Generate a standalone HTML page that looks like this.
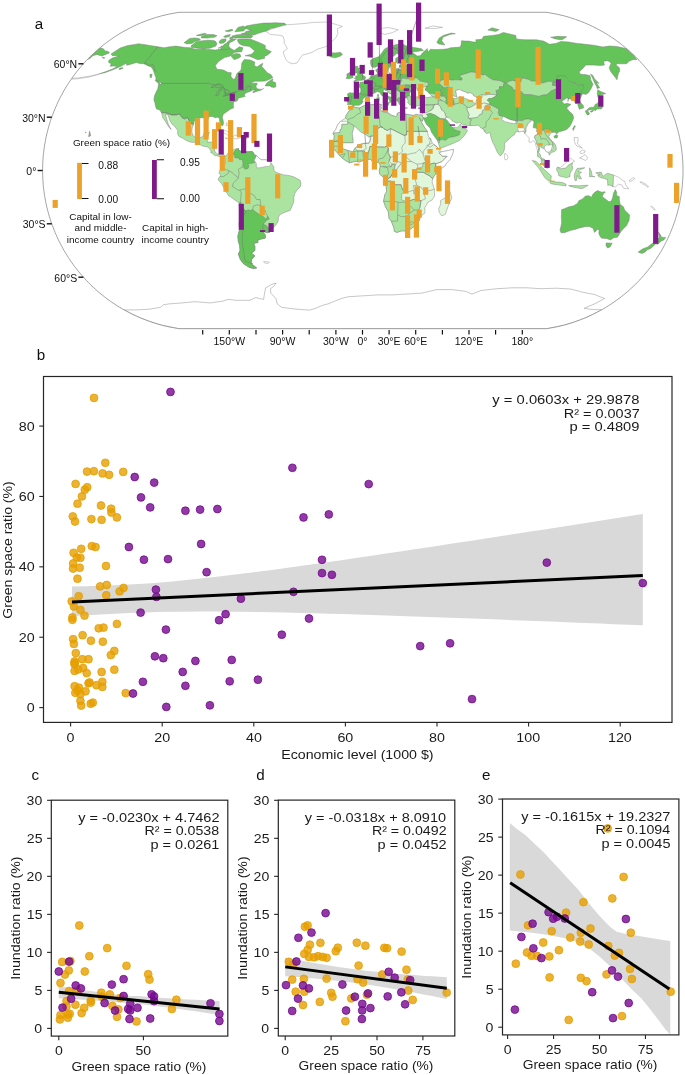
<!DOCTYPE html>
<html><head><meta charset="utf-8"><title>Figure</title>
<style>html,body{margin:0;padding:0;background:#fff;}svg{display:block;will-change:transform;}text{font-family:"Liberation Sans",sans-serif;}</style>
</head><body>
<svg width="685" height="1075" viewBox="0 0 685 1075" font-family='"Liberation Sans", sans-serif'>
<rect width="685" height="1075" fill="#ffffff"/>
<defs><clipPath id="mapclip"><path d="M546.7 12.3 L556.5 14.1 L563.9 15.8 L570.1 17.6 L575.5 19.4 L580.4 21.2 L584.8 22.9 L588.9 24.7 L592.7 26.5 L596.2 28.3 L599.6 30.1 L602.8 31.8 L605.8 33.6 L608.7 35.4 L611.4 37.2 L614 38.9 L616.5 40.7 L619 42.5 L621.3 44.3 L623.5 46.1 L625.7 47.8 L627.8 49.6 L629.8 51.4 L631.7 53.2 L633.6 54.9 L635.5 56.7 L637.2 58.5 L639 60.3 L640.6 62.1 L642.2 63.8 L643.8 65.6 L645.3 67.4 L646.8 69.2 L648.2 70.9 L649.6 72.7 L651 74.5 L652.3 76.3 L653.6 78.1 L654.8 79.8 L656 81.6 L657.2 83.4 L658.3 85.2 L659.4 86.9 L660.5 88.7 L661.6 90.5 L662.6 92.3 L663.5 94.1 L664.5 95.8 L665.4 97.6 L666.3 99.4 L667.2 101.2 L668 102.9 L668.8 104.7 L669.6 106.5 L670.4 108.3 L671.1 110.1 L671.8 111.8 L672.5 113.6 L673.2 115.4 L673.8 117.2 L674.5 118.9 L675.1 120.7 L675.6 122.5 L676.2 124.3 L676.7 126.1 L677.2 127.8 L677.7 129.6 L678.1 131.4 L678.6 133.2 L679 134.9 L679.4 136.7 L679.8 138.5 L680.1 140.3 L680.4 142.1 L680.8 143.8 L681.1 145.6 L681.3 147.4 L681.6 149.2 L681.8 150.9 L682 152.7 L682.2 154.5 L682.4 156.3 L682.5 158.1 L682.6 159.8 L682.8 161.6 L682.8 163.4 L682.9 165.2 L683 166.9 L683 168.7 L683 170.5 L683 172.3 L683 174.1 L682.9 175.8 L682.8 177.6 L682.8 179.4 L682.6 181.2 L682.5 182.9 L682.4 184.7 L682.2 186.5 L682 188.3 L681.8 190.1 L681.6 191.8 L681.3 193.6 L681.1 195.4 L680.8 197.2 L680.4 198.9 L680.1 200.7 L679.8 202.5 L679.4 204.3 L679 206.1 L678.6 207.8 L678.1 209.6 L677.7 211.4 L677.2 213.2 L676.7 214.9 L676.2 216.7 L675.6 218.5 L675.1 220.3 L674.5 222.1 L673.8 223.8 L673.2 225.6 L672.5 227.4 L671.8 229.2 L671.1 230.9 L670.4 232.7 L669.6 234.5 L668.8 236.3 L668 238.1 L667.2 239.8 L666.3 241.6 L665.4 243.4 L664.5 245.2 L663.5 246.9 L662.6 248.7 L661.6 250.5 L660.5 252.3 L659.4 254.1 L658.3 255.8 L657.2 257.6 L656 259.4 L654.8 261.2 L653.6 262.9 L652.3 264.7 L651 266.5 L649.6 268.3 L648.2 270.1 L646.8 271.8 L645.3 273.6 L643.8 275.4 L642.2 277.2 L640.6 278.9 L639 280.7 L637.2 282.5 L635.5 284.3 L633.6 286.1 L631.7 287.8 L629.8 289.6 L627.8 291.4 L625.7 293.2 L623.5 294.9 L621.3 296.7 L619 298.5 L616.5 300.3 L614 302.1 L611.4 303.8 L608.7 305.6 L605.8 307.4 L602.8 309.2 L599.6 310.9 L596.2 312.7 L592.7 314.5 L588.9 316.3 L584.8 318.1 L580.4 319.8 L575.5 321.6 L570.1 323.4 L563.9 325.2 L556.5 326.9 L546.7 328.7 L178.9 328.7 L169.1 326.9 L161.7 325.2 L155.5 323.4 L150.1 321.6 L145.2 319.8 L140.8 318.1 L136.7 316.3 L132.9 314.5 L129.4 312.7 L126 310.9 L122.8 309.2 L119.8 307.4 L116.9 305.6 L114.2 303.8 L111.6 302.1 L109.1 300.3 L106.6 298.5 L104.3 296.7 L102.1 294.9 L99.9 293.2 L97.8 291.4 L95.8 289.6 L93.9 287.8 L92 286.1 L90.1 284.3 L88.4 282.5 L86.6 280.7 L85 278.9 L83.4 277.2 L81.8 275.4 L80.3 273.6 L78.8 271.8 L77.4 270.1 L76 268.3 L74.6 266.5 L73.3 264.7 L72 262.9 L70.8 261.2 L69.6 259.4 L68.4 257.6 L67.3 255.8 L66.2 254.1 L65.1 252.3 L64 250.5 L63 248.7 L62.1 246.9 L61.1 245.2 L60.2 243.4 L59.3 241.6 L58.4 239.8 L57.6 238.1 L56.8 236.3 L56 234.5 L55.2 232.7 L54.5 230.9 L53.8 229.2 L53.1 227.4 L52.4 225.6 L51.8 223.8 L51.1 222.1 L50.5 220.3 L50 218.5 L49.4 216.7 L48.9 214.9 L48.4 213.2 L47.9 211.4 L47.5 209.6 L47 207.8 L46.6 206.1 L46.2 204.3 L45.8 202.5 L45.5 200.7 L45.2 198.9 L44.8 197.2 L44.5 195.4 L44.3 193.6 L44 191.8 L43.8 190.1 L43.6 188.3 L43.4 186.5 L43.2 184.7 L43.1 182.9 L43 181.2 L42.8 179.4 L42.8 177.6 L42.7 175.8 L42.6 174.1 L42.6 172.3 L42.6 170.5 L42.6 168.7 L42.6 166.9 L42.7 165.2 L42.8 163.4 L42.8 161.6 L43 159.8 L43.1 158.1 L43.2 156.3 L43.4 154.5 L43.6 152.7 L43.8 150.9 L44 149.2 L44.3 147.4 L44.5 145.6 L44.8 143.8 L45.2 142.1 L45.5 140.3 L45.8 138.5 L46.2 136.7 L46.6 134.9 L47 133.2 L47.5 131.4 L47.9 129.6 L48.4 127.8 L48.9 126.1 L49.4 124.3 L50 122.5 L50.5 120.7 L51.1 118.9 L51.8 117.2 L52.4 115.4 L53.1 113.6 L53.8 111.8 L54.5 110.1 L55.2 108.3 L56 106.5 L56.8 104.7 L57.6 102.9 L58.4 101.2 L59.3 99.4 L60.2 97.6 L61.1 95.8 L62.1 94.1 L63 92.3 L64 90.5 L65.1 88.7 L66.2 86.9 L67.3 85.2 L68.4 83.4 L69.6 81.6 L70.8 79.8 L72 78.1 L73.3 76.3 L74.6 74.5 L76 72.7 L77.4 70.9 L78.8 69.2 L80.3 67.4 L81.8 65.6 L83.4 63.8 L85 62.1 L86.6 60.3 L88.4 58.5 L90.1 56.7 L92 54.9 L93.9 53.2 L95.8 51.4 L97.8 49.6 L99.9 47.8 L102.1 46.1 L104.3 44.3 L106.6 42.5 L109.1 40.7 L111.6 38.9 L114.2 37.2 L116.9 35.4 L119.8 33.6 L122.8 31.8 L126 30.1 L129.4 28.3 L132.9 26.5 L136.7 24.7 L140.8 22.9 L145.2 21.2 L150.1 19.4 L155.5 17.6 L161.7 15.8 L169.1 14.1 L178.9 12.3Z"/></clipPath></defs>
<g clip-path="url(#mapclip)">
<path d="M111.1 53.9 L120.2 48 L127.1 45.7 L131 45 L134.8 44.4 L138.7 43.7 L141.4 44.2 L144.1 44.6 L147.1 45 L150 45.5 L152.9 45.9 L155.4 46.3 L157.9 46.8 L161 47.3 L164.2 47.8 L169.5 46.8 L172.7 46.4 L175.9 46.1 L179.1 46.6 L182.3 47.1 L185 47.4 L187.7 47.6 L190.5 47.8 L192.8 48.5 L195.2 49.3 L198.2 49.3 L201.1 49.3 L204.1 49.3 L206.9 49.4 L209.7 49.6 L212.5 49.8 L215.4 50 L220.2 49.3 L226.1 46.9 L228.5 47.7 L230.9 48.5 L234.2 50.5 L239.3 46.8 L243 47.8 L241.7 51.7 L238.3 52 L234.8 52.3 L229.8 56.2 L224.5 57.6 L218.9 61.2 L215.3 65.6 L216.9 69.2 L220.2 69.6 L223.6 70.1 L227.5 72.2 L231.3 72.7 L230.9 76.3 L233.2 79.3 L235 78.8 L236.9 73.6 L241 70.1 L241.5 66.5 L241.8 62.9 L244.3 59.4 L247.2 59.7 L250.2 59.9 L254.8 62.1 L254.3 65.6 L257 66.9 L261 64.2 L262.8 63.3 L261.8 66.5 L265.4 70.6 L267.2 72.7 L270.7 74.5 L272.8 77.5 L270.2 79.1 L265.2 81.1 L261.5 81.2 L257.8 81.3 L254.6 81.3 L248.8 84.6 L245.4 87.1 L250.7 83.7 L256.6 83 L257.4 84.3 L256 85.3 L256.2 87.5 L257.7 88.9 L261.8 89.4 L263.6 88.5 L260.8 90.3 L257.3 91.2 L252.8 92.8 L253.4 91.2 L255.9 90 L252.5 90.1 L250.1 91.4 L245.7 93 L244.2 95.3 L245.4 96.2 L242.7 97.1 L238.2 98.3 L237.7 100.3 L235.9 101.5 L233.7 101.7 L233.3 104.2 L233.5 107.9 L230.2 109.3 L227.2 111.5 L223.4 114 L222.3 117.2 L223.1 120.2 L223.6 123.4 L222.6 125.7 L221.3 125.2 L219.6 121.6 L219.5 118.6 L217.6 117.2 L215 117.7 L212.6 116.5 L208.6 116.8 L208.4 118.8 L206.2 118.4 L202 117.7 L199.3 118.1 L194.1 121.3 L193.6 124.3 L190.3 123.2 L188.9 120.2 L187.5 117.5 L184.5 118.9 L182.1 117.7 L179.5 114 L176.3 114.9 L171.5 114.9 L165.5 112.7 L161.5 112.7 L159.8 110.1 L156.5 109 L155.3 105.4 L155 103.3 L153.9 99.7 L154.5 95.8 L156.1 92.1 L157.9 88.4 L158.4 84.5 L161.1 84.6 L161.4 83.2 L159.2 81.6 L155.8 80.2 L156 78.1 L154.4 73.6 L153.2 70.1 L151.2 66.9 L147.4 65.6 L143.9 63.8 L139.5 63.5 L136.4 62.4 L133.3 63.5 L129.3 64.7 L126.6 65.3 L126.7 62.9 L122.4 65.6 L116.5 68.3 L112.1 70.1 L104.7 72.7 L99.4 73.8 L107.4 71.1 L114.2 68.3 L116.7 66 L113.4 66.1 L110.1 66.3 L111.3 63.8 L108.6 62.4 L108.9 60.3 L112.3 58.1 L119.7 55.8 L116.9 55.7 L112.3 55.7 L111.1 53.9Z" fill="#64C45A" stroke="#7a7a7a" stroke-width="0.45" stroke-linejoin="round"/>
<path d="M250.9 39.3 L253.2 40.2 L255.5 41.1 L258.3 42.2 L261.3 43.4 L265.3 45.5 L265.3 48.7 L268.3 50.2 L271.4 51.7 L267.7 54.9 L264.5 56.4 L264.5 58.5 L261.2 59.1 L257.9 59.7 L253.9 58.1 L249.4 56.2 L245 55.8 L248.4 54.9 L251.8 54.1 L254.8 50.9 L252.1 48.7 L249.6 46.4 L246.6 46.1 L243.5 45.7 L239.5 43.9 L237.7 41.3 L237.6 39.3 L240.9 39.1 L244.2 38.9 L247.5 39.1 L250.9 39.3Z" fill="#64C45A" stroke="#7a7a7a" stroke-width="0.45" stroke-linejoin="round"/>
<path d="M192.8 44.6 L196.2 41.8 L199.5 41.3 L202.8 40.7 L207.5 40.2 L210.2 40.3 L213 40.4 L215.2 41.1 L217 43.4 L215.8 46.1 L209.9 48.2 L206.8 48.5 L203.6 48.9 L200.2 48.5 L196.8 48.2 L194.1 47.8 L191.5 47.5 L190.9 46.1Z" fill="#64C45A" stroke="#7a7a7a" stroke-width="0.45" stroke-linejoin="round"/>
<path d="M184 42.7 L189.6 38.4 L195 37.9 L199.1 38.6 L200.6 40 L194.9 41.6 L192 43.4 L187.2 43.9Z" fill="#64C45A" stroke="#7a7a7a" stroke-width="0.45" stroke-linejoin="round"/>
<path d="M201.2 37.9 L201.8 35.9 L207.3 34.5 L210.4 34.5 L213.4 34.5 L217 35.7 L214.3 37.2 L210.8 37.6 L207.3 38.1 L204.3 38Z" fill="#64C45A" stroke="#7a7a7a" stroke-width="0.45" stroke-linejoin="round"/>
<path d="M196.2 35.4 L200.4 34.3 L204.6 33.3 L206.5 34 L199.9 35.7Z" fill="#64C45A" stroke="#7a7a7a" stroke-width="0.45" stroke-linejoin="round"/>
<path d="M225.5 35.4 L230.4 34.5 L229.3 36.6 L225.1 37.5 L223.6 36.8Z" fill="#64C45A" stroke="#7a7a7a" stroke-width="0.45" stroke-linejoin="round"/>
<path d="M230.2 37.2 L234.6 36.8 L232.6 38.6 L229.6 38.8Z" fill="#64C45A" stroke="#7a7a7a" stroke-width="0.45" stroke-linejoin="round"/>
<path d="M235.2 37.9 L238.4 37.9 L241.5 37.9 L244.7 38 L247.9 38 L251 38.1 L253 36.1 L250 34.7 L246.7 34.5 L243.4 34.3 L239.8 34.6 L236.2 34.9 L231.8 36.1Z" fill="#64C45A" stroke="#7a7a7a" stroke-width="0.45" stroke-linejoin="round"/>
<path d="M241.3 33.6 L243.8 33.9 L246.3 34.2 L248.8 34.5 L251.3 34.7 L253.8 35 L257.8 33.6 L261.9 32.2 L267.6 30.8 L270.4 28.6 L273.5 28 L276.5 27.4 L279.5 26.9 L282.9 25.8 L286.2 24.7 L284.8 23.3 L282.1 23.1 L279.3 22.9 L276.6 22.8 L274.1 22.8 L271.6 22.9 L269 23 L266.5 23.1 L263.9 23.1 L260.6 23.5 L257.3 24 L253.9 24.4 L249.9 25.2 L245.9 26 L245.1 27.9 L246.9 28.8 L248.7 29.7 L251.3 30.4 L245.8 31.5 L244.3 33.3Z" fill="#64C45A" stroke="#7a7a7a" stroke-width="0.45" stroke-linejoin="round"/>
<path d="M234.8 31.8 L237.8 31.5 L240.7 31.2 L243.6 30.9 L246.6 27.7 L244.9 26.9 L243.3 26 L237.9 27.4Z" fill="#64C45A" stroke="#7a7a7a" stroke-width="0.45" stroke-linejoin="round"/>
<path d="M225.1 30.9 L228.6 30.1 L232.2 29.2 L232.9 30.4 L228.1 31.8Z" fill="#64C45A" stroke="#7a7a7a" stroke-width="0.45" stroke-linejoin="round"/>
<path d="M219 41.6 L221.5 39.3 L226 38.9 L226.1 40.7 L223.7 43 L219.8 43.4Z" fill="#64C45A" stroke="#7a7a7a" stroke-width="0.45" stroke-linejoin="round"/>
<path d="M226.9 42.5 L230.9 38.9 L233.7 38.9 L236.5 38.9 L232.5 41.6 L228.8 42.9Z" fill="#64C45A" stroke="#7a7a7a" stroke-width="0.45" stroke-linejoin="round"/>
<path d="M218 48.2 L223.5 46.4 L221.6 46.1 L219.9 47.5Z" fill="#64C45A" stroke="#7a7a7a" stroke-width="0.45" stroke-linejoin="round"/>
<path d="M220 49.6 L224.2 44.3 L227.5 42.7 L229.3 43.2 L228.8 46.1 L229.9 47.8 L227.4 49.6 L223.7 49.6Z" fill="#64C45A" stroke="#7a7a7a" stroke-width="0.45" stroke-linejoin="round"/>
<path d="M230.8 55.7 L232.2 57.4 L234.2 59.7 L238.7 58.1 L241 56.4 L239.8 54.1 L235.6 53.5Z" fill="#64C45A" stroke="#7a7a7a" stroke-width="0.45" stroke-linejoin="round"/>
<path d="M265.1 85.9 L266.7 83 L270.2 80.5 L273 78.8 L272.4 81.6 L275.5 82.5 L275.8 85.2 L276 86.6 L274.2 87.5 L270.8 86.9 L270.7 85.9Z" fill="#64C45A" stroke="#7a7a7a" stroke-width="0.45" stroke-linejoin="round"/>
<path d="M149.9 74.5 L152.1 74.1 L151.4 77.7 L150 77.2Z" fill="#64C45A" stroke="#7a7a7a" stroke-width="0.45" stroke-linejoin="round"/>
<path d="M155 80.2 L158.7 80.9 L160.3 84.5 L158.3 83.6Z" fill="#64C45A" stroke="#7a7a7a" stroke-width="0.45" stroke-linejoin="round"/>
<path d="M121.7 67.6 L123.4 68.1 L119.5 69.7 L119.1 68.6Z" fill="#64C45A" stroke="#7a7a7a" stroke-width="0.45" stroke-linejoin="round"/>
<path d="M265.9 31.3 L268.1 32.9 L270.5 34.5 L273 34.7 L275.6 34.9 L278.2 35.2 L280.8 35.4 L283.1 36.3 L284.2 39.8 L284.2 43.4 L286 46.1 L287.3 48.7 L283.3 51.7 L284.3 55.8 L286.2 59.9 L288.6 62.4 L292.9 63.8 L297 62.9 L299.3 59.4 L302.6 54.9 L307.4 53.9 L312.2 52.3 L317.2 49.3 L321.1 48.1 L325 46.9 L330.3 45.2 L331.6 41.6 L335.7 38.1 L337.8 33.6 L337.4 28.6 L342.4 26.5 L340 25.7 L337.6 25 L335.3 24.2 L333 23.7 L330.7 23.1 L328.4 22.6 L326.2 22.1 L323.7 22.1 L321.2 22.2 L318.7 22.3 L316.2 22.3 L313.8 22.4 L311.1 22.7 L308.5 23 L305.9 23.3 L303.2 23.5 L300.6 23.8 L297.9 24 L295.3 24.2 L292.7 24.4 L290.1 24.5 L287.4 24.7 L283.6 25.6 L279.8 26.5 L275.6 27.8 L271.4 29.2Z" fill="#ffffff" stroke="#8c8c8c" stroke-width="0.45" stroke-linejoin="round"/>
<path d="M326.8 54.1 L330 52.5 L335.2 53 L340.5 52.3 L342.5 54.6 L340.1 56.2 L335.4 57.8 L330.9 57.1 L328.8 55.8 L329.8 54.4Z" fill="#64C45A" stroke="#7a7a7a" stroke-width="0.45" stroke-linejoin="round"/>
<path d="M161.5 112.7 L165.5 112.7 L171.5 114.9 L176.3 114.9 L179.5 114 L182.1 117.7 L184.5 118.9 L187.5 117.5 L188.9 120.2 L190.3 123.2 L193.6 124.3 L192.1 127.8 L191.9 132.3 L193.2 135.8 L196.4 138.1 L199.5 137.6 L202.7 136.7 L204 133.2 L209.4 132.3 L207.4 137.6 L207.2 142.1 L211 142.1 L213.7 142.2 L215.7 143.8 L214.6 148.3 L214.6 151.1 L216.5 153.4 L218.2 154.5 L221.8 153.4 L224.7 155.2 L225.6 156.5 L223.9 157.2 L222.6 154.7 L220.7 157.3 L217.2 155.7 L214.6 155.6 L212.6 153.4 L210.8 152.7 L210.9 150.8 L209.6 148.8 L208 147 L204.5 146.5 L201.9 145.8 L199.9 144.5 L196.1 141.7 L193.3 142.6 L189.9 141.9 L186.5 140.6 L183.2 138.5 L179 136.4 L177.6 134.1 L177.8 130.5 L174.5 126.1 L172.2 124.3 L169.6 119.8 L168.1 114.9 L165.3 114.1 L166.5 118.1 L168 123.4 L169.9 127.3 L171.3 129.3 L170 128.5 L167.6 125.2 L165 120.7 L162.6 117.5 L162.1 114.5Z" fill="#ABE4A0" stroke="#7a7a7a" stroke-width="0.45" stroke-linejoin="round"/>
<path d="M214 131.6 L218.4 130.1 L222 129.4 L227 131.4 L230.3 133.5 L232.5 134.6 L227.5 135.1 L225.9 133.7 L221.7 131.7 L219.2 130.9 L216.5 131.4Z" fill="#ffffff" stroke="#8c8c8c" stroke-width="0.45" stroke-linejoin="round"/>
<path d="M231.7 137.8 L235.1 135.1 L239.8 135.5 L242.4 137.4 L239.6 138.1 L236.7 138.9 L232.5 138.1Z" fill="#ffffff" stroke="#8c8c8c" stroke-width="0.45" stroke-linejoin="round"/>
<path d="M225 137.8 L228.6 138.5 L227.2 139Z" fill="#ffffff" stroke="#8c8c8c" stroke-width="0.45" stroke-linejoin="round"/>
<path d="M244.5 137.6 L247.3 138 L245.7 138.7Z" fill="#ffffff" stroke="#8c8c8c" stroke-width="0.45" stroke-linejoin="round"/>
<path d="M226.3 122.9 L228.9 123.4 L227.7 125.5 L226.3 125.7Z" fill="#ffffff" stroke="#8c8c8c" stroke-width="0.45" stroke-linejoin="round"/>
<path d="M225.6 156.5 L226.5 155.2 L229 151.8 L231.3 150.6 L234.4 149.5 L236.6 148.5 L238.9 148.8 L238.4 150.1 L241.7 151.7 L245.8 151.7 L249 151.7 L252 151.5 L253.2 152.4 L254.5 155.2 L256.3 155.4 L258.9 158.1 L261.2 159.8 L265.1 159.8 L268.6 160.4 L271.1 163 L273.9 166.9 L273.9 170.5 L276.5 172.6 L280.1 173.8 L283.7 174.9 L289.9 175.7 L294.3 177.1 L300.2 180.3 L301 183.8 L300.2 187 L296.9 190.2 L294.7 193.6 L293.9 197.2 L293.7 202 L291.7 206.9 L290.1 210.5 L287.2 211.4 L284.2 212.6 L279.9 214.6 L278.3 217.6 L278.2 221.2 L276.1 224.7 L273.4 227.7 L271.3 230.4 L269.6 232.4 L266.7 232.5 L263.9 231.7 L262.9 231.8 L265.3 234.9 L265.3 238.1 L261.6 238.9 L258 239.8 L257.9 242.5 L253.5 243.4 L254.9 246.1 L254.9 250.5 L251.4 253.2 L254.8 255.8 L251.6 259.7 L251.2 262.4 L252.3 263.7 L252.5 264.7 L256.7 267.9 L253.8 268.6 L249.4 267.4 L243.5 263.8 L240.3 259.4 L238.4 254.1 L240 250.5 L239.6 245.2 L238.4 241.6 L237.8 236.3 L238.7 232.7 L239.7 229.2 L239.2 223.8 L239.9 219.4 L239.8 215.8 L239.7 212.3 L239.5 207.7 L239.2 203 L235.9 200.7 L232.1 198.1 L228.4 195.4 L225.1 190.1 L221.6 183.8 L218.5 180.3 L218.3 178.1 L220 176.5 L220.5 174.9 L218.9 173.2 L220.5 169.1 L222.3 168.4 L223.2 166.1 L225.2 163.4 L225.5 158.9 L224.5 157.5Z" fill="#ABE4A0" stroke="#7a7a7a" stroke-width="0.45" stroke-linejoin="round"/>
<path d="M235.4 150.1 L236.5 149.2 L238.9 148.8 L238.4 150.1 L241.7 151.7 L245.8 151.7 L249 151.7 L252 151.5 L253.2 152.4 L254.5 155.2 L256.3 155.4 L255 158.9 L253.9 160 L254.9 161.3 L254.7 162.5 L252.6 163 L250.8 163.6 L247.9 163.4 L249 166.1 L248.1 168.4 L244.9 169.3 L243.6 167.3 L242.2 165.5 L243.1 164.3 L242.3 159.5 L239.7 159.7 L238.3 158.1 L234.9 157.7 L234.3 155.6 L233.5 154.1 L232.7 154.1 L234.3 151.8 L235.2 150.6Z" fill="#64C45A" stroke="#7a7a7a" stroke-width="0.45" stroke-linejoin="round"/>
<path d="M256.3 155.4 L258.9 158.1 L261.2 159.8 L265.1 159.8 L268.6 160.4 L271.1 163 L269.4 166.4 L265.9 166.4 L263.2 167.1 L259.6 167.8 L256.6 167.8 L256.4 166.1 L256.3 163.4 L254.9 161.3 L253.9 160 L255 158.9Z" fill="#ffffff" stroke="#8c8c8c" stroke-width="0.45" stroke-linejoin="round"/>
<path d="M239.2 203 L240.4 201.8 L241.8 204.3 L242.6 207.8 L245.6 211 L248.1 209.8 L250.2 210.5 L252.8 209.6 L256.2 212.3 L260.8 215.5 L262.4 215.8 L266.1 219.2 L267.7 216 L269.3 218.9 L266.2 220.6 L263.3 224.2 L266.2 225.6 L271.3 230.4 L269.6 232.4 L266.7 232.5 L263.9 231.7 L262.9 231.8 L265.3 234.9 L265.3 238.1 L261.6 238.9 L258 239.8 L257.9 242.5 L253.5 243.4 L254.9 246.1 L254.9 250.5 L251.4 253.2 L254.8 255.8 L251.6 259.7 L251.2 262.4 L252.3 263.7 L252.5 264.7 L256.7 267.9 L253.8 268.6 L249.4 267.4 L243.5 263.8 L240.3 259.4 L238.4 254.1 L240 250.5 L239.6 245.2 L238.4 241.6 L237.8 236.3 L238.7 232.7 L239.7 229.2 L239.2 223.8 L239.9 219.4 L239.8 215.8 L239.7 212.3 L239.5 207.7Z" fill="#64C45A" stroke="#7a7a7a" stroke-width="0.45" stroke-linejoin="round"/>
<path d="M263.5 261.7 L267.2 261.7 L269.3 262.4 L267.6 263.5 L264.6 262.9Z" fill="#ffffff" stroke="#8c8c8c" stroke-width="0.45" stroke-linejoin="round"/>
<path d="M407.5 46.4 L403 44.3 L400.1 44.3 L397.3 44.3 L393.8 45.2 L390.3 46.1 L387.6 47.4 L384.8 48.7 L381.5 53.2 L378.7 56.7 L373.5 58.5 L370.5 60.3 L370.6 63.8 L371.4 66.5 L373.8 67.4 L376.1 66.9 L379.2 65.3 L381.3 66.9 L382.6 70.1 L383.3 72 L385.5 71.7 L388.1 70.6 L388.8 68.3 L391.2 65.1 L389.9 62.6 L389.3 59.4 L391.7 57.6 L395.1 54.9 L396.5 53.5 L400.9 54.9 L399.8 55.8 L395.6 58.5 L395.7 62.1 L397.7 63.5 L401.6 63.5 L406.1 62.9 L408.2 61.5 L410.9 58.7 L409 56.7 L408 55.3 L406.2 53 L407.1 50.1 L404.7 49.3 L405.8 47.5Z" fill="#64C45A" stroke="#7a7a7a" stroke-width="0.45" stroke-linejoin="round"/>
<path d="M406.4 64.9 L401.7 64.7 L399.4 65.3 L399.6 67 L401 67.7 L401.1 69 L399.9 69.2 L396.8 68.3 L396 70.1 L396.3 71.5 L394.7 72.9 L392.3 73.1 L388.4 74 L385.5 74.7 L380.4 74.5 L380.1 73.6 L378.7 72.9 L378.5 71.8 L379.8 70.8 L378.9 70.1 L379.3 68.8 L378.5 68.1 L375.6 69.9 L376.5 71.8 L378 73.1 L376.7 74.5 L374 75.4 L370.8 75.6 L370.1 77.5 L368.5 78.9 L366.9 79.7 L365.4 80 L365.2 81.3 L363.1 82.1 L360.7 82.3 L359.7 82.1 L360.3 84.1 L357.9 83.7 L355.1 84.5 L355.7 85.5 L358.7 86.4 L360.8 88.7 L360.8 91.4 L359.8 93.3 L356.5 93.2 L353.1 93 L349.5 92.8 L347.3 94.1 L347.9 96 L348 98.5 L346.7 101.5 L347.9 102.9 L347.5 104.7 L350.2 104.4 L352.1 105.1 L353.3 106.5 L355.1 105.3 L359.2 105.3 L361.6 103.7 L363.1 101.5 L362.3 100.3 L364.1 97.6 L368.2 96 L368 93.9 L369.5 93.2 L372.8 93.9 L375.3 92.6 L377.4 91.6 L379.8 92.5 L381.2 94.9 L383.4 96.4 L386 97.3 L389.3 99.4 L389.9 102.1 L389.4 102.9 L390.9 102.1 L391.7 101.2 L390.6 99.7 L391.4 98.5 L394 99.2 L393.1 98.1 L389.7 96.7 L387.1 95.5 L385.5 93.2 L383.2 91.4 L383.4 89.8 L385.5 89.3 L385.4 90.3 L386.8 90 L387.7 91.4 L389.5 93.2 L392 94.1 L393.8 95.1 L395.2 96 L395.4 97.6 L395.7 99.4 L396.6 100.3 L398.4 102.4 L399.7 105.1 L401.1 105.8 L401.9 103.8 L403.5 102.9 L401.4 101.2 L402.4 99 L403.2 98.1 L406.5 98 L406.8 96.4 L409.7 95.8 L409.5 93.2 L410.4 91.7 L412.1 90.1 L409.5 89.6 L409.9 87.8 L411.3 86.1 L409.6 84.8 L406.4 84.6 L402.2 85.3 L400.4 85.2 L399 84.5 L399.7 83.2 L401.8 80.7 L401 78.8 L403.2 78.2 L406.5 78.8 L412.2 78.9 L414.1 77.9 L415.3 75.9 L412.4 74.5 L411.8 71.8 L407.5 70.8 L407.4 70.1 L406.3 68.5 L406 67.4Z" fill="#64C45A" stroke="#7a7a7a" stroke-width="0.45" stroke-linejoin="round"/>
<path d="M385.4 90.3 L386.8 90 L387.7 91.4 L389.5 93.2 L392 94.1 L393.8 95.1 L395.2 96 L395.4 97.6 L395.7 99.4 L396.6 100.3 L398.1 98 L400.6 97.3 L401.3 95.5 L400.2 91.9 L398.5 90.9 L395.1 90.1 L392.7 90.3 L389.3 90.1 L388 89.4Z" fill="#ABE4A0" stroke="#7a7a7a" stroke-width="0.45" stroke-linejoin="round"/>
<path d="M412.1 90.1 L409.5 89.6 L409.9 87.8 L411.3 86.1 L409.6 84.8 L406.4 84.6 L402.2 85.3 L400.4 85.2 L399 84.5 L399.7 83.2 L401.8 80.7 L401 78.8 L403.2 78.2 L406.5 78.8 L412.2 78.9 L414.1 77.9 L417.3 77.5 L418.6 79.5 L420.5 80.9 L424.7 81.8 L428.2 82.3 L428.5 85.2 L425.9 86.8 L424.6 86.9 L422.2 87.5 L420.6 88.4 L421.7 90 L423.3 89.8 L421.1 90.9 L418.5 91.6 L416.7 89.8 L418.4 88.9 L415.6 87.8 L414 87.7 L413.5 88Z" fill="#ABE4A0" stroke="#7a7a7a" stroke-width="0.45" stroke-linejoin="round"/>
<path d="M353.5 81.6 L357.9 80.5 L362.8 80.2 L365.1 79.5 L365.5 76.8 L363.3 75.6 L362.5 74.1 L360.4 72.2 L359.6 71.1 L358.8 70.1 L360 68.1 L357.3 67.9 L358.1 66.3 L355 66.3 L354.1 68.3 L353.3 70.1 L354.1 72 L355.1 73.1 L357.7 72.9 L357.2 74.1 L358 75.7 L355.4 75.9 L356 77.5 L354.2 78.4 L357.5 79.1 L355.5 79.7Z" fill="#64C45A" stroke="#7a7a7a" stroke-width="0.45" stroke-linejoin="round"/>
<path d="M353.1 77.7 L352.9 75.4 L354 73.6 L352.5 72.4 L349.7 72.4 L346.8 74.1 L347 76.3 L346.1 78.4 L349 78.8Z" fill="#64C45A" stroke="#7a7a7a" stroke-width="0.45" stroke-linejoin="round"/>
<path d="M376.6 97.8 L379.3 97.6 L379 101 L377.2 101.2 L377 98.9Z" fill="#64C45A" stroke="#7a7a7a" stroke-width="0.45" stroke-linejoin="round"/>
<path d="M377.2 94.8 L378.7 94.4 L378.4 96.9 L377.6 96.5Z" fill="#64C45A" stroke="#7a7a7a" stroke-width="0.45" stroke-linejoin="round"/>
<path d="M383.8 102.8 L389.2 102.4 L388.5 105.3 L384 103.7Z" fill="#64C45A" stroke="#7a7a7a" stroke-width="0.45" stroke-linejoin="round"/>
<path d="M402.9 107.7 L407.7 107.9 L404.7 108.5Z" fill="#64C45A" stroke="#7a7a7a" stroke-width="0.45" stroke-linejoin="round"/>
<path d="M418 108.1 L421.8 107 L421 109 L418.4 108.8Z" fill="#64C45A" stroke="#7a7a7a" stroke-width="0.45" stroke-linejoin="round"/>
<path d="M377.4 30.9 L380.9 32.7 L384.5 34.5 L387.1 33.9 L389.7 33.3 L392.3 32.7 L395.3 31.2 L398.2 29.7 L395 29 L391.8 28.3 L388.6 27.6 L386.1 27.8 L383.5 28.1 L381 28.4 L378.4 28.6Z" fill="#ffffff" stroke="#8c8c8c" stroke-width="0.45" stroke-linejoin="round"/>
<path d="M425.1 28.3 L427.7 27.5 L430.2 26.7 L432.7 26 L436 26.4 L439.3 26.9 L442.6 27.4 L440.3 27.7 L437.9 28.1 L435.5 28.5 L432.9 28.4 L430.3 28.4 L427.7 28.3Z" fill="#ffffff" stroke="#8c8c8c" stroke-width="0.45" stroke-linejoin="round"/>
<path d="M407.5 46.4 L405.8 47.5 L404.7 49.3 L407.1 50.1 L406.2 53 L408 55.3 L409 56.7 L410.9 58.7 L408.2 61.5 L406.1 62.9 L409.9 64 L406.4 64.9 L406 67.4 L406.3 68.5 L407.4 70.1 L407.5 70.8 L411.8 71.8 L412.4 74.5 L415.3 75.9 L414.1 77.9 L417.3 77.5 L418.6 79.5 L420.5 80.9 L424.7 81.8 L428.2 82.3 L428.5 85.2 L425.9 86.8 L427.4 86.6 L425.8 87.7 L425.2 88.7 L425 90 L427 91.2 L429 93.2 L429.7 93.3 L432.9 93.5 L436.4 94.6 L439.9 95.8 L441.6 96.4 L444.1 96.2 L442.2 94.1 L441.3 91.4 L440.4 90.9 L441.4 89.1 L442.9 87.8 L444.2 87.8 L444.2 87.8 L441.6 85.2 L438.9 83.4 L440.8 80.7 L444.6 78.9 L448.7 79.3 L452.1 80.2 L454.5 79.8 L457.7 79.8 L461.8 80.2 L462.1 78.1 L459.3 76.3 L461.4 74.9 L466.6 73.4 L470.9 72 L475 72.4 L480.5 74.5 L483 74.9 L485.3 74.5 L488.5 77.2 L492.6 79.8 L495.9 80.2 L500.2 80.7 L503.2 82.5 L505.5 83.2 L506.3 83 L509.3 81.3 L512.2 80.4 L515.8 81.3 L520.9 82 L521.9 78.1 L524.5 78.4 L528.1 79.3 L532.1 81.3 L536.1 81.1 L539.1 82.5 L542.6 83 L545.5 82.3 L548.8 81.3 L553 81.8 L555.2 82.5 L557.3 81.3 L556.9 78.6 L557.4 76.3 L561 75.4 L565.4 76.3 L570.7 82 L575.4 83.4 L578.1 85.7 L583.4 84.6 L583.6 88.7 L580.8 90.7 L581.7 94.1 L581.5 94.9 L583 93.7 L586 94.4 L588.6 92.6 L591 88.7 L593 84.3 L590.7 79.8 L590.1 75.7 L585.3 74.5 L582.1 74.5 L579 73.3 L580 70.9 L583.6 67.7 L585.7 65.1 L589.6 65.1 L593.5 65.1 L596.8 65.3 L600.1 65.6 L604.4 65.1 L603.6 61.2 L607.9 60.8 L611.2 62.9 L609.2 67.7 L610.8 71.8 L614 75.8 L617 79.8 L617.7 76.3 L618.4 73.6 L619.7 70.9 L619.4 67.7 L615.8 64.7 L617.4 63.8 L620.5 63.8 L623.6 63.8 L626.7 63.8 L629 61.2 L631.3 60.3 L633.5 59.4 L636.9 59.7 L633.6 54.9 L626.7 48.7 L621.7 47.6 L616.7 46.4 L612.9 46.2 L609 46.1 L605.9 46.5 L602.8 46.9 L598.2 46.1 L593.6 45.2 L589.5 44.7 L585.4 44.3 L581.3 43.8 L577.2 43.4 L572.9 42.7 L568.6 42 L564.7 41.7 L560.9 41.4 L558.4 42.4 L555.8 43.4 L552.7 43.8 L549.5 44.3 L543.6 41.1 L540.2 40.5 L536.7 39.8 L533.9 39.8 L531.1 39.8 L528.3 39.8 L524.7 39.7 L521 39.5 L516.3 38.9 L515.8 35.4 L511.6 34.4 L507.5 33.4 L503.3 32.4 L501 33.4 L498.6 34.5 L495.6 34.9 L492.6 35.4 L489.6 35.7 L486.6 36 L483.7 36.3 L481.7 39.3 L478.7 39.6 L475.7 39.8 L476.4 42.1 L473.5 42 L468.7 41.1 L465.2 41.1 L461.5 40.7 L461.2 44.3 L460.3 46.9 L457.5 47.3 L454 47.6 L450.4 47.8 L447.8 48.7 L443.6 49.3 L440 49.4 L436.4 49.6 L433.4 49.4 L430.4 49.3 L428.3 52.3 L427.3 48.7 L423.1 52.3 L420.2 55.8 L417.2 56 L414.5 54.1 L411.9 51.9 L416.2 51.6 L419.8 51 L423.4 50.5 L421.5 48.7 L417.6 48.1 L413.8 47.5 L410.8 47.1Z" fill="#64C45A" stroke="#7a7a7a" stroke-width="0.45" stroke-linejoin="round"/>
<path d="M99.9 47.8 L103.3 48.7 L105.3 50.9 L108.4 51.4 L109.4 53 L106.2 54.2 L101.9 56 L99.1 55.3 L97 54.4 L92.9 55.8 L89.9 58.5 L87.5 59.4 L91.3 55.5 L95.5 51.7Z" fill="#64C45A" stroke="#7a7a7a" stroke-width="0.45" stroke-linejoin="round"/>
<path d="M99.4 73.8 L94.4 75 L89.4 76.3 L85.8 76.8 L82.2 77.3 L78.6 77.9 L75.2 78.1 L71.8 78.4 L71.3 79.1 L74.6 78.9 L78 78.8 L81.6 78.2 L85.3 77.6 L88.9 77 L94 75.7 L99.1 74.3Z" fill="#ffffff" stroke="#8c8c8c" stroke-width="0.45" stroke-linejoin="round"/>
<path d="M102.2 57.1 L104.9 58 L103 58.3Z" fill="#64C45A" stroke="#7a7a7a" stroke-width="0.45" stroke-linejoin="round"/>
<path d="M89.6 131 L90.7 135.8 L88.6 136.7Z" fill="#64C45A" stroke="#7a7a7a" stroke-width="0.45" stroke-linejoin="round"/>
<path d="M85.3 132.1 L86.3 132.6 L85.5 132.8Z" fill="#64C45A" stroke="#7a7a7a" stroke-width="0.45" stroke-linejoin="round"/>
<path d="M440.4 90.9 L441.4 89.1 L442.9 87.8 L444.2 87.8 L446.8 86.9 L450.2 87.1 L447.9 90 L447.6 91.4 L451 94.9 L451.6 95.8 L453.4 98.5 L453.9 101.2 L454.4 104.7 L449.6 105.3 L446 103.7 L445.6 102.2 L446.2 98.9 L444.1 96.2 L442.2 94.1 L441.3 91.4Z" fill="#64C45A" stroke="#7a7a7a" stroke-width="0.45" stroke-linejoin="round"/>
<path d="M438.8 43.9 L441.9 44.5 L444.9 45 L441.7 40.7 L442.9 37.2 L445.2 36.3 L447.5 35.4 L449.7 34.5 L452.6 34.1 L455.4 33.8 L451.6 33.1 L448.9 33.8 L446.2 34.6 L443.4 35.4 L441.3 36.7 L439.2 38.1 L436.8 42.5Z" fill="#64C45A" stroke="#7a7a7a" stroke-width="0.45" stroke-linejoin="round"/>
<path d="M487.8 30.1 L489.9 28.9 L491.9 27.7 L495.6 28.7 L499.2 29.7 L497.5 30.6 L495.8 31.5 L491.8 30.8Z" fill="#64C45A" stroke="#7a7a7a" stroke-width="0.45" stroke-linejoin="round"/>
<path d="M550.6 37.2 L553 36.9 L555.5 36.6 L557.8 36.3 L560.8 36.5 L563.8 36.6 L566.8 36.8 L565.2 37.8 L563.6 38.8 L562 39.8 L558.7 39.4 L555.4 38.9Z" fill="#64C45A" stroke="#7a7a7a" stroke-width="0.45" stroke-linejoin="round"/>
<path d="M597.1 88.5 L599.7 87.8 L596.2 82.5 L599.1 83.4 L594.6 78.9 L592.8 75.4 L590.6 74 L592.5 78.1 L594.9 83.4 L596.4 86.1Z" fill="#64C45A" stroke="#7a7a7a" stroke-width="0.45" stroke-linejoin="round"/>
<path d="M394 73.8 L399.1 72.9 L398.6 72.5 L395.9 72.4Z" fill="#64C45A" stroke="#7a7a7a" stroke-width="0.45" stroke-linejoin="round"/>
<path d="M505.5 83.2 L503.2 82.5 L500.2 80.7 L495.9 80.2 L492.6 79.8 L488.5 77.2 L485.3 74.5 L483 74.9 L480.5 74.5 L475 72.4 L470.9 72 L466.6 73.4 L461.4 74.9 L459.3 76.3 L462.1 78.1 L461.8 80.2 L457.7 79.8 L454.5 79.8 L452.1 80.2 L448.7 79.3 L444.6 78.9 L440.8 80.7 L438.9 83.4 L441.6 85.2 L444.2 87.8 L444.2 87.8 L446.8 86.9 L450.2 87.1 L447.9 90 L447.6 91.4 L451 94.9 L451.6 95.8 L454.2 96.2 L456.9 97.1 L455.7 90.5 L459.7 89.6 L463.4 91.4 L465.1 91.7 L467.1 93.2 L470.3 92.8 L473.1 94.2 L473.4 95.8 L477.1 97.6 L478.5 96.2 L481.6 94.8 L485.8 95.1 L488.2 94.4 L493.2 94.4 L497.1 95.5 L496.1 90.7 L499.5 89.6 L499.5 86.6 L503.7 86.9 L503.4 84.3Z" fill="#ABE4A0" stroke="#7a7a7a" stroke-width="0.45" stroke-linejoin="round"/>
<path d="M451.6 95.8 L454.2 96.2 L456.9 97.1 L455.7 90.5 L459.7 89.6 L463.4 91.4 L465.1 91.7 L467.1 93.2 L470.3 92.8 L473.1 94.2 L473.4 95.8 L477.1 97.6 L478.5 96.2 L481.6 94.8 L482.2 97.6 L477.4 99 L476.1 101.2 L475.7 104 L472.7 106.1 L469.5 107.7 L467.2 107.2 L463 103.8 L459.5 102.9 L455.4 104 L453.9 101.2 L453.4 98.5Z" fill="#ffffff" stroke="#8c8c8c" stroke-width="0.45" stroke-linejoin="round"/>
<path d="M454.4 104.7 L455.4 104 L459.5 102.9 L463 103.8 L467.2 107.2 L469.5 107.7 L472.7 106.1 L475.7 104 L471.9 101.2 L465.5 98.5 L460.2 96.7 L455.4 98.5 L453.4 98.5 L453.9 101.2Z" fill="#ABE4A0" stroke="#7a7a7a" stroke-width="0.45" stroke-linejoin="round"/>
<path d="M481.6 94.8 L485.8 95.1 L488.2 94.4 L493.2 94.4 L497.1 95.5 L493.9 97.3 L491.6 98.5 L488.7 98.5 L487.3 100.3 L489.5 102.1 L490.1 104.4 L484.1 103.1 L480.8 103.8 L477.8 104.4 L476.1 101.2 L477.4 99 L482.2 97.6Z" fill="#E1F7DC" stroke="#7a7a7a" stroke-width="0.45" stroke-linejoin="round"/>
<path d="M506.3 83 L506.3 83 L509.3 81.3 L512.2 80.4 L515.8 81.3 L520.9 82 L521.9 78.1 L524.5 78.4 L528.1 79.3 L532.1 81.3 L536.1 81.1 L539.1 82.5 L542.6 83 L545.5 82.3 L548.8 81.3 L553 81.8 L552.4 85.2 L555.9 85.7 L560.1 86.9 L557.6 87.8 L555 89.6 L551.3 90.9 L548.8 93.2 L546.8 94.8 L542 95.3 L539 96.5 L535 95.7 L530.9 94.8 L527.6 94.7 L524.2 94.6 L521.4 91.9 L517.2 90.5 L513.3 90 L512.1 87.3 L508.6 85.2Z" fill="#ABE4A0" stroke="#7a7a7a" stroke-width="0.45" stroke-linejoin="round"/>
<path d="M506.3 83 L508.6 85.2 L512.1 87.3 L513.3 90 L517.2 90.5 L521.4 91.9 L524.2 94.6 L527.6 94.7 L530.9 94.8 L535 95.7 L539 96.5 L542 95.3 L546.8 94.8 L548.8 93.2 L551.3 90.9 L555 89.6 L557.6 87.8 L560.1 86.9 L555.9 85.7 L552.4 85.2 L553 81.8 L555.2 82.5 L557.3 81.3 L556.9 78.6 L557.4 76.3 L561 75.4 L565.4 76.3 L570.7 82 L575.4 83.4 L578.1 85.7 L583.4 84.6 L583.6 88.7 L580.8 90.7 L581.7 94.1 L581.5 94.9 L579.9 95.1 L577.3 95.8 L575.5 96.2 L572.4 99.4 L568.2 98.5 L567.9 101.5 L568.6 98.5 L566.4 98 L564.4 99.7 L562.2 100.8 L562.1 102.1 L564.6 104 L567.2 103.3 L571 104.4 L568.2 106.5 L566.7 108.3 L569.7 111.8 L572.5 114.1 L573.1 115.7 L573.7 117.7 L572.7 120.7 L571 124.3 L569.6 126.8 L566.6 129.6 L562.4 130.9 L559.1 131.7 L556.4 134.1 L555.3 132.3 L552.5 132.3 L549.5 130 L546.9 129.1 L543.9 130.1 L541.4 130.7 L541.2 132.8 L538.5 132.3 L536.2 131.2 L536.9 129.6 L535.2 127.8 L533.3 128 L533.2 126.1 L534 121.6 L531.8 120.2 L529 118.9 L525.6 119.1 L522.4 120.7 L518 120.5 L515.5 120.9 L510.1 119.7 L503.5 116.6 L499 115.4 L498.1 112.7 L498.8 109.2 L495.6 107.4 L490.3 104.7 L490.1 104.4 L489.5 102.1 L487.3 100.3 L488.7 98.5 L491.6 98.5 L493.9 97.3 L497.1 95.5 L496.1 90.7 L499.5 89.6 L499.5 86.6 L503.7 86.9 L503.4 84.3 L505.5 83.2Z" fill="#64C45A" stroke="#7a7a7a" stroke-width="0.45" stroke-linejoin="round"/>
<path d="M553.8 136.4 L556 134.8 L557.9 135.7 L557 138 L554.7 138Z" fill="#64C45A" stroke="#7a7a7a" stroke-width="0.45" stroke-linejoin="round"/>
<path d="M573.2 130.5 L575.4 126.1 L574.6 125.5 L572.7 128.7Z" fill="#64C45A" stroke="#7a7a7a" stroke-width="0.45" stroke-linejoin="round"/>
<path d="M572.4 99.4 L575.5 96.2 L577.3 95.8 L579.9 95.1 L581.5 94.9 L580.9 97.6 L578.7 99.6 L578.2 100.6 L580.5 102.4 L583.3 105.6 L583.6 107.9 L581.6 108.6 L579.3 109.3 L578 105.6 L578.1 103.8 L575.4 103.5 L574.6 101.5 L573.3 100.1Z" fill="#64C45A" stroke="#7a7a7a" stroke-width="0.45" stroke-linejoin="round"/>
<path d="M587 110.1 L587.7 109 L589.8 107.4 L594 107.2 L595.1 104.4 L597.8 103.3 L599 99.7 L598 97.1 L600.5 97.1 L602.6 100.3 L601.9 102.9 L602.8 106.5 L602 108.3 L600.2 109 L597.1 109 L595.2 110.9 L593.8 109.2 L590.5 109.7 L588.1 110.2Z" fill="#64C45A" stroke="#7a7a7a" stroke-width="0.45" stroke-linejoin="round"/>
<path d="M585.2 110.9 L587.3 110.2 L589.6 113.6 L588.6 114.9 L587.2 114.9 L585.8 112.4Z" fill="#64C45A" stroke="#7a7a7a" stroke-width="0.45" stroke-linejoin="round"/>
<path d="M590.2 111.5 L593.4 109.7 L593.2 111.3 L591.3 112.2Z" fill="#64C45A" stroke="#7a7a7a" stroke-width="0.45" stroke-linejoin="round"/>
<path d="M597.8 96.7 L597.2 93.5 L597.7 89.8 L601.2 91.7 L605.7 93.5 L603.5 94.2 L599.2 95.3Z" fill="#64C45A" stroke="#7a7a7a" stroke-width="0.45" stroke-linejoin="round"/>
<path d="M470.2 125.7 L474.4 125.5 L478.7 125.3 L480.7 127.8 L482.2 128.5 L483.1 129.3 L485.3 130.5 L483.6 130.9 L486.5 133.5 L490.1 132.6 L490.8 136.7 L492.5 142.1 L494.5 145.6 L495.6 148.3 L497.6 152.7 L500.4 156.1 L501.6 154.7 L503.4 152.2 L504.2 150.1 L504.8 146.5 L504.4 142.9 L507.9 140.3 L511.9 136.2 L514.7 134.6 L515.3 132.3 L517.8 131.4 L518.8 131.9 L521.3 131.4 L523.6 130.9 L524.8 133.7 L526.1 131.4 L526.1 127.8 L527.5 125.2 L528.5 123 L531.2 121.3 L529 118.9 L525.6 119.1 L522.4 120.7 L518 120.5 L515.5 120.9 L510.1 119.7 L503.5 116.6 L499 115.4 L498.1 112.7 L498.8 109.2 L495.6 107.4 L490.3 104.7 L490.1 104.4 L489.5 104.7 L486.1 105.1 L484.7 106.5 L484.6 109.2 L482.7 110.1 L482.1 111.8 L482.1 113.8 L479.6 114.5 L477.7 117.2 L471.8 118.1 L468.3 118.1 L471.5 120.2 L469.9 121.6Z" fill="#ABE4A0" stroke="#7a7a7a" stroke-width="0.45" stroke-linejoin="round"/>
<path d="M501.5 119.3 L503.5 116.6 L510.1 119.7 L515.5 120.9 L516.2 123.6 L510.6 123 L505.2 121.8Z" fill="#ffffff" stroke="#8c8c8c" stroke-width="0.45" stroke-linejoin="round"/>
<path d="M516.2 123.6 L517.9 125.5 L517.4 127.8 L518.8 131.9 L521.3 131.4 L523.6 130.9 L525.1 132.3 L524.1 128.7 L522.5 126.9 L523.6 125.9 L519.7 125.5 L519.1 124.3Z" fill="#ffffff" stroke="#8c8c8c" stroke-width="0.45" stroke-linejoin="round"/>
<path d="M504.5 156.3 L504.9 153.1 L507.3 155.4 L508.1 157.5 L506.7 159.8 L504.9 159.5Z" fill="#ffffff" stroke="#8c8c8c" stroke-width="0.45" stroke-linejoin="round"/>
<path d="M468.1 117.3 L469.1 114.7 L466.8 109.2 L467.2 107.2 L469.5 107.7 L472.7 106.1 L475.7 104 L477.8 104.4 L480.8 103.8 L484.1 103.1 L490.1 104.4 L489.5 104.7 L486.1 105.1 L484.7 106.5 L484.6 109.2 L482.7 110.1 L482.1 111.8 L482.1 113.8 L479.6 114.5 L477.7 117.2 L471.8 118.1 L468.3 118.1Z" fill="#E1F7DC" stroke="#7a7a7a" stroke-width="0.45" stroke-linejoin="round"/>
<path d="M454.4 104.7 L449.6 105.3 L446 103.7 L445.6 102.2 L442.2 100.6 L438.4 99.9 L437.9 104.4 L437.5 103.8 L440.4 106.9 L441.6 110.1 L444.4 111.8 L445.7 116.3 L447.1 117.2 L449.8 118.1 L452.2 120.9 L456.7 123.2 L460.1 122.3 L463 124.8 L466.6 125.3 L470.2 125.7 L469.9 121.6 L471.5 120.2 L468.3 118.1 L468.1 117.3 L469.1 114.7 L466.8 109.2 L467.2 107.2 L463 103.8 L459.5 102.9 L455.4 104Z" fill="#ABE4A0" stroke="#7a7a7a" stroke-width="0.45" stroke-linejoin="round"/>
<path d="M429 93.2 L429.7 93.3 L432.9 93.5 L436.4 94.6 L439.9 95.8 L441.6 96.4 L444.1 96.2 L446.2 98.9 L445.6 102.2 L442.2 100.6 L438.4 99.9 L435.9 97.6 L432.5 96.7Z" fill="#ABE4A0" stroke="#7a7a7a" stroke-width="0.45" stroke-linejoin="round"/>
<path d="M406.9 98.9 L407.5 96.9 L406.8 96.4 L409.7 95.8 L411.5 97.3 L415.7 97.3 L419.8 95.8 L423.2 96.4 L426.7 97.6 L432.5 96.7 L435.9 97.6 L438.4 99.9 L437.9 104.4 L435 104.5 L430.8 105.1 L425.1 105.1 L424.2 106.7 L423.7 105.4 L421.5 105.1 L417.3 106.1 L414.8 106 L412.2 105.4 L409.6 104.7 L407.7 102.4 L408.1 100.3Z" fill="#ABE4A0" stroke="#7a7a7a" stroke-width="0.45" stroke-linejoin="round"/>
<path d="M423.2 118.1 L425.9 118.1 L428.4 116.3 L426.5 114.5 L430.2 113.3 L435.2 115.2 L440.2 118.6 L444.2 118.9 L445.4 118.9 L445.7 117.2 L447.1 117.2 L445.7 116.3 L444.4 111.8 L441.6 110.1 L440.4 106.9 L437.5 103.8 L437.9 104.4 L435 104.5 L430.8 105.1 L425.1 105.1 L424.2 106.7 L424.1 107.9 L423.6 110.1 L422.9 111.8 L422.2 114.5 L421.7 114.9Z" fill="#E1F7DC" stroke="#7a7a7a" stroke-width="0.45" stroke-linejoin="round"/>
<path d="M425.1 105.1 L430.8 105.1 L435 104.5 L433.3 107.4 L432.1 109.3 L429.4 111.1 L426.1 113.1 L424.3 112.4 L424.4 109.2 L424.1 107.9 L424.2 106.7Z" fill="#ABE4A0" stroke="#7a7a7a" stroke-width="0.45" stroke-linejoin="round"/>
<path d="M423.2 118.1 L426.3 124.3 L430.1 128.2 L431.5 132.3 L434 135.8 L437.8 141.2 L438.6 140.6 L442.1 139.6 L445.7 140.3 L449 137.6 L454.3 136.7 L459.4 134.9 L460.2 131.4 L454.7 129.8 L452.9 127.5 L451.4 126.4 L450.2 124.3 L448.8 122.5 L446.9 120 L445.4 118.9 L444.2 118.9 L440.2 118.6 L435.2 115.2 L430.2 113.3 L426.5 114.5 L428.4 116.3 L425.9 118.1Z" fill="#64C45A" stroke="#7a7a7a" stroke-width="0.45" stroke-linejoin="round"/>
<path d="M437.8 141.2 L438.8 144.7 L439.8 147.9 L442.4 147.7 L447.7 145.6 L451.1 144.2 L454.6 142.8 L459.8 140.3 L463.1 137.1 L465.5 134.1 L467.5 130.5 L465 128.4 L461.2 126.2 L460.8 123.7 L459.5 125.2 L457.1 127.7 L452.9 127.5 L454.7 129.8 L460.2 131.4 L459.4 134.9 L454.3 136.7 L449 137.6 L445.7 140.3 L442.1 139.6 L438.6 140.6Z" fill="#ABE4A0" stroke="#7a7a7a" stroke-width="0.45" stroke-linejoin="round"/>
<path d="M352.7 106.9 L359.4 108.1 L364.5 105.6 L367.9 105.1 L373.8 104.5 L379.4 104.2 L381.5 104.7 L380.7 106.5 L381.6 107.9 L379.9 109.7 L382 111.5 L384.3 112.2 L388.9 113.1 L389.9 114.7 L395.6 116.6 L397.3 115.4 L397.2 113.3 L400.6 112 L405.8 114.1 L410.2 115 L413.7 115.4 L416.2 114.3 L418.5 115 L421.7 114.9 L423.2 118.1 L422.3 121.3 L419.1 117.3 L421 121.6 L424.8 128 L427.4 131.4 L428.4 136.7 L430.8 138.7 L432.2 142.9 L435.3 145.3 L437.8 147.6 L439.5 149.5 L440.8 152 L443.5 151.5 L447.9 150.6 L453.5 149.3 L453.2 151.8 L452.4 154.5 L449.9 159.8 L447.2 162.5 L444.6 166.1 L441.1 168.7 L437.5 172.3 L435.7 174.1 L434.3 175.5 L432.7 178.7 L432.1 182.1 L432.9 184.7 L434.4 189.2 L434.5 192.7 L434.6 196.3 L431.6 200.4 L428 202.1 L424.7 207.8 L424.9 210.5 L424.8 213.2 L420.1 216.5 L419.8 218.3 L419 221.2 L416.4 223.7 L414.5 226.1 L410.9 228.8 L406.7 230.9 L401.3 230.9 L397 232.4 L394.3 231.3 L394.1 228.3 L391.4 221.3 L389.2 218.5 L388.7 214.9 L388.2 211.4 L385.6 206.9 L383.6 201.3 L384.9 194.5 L386.7 191.8 L386.2 186.5 L384.7 181.2 L384.5 179.4 L383.8 177.6 L379.7 174.1 L379.3 170.5 L380.2 166.6 L379.9 163.7 L377.9 162.3 L373.5 162.9 L370.8 159.3 L367.6 159.3 L364.6 160 L359.2 162 L355.7 161.3 L349.5 162.7 L345.9 160.7 L342.4 158.2 L339.4 155.4 L336.2 151.3 L333.2 148.8 L331.9 144.4 L333.7 141.7 L334.3 135.8 L333 133.2 L335.7 129.6 L337.5 125.2 L340.2 121.6 L345.5 118.1 L346.1 115.4 L349.1 110.9 L351.7 109.5Z" fill="#E1F7DC" stroke="#7a7a7a" stroke-width="0.45" stroke-linejoin="round"/>
<path d="M352.7 106.9 L359.4 108.1 L364.5 105.6 L367.9 105.1 L373.8 104.5 L379.4 104.2 L381.5 104.7 L380.7 106.5 L381.6 107.9 L379.9 109.7 L382 111.5 L384.3 112.2 L388.9 113.1 L389.9 114.7 L395.6 116.6 L397.3 115.4 L397.2 113.3 L400.6 112 L405.8 114.1 L410.2 115 L413.7 115.4 L416.2 114.3 L418.5 115 L421.7 114.9 L423.2 118.1 L422.3 121.3 L419.1 117.3 L421 121.6 L424.8 128 L427.4 131.4 L423.3 131.4 L419.1 131.4 L414.9 131.4 L410.8 131.4 L406.6 131.4 L406.7 134.9 L405 134.9 L405 135.8 L401.4 134.1 L397.9 132.3 L394.3 130.5 L390.8 128.7 L387.3 130.5 L383.8 128.7 L382.9 127.5 L380.3 126.9 L377.7 128.7 L375.5 132.3 L373.3 135.8 L370.2 136.4 L368.6 136.9 L364.9 134.1 L361 132.3 L354.4 126.1 L347.7 122 L347.7 119.5 L345.5 118.1 L346.1 115.4 L349.1 110.9 L351.7 109.5Z" fill="#ABE4A0" stroke="#7a7a7a" stroke-width="0.45" stroke-linejoin="round"/>
<path d="M347.7 121.3 L344 121.4 L340.2 121.6 L337.5 125.2 L335.7 129.6 L333 133.2 L336.5 132.9 L340 132.6 L340.1 129.6 L341.8 128.7 L341.9 124.3 L347.7 124.3Z" fill="#ffffff" stroke="#8c8c8c" stroke-width="0.45" stroke-linejoin="round"/>
<path d="M333 133.2 L334.3 135.8 L333.7 141.7 L337.2 141 L341.2 144.4 L342.5 142.9 L346 142.9 L349.6 142.9 L353.1 142.9 L353.3 141.2 L352.8 137.2 L352.3 133.2 L353.4 129.6 L354.4 126.1 L347.7 122 L347.7 124.3 L341.9 124.3 L341.8 128.7 L340.1 129.6 L340 132.6 L336.5 132.9Z" fill="#ABE4A0" stroke="#7a7a7a" stroke-width="0.45" stroke-linejoin="round"/>
<path d="M341.2 144.4 L342.4 148.5 L347.7 150.4 L353 152 L354.8 148.3 L359.3 144.7 L364.9 143.3 L369 143.1 L370.2 140.5 L370.2 136.4 L368.6 136.9 L364.9 134.1 L361 132.3 L354.4 126.1 L353.4 129.6 L352.3 133.2 L352.8 137.2 L353.3 141.2 L353.1 142.9 L349.6 142.9 L346 142.9 L342.5 142.9Z" fill="#ffffff" stroke="#8c8c8c" stroke-width="0.45" stroke-linejoin="round"/>
<path d="M331.9 144.4 L333.2 148.8 L336.2 151.3 L339.4 155.4 L342.4 158.2 L345.9 160.7 L349.5 162.7 L355.7 161.3 L359.2 162 L364.6 160 L365.6 154.5 L364.4 150.9 L361.9 150.8 L357.8 150.9 L354.8 148.3 L353 152 L347.7 150.4 L342.4 148.5 L341.2 144.4 L337.2 141 L333.7 141.7Z" fill="#ABE4A0" stroke="#7a7a7a" stroke-width="0.45" stroke-linejoin="round"/>
<path d="M367.6 159.3 L370.8 159.3 L373.5 162.9 L377.9 162.3 L379.9 163.7 L380.2 166.6 L379.3 170.5 L379.7 174.1 L383.8 177.6 L384.5 179.4 L386.1 179 L388.6 178.5 L391.3 175.8 L393.9 170.5 L394.8 164.3 L392.1 164.1 L390.4 166.6 L388.6 162.5 L390.3 157.2 L387.6 152.7 L388.5 148.3 L386.7 146.1 L384.4 147.2 L380.5 146.9 L376.6 146.9 L369.9 146.5 L369.2 149.7 L367.8 153.6Z" fill="#ABE4A0" stroke="#7a7a7a" stroke-width="0.45" stroke-linejoin="round"/>
<path d="M435.7 174.1 L437.5 172.3 L436.6 167.9 L435.7 163.6 L433.9 163 L430.4 164.1 L426.6 162.3 L423.2 163 L422.4 166.9 L417.1 168.4 L415.6 173 L417.9 172.3 L423.1 172.3 L429.5 175.8 L432.7 178.7 L434.3 175.5Z" fill="#ABE4A0" stroke="#7a7a7a" stroke-width="0.45" stroke-linejoin="round"/>
<path d="M384.5 179.4 L385.4 182.9 L386.2 186.5 L386.7 191.8 L384.9 194.5 L383.6 201.3 L385.6 206.9 L388.2 211.4 L388.7 214.9 L389.2 218.5 L391.4 221.3 L394.1 228.3 L394.3 231.3 L397 232.4 L401.3 230.9 L406.7 230.9 L410.9 228.8 L414.5 226.1 L416.4 223.7 L419 221.2 L419.8 218.3 L418.6 215.8 L417.9 211.4 L419.8 207.8 L420.4 204.3 L421 200.7 L416.6 198.9 L412.2 199.8 L407.2 202.1 L401.6 199.8 L401.7 193.6 L405.3 192.7 L404.4 190.1 L402.7 190.1 L401 184.7 L396.5 184.7 L393.9 184.7 L391.2 181.2 L386.1 180.8Z" fill="#ABE4A0" stroke="#7a7a7a" stroke-width="0.45" stroke-linejoin="round"/>
<path d="M435.7 163.6 L436.6 167.9 L437.5 172.3 L441.1 168.7 L444.6 166.1 L447.2 162.5 L449.9 159.8 L452.4 154.5 L453.2 151.8 L453.5 149.3 L447.9 150.6 L443.5 151.5 L440.8 152 L439.6 153.6 L442.7 156.3 L447.1 156.3 L441.9 161.6 L438.4 163Z" fill="#ffffff" stroke="#8c8c8c" stroke-width="0.45" stroke-linejoin="round"/>
<path d="M450.1 191.8 L452 198.1 L450 201.6 L447.9 206.9 L446.5 210.8 L445.1 214.6 L441.6 215.8 L439.2 212.3 L438.7 208.7 L440.7 204.3 L440.4 200.7 L444.9 198.1 L447.7 194.5Z" fill="#E1F7DC" stroke="#7a7a7a" stroke-width="0.45" stroke-linejoin="round"/>
<path d="M524.8 133.7 L526.1 131.4 L526.1 127.8 L527.5 125.2 L528.5 123 L531.2 121.3 L531.8 120.2 L534 121.6 L533.2 126.1 L533.3 128 L535.2 127.8 L536.9 129.6 L536.2 131.2 L538.5 132.3 L540.3 132.8 L538.4 134.2 L535 135.5 L534.4 137.6 L536.8 141.7 L536.4 143.5 L538 145.8 L538.6 148.8 L537.7 152.7 L537.2 149.2 L535.6 144.7 L534.9 141.2 L533 140.6 L531 142.4 L529 142.1 L529.1 137.6 L527.3 135.8Z" fill="#ffffff" stroke="#8c8c8c" stroke-width="0.45" stroke-linejoin="round"/>
<path d="M552.5 132.3 L550.1 133.7 L548.7 136.7 L550.4 139.2 L552.4 141.5 L555 143.8 L556.2 147.4 L556.3 150.1 L553.9 151.8 L552 152.2 L549.2 155.2 L548.6 152.2 L546.3 151.7 L545.1 149.9 L544.3 148.6 L541.6 147.9 L541.3 146.5 L539.7 146.7 L539.7 149.2 L538.7 152.7 L540 154.1 L541.1 157.5 L542.7 158.4 L544.6 159.5 L546.6 162.5 L546.7 165.5 L548.1 168 L546.9 168.2 L543 165.3 L541.3 162 L541 159.1 L539.9 157.7 L537.3 156.3 L537.7 152.7 L538.6 148.8 L538 145.8 L536.4 143.5 L536.8 141.7 L534.4 137.6 L535 135.5 L538.4 134.2 L540.3 132.8 L541.2 132.8 L540.9 130.7 L541.4 130.7 L543.9 130.1 L546.9 129.1 L549.5 130Z" fill="#ABE4A0" stroke="#7a7a7a" stroke-width="0.45" stroke-linejoin="round"/>
<path d="M544.3 148.6 L545.1 149.9 L546.3 151.7 L548.6 152.2 L551 150.9 L553.1 148.6 L552.8 144.7 L549.3 145.1 L546.6 145.1 L544.4 146Z" fill="#ffffff" stroke="#8c8c8c" stroke-width="0.45" stroke-linejoin="round"/>
<path d="M532.2 160.5 L536.1 161.3 L541.2 166.6 L547.3 172.3 L551.3 175.8 L550.8 180.8 L548.5 181 L544.7 177.6 L541.4 172.3 L538.4 167.5Z" fill="#ABE4A0" stroke="#7a7a7a" stroke-width="0.45" stroke-linejoin="round"/>
<path d="M549.7 182.6 L551.2 181 L555.6 182.1 L559.1 182.1 L562.6 182.6 L566.1 184.2 L566 186 L559.8 185.1 L554.6 184.4 L551 183.7Z" fill="#ABE4A0" stroke="#7a7a7a" stroke-width="0.45" stroke-linejoin="round"/>
<path d="M556.7 167.8 L557.7 167.3 L560.3 168.7 L565.6 168 L568.2 165.2 L571.7 163 L572.6 162.5 L572.1 165.2 L572.7 168.7 L571.8 170.5 L570 173.2 L570 176.7 L566.4 177.6 L561.1 176.5 L558.8 175.7 L558.5 173.2 L556.7 170.5Z" fill="#ABE4A0" stroke="#7a7a7a" stroke-width="0.45" stroke-linejoin="round"/>
<path d="M557.7 167.3 L560.2 167.5 L563.8 164.8 L566.3 162.3 L568.9 159.8 L570.6 158.1 L572.5 159.8 L574.7 161.3 L572.6 162.5 L571.7 163 L568.2 165.2 L565.6 168 L560.3 168.7Z" fill="#ffffff" stroke="#8c8c8c" stroke-width="0.45" stroke-linejoin="round"/>
<path d="M574.1 175.8 L575.4 171.4 L577.1 168.4 L581 168.1 L584.8 167.8 L579.8 169.6 L578 171.4 L581.6 172.3 L578.9 174.1 L581.5 178.5 L579.3 179 L577.1 175.5 L576.8 180.3 L575 180.5Z" fill="#ABE4A0" stroke="#7a7a7a" stroke-width="0.45" stroke-linejoin="round"/>
<path d="M574 137.6 L577.9 137.6 L578 141.2 L577.4 143.8 L579.4 145.6 L582.3 148.3 L580.5 147.4 L576.8 146 L575.8 144.7 L574.6 142.1Z" fill="#ffffff" stroke="#8c8c8c" stroke-width="0.45" stroke-linejoin="round"/>
<path d="M579.5 158.1 L582.4 156.6 L585 154.5 L587.5 157.7 L586.7 159.5 L585.7 160.5 L583.1 159.3 L580.4 158.1Z" fill="#ffffff" stroke="#8c8c8c" stroke-width="0.45" stroke-linejoin="round"/>
<path d="M580 151.8 L582.5 150.1 L585.2 150.9 L584.5 152.7 L581.9 153.6 L580.1 153.1Z" fill="#ffffff" stroke="#8c8c8c" stroke-width="0.45" stroke-linejoin="round"/>
<path d="M568.7 185.4 L574 185.6 L579.3 185.8 L582.9 185.4 L588.2 185.3 L584.5 187.4 L581.8 188.8 L578.3 188.1 L574.8 187.4 L569.5 186.3Z" fill="#ABE4A0" stroke="#7a7a7a" stroke-width="0.45" stroke-linejoin="round"/>
<path d="M595.8 172.8 L601.2 172.1 L602.9 176.4 L607.4 173.2 L613.6 175.1 L613.4 179 L613.3 182.8 L613 186.7 L609.6 184.9 L607.8 185.4 L607.5 179.7 L603.7 178.3 L600.2 177.6 L597.6 175.5 L600.2 174.6 L597.6 174.1Z" fill="#ABE4A0" stroke="#7a7a7a" stroke-width="0.45" stroke-linejoin="round"/>
<path d="M613.6 175.1 L618.8 177.3 L621.9 179.9 L624.9 181.5 L625.6 184.7 L628.8 188.8 L623.5 188.3 L622 185.1 L618.5 184.2 L615.6 186.9 L613 186.7 L613.3 182.8 L613.4 179Z" fill="#ffffff" stroke="#8c8c8c" stroke-width="0.45" stroke-linejoin="round"/>
<path d="M629.4 180.3 L633.1 177.6 L634.8 178.5 L632 180.8 L629.7 181.5Z" fill="#ffffff" stroke="#8c8c8c" stroke-width="0.45" stroke-linejoin="round"/>
<path d="M589.6 167.8 L591.4 171.4 L592.2 176.2 L594.9 176.7 L589.5 176.7 L589.6 172.3Z" fill="#ABE4A0" stroke="#7a7a7a" stroke-width="0.45" stroke-linejoin="round"/>
<path d="M561.6 209.6 L561.5 213.2 L561.3 216.7 L561.7 222.9 L560.9 226.5 L560 230.1 L561 232.7 L564.4 232.7 L570.2 230.6 L575.7 229.2 L579.5 227.9 L585 226.7 L589.3 226.5 L593.1 228.3 L594.5 232.4 L597.7 229.2 L599.2 230.2 L598.8 233.6 L600.3 236.8 L601.8 238.2 L606.8 238.6 L610.3 240 L613.9 237.7 L617.5 237.2 L620.8 231.8 L622.9 229.2 L626.6 225.6 L629.1 220.3 L629.6 214.9 L626.8 212.3 L624.6 210.1 L623.5 206.8 L620.1 204.3 L619.2 198.9 L619.5 196.8 L616.5 195.4 L616.8 192.7 L615.4 189.5 L613.4 193.3 L612.6 198.1 L610.9 201.4 L608.6 201.6 L605.4 198.9 L602.2 196.8 L603.5 193.6 L605.4 192.2 L604.7 191.7 L601.8 192.2 L597.6 190.6 L594.8 192.2 L592.7 194.5 L591.6 197.2 L588.7 195.7 L585.5 195.9 L582.5 198.9 L578.8 200.7 L577.5 203.4 L573.7 205.7 L568.2 207.1 L564.4 208.7Z" fill="#64C45A" stroke="#7a7a7a" stroke-width="0.45" stroke-linejoin="round"/>
<path d="M606.1 242.9 L612.2 243.2 L610.1 246.9 L607.6 248 L606 245.5Z" fill="#64C45A" stroke="#7a7a7a" stroke-width="0.45" stroke-linejoin="round"/>
<path d="M658.3 231.8 L660.3 234.5 L661.5 237.2 L665.7 237.5 L663.5 240.2 L661.4 240.9 L657.9 244.3 L656.2 243.9 L658.1 242 L656.9 240.2 L659.4 237.2 L658.7 233.3Z" fill="#64C45A" stroke="#7a7a7a" stroke-width="0.45" stroke-linejoin="round"/>
<path d="M653.6 242.5 L655.7 243.7 L653.8 245.7 L650.6 248.4 L647.3 249.8 L645.1 252.1 L642.1 253.5 L638.2 252.3 L639.5 250.9 L643.1 248.7 L647.7 246.9 L651.2 244.3Z" fill="#64C45A" stroke="#7a7a7a" stroke-width="0.45" stroke-linejoin="round"/>
<path d="M650.8 206.4 L654.4 210.1 L655.4 209.6 L651.8 206.1Z" fill="#ffffff" stroke="#8c8c8c" stroke-width="0.45" stroke-linejoin="round"/>
<path d="M675.2 201.6 L677.5 201.3 L677.1 202.9 L675 202.7Z" fill="#ffffff" stroke="#8c8c8c" stroke-width="0.45" stroke-linejoin="round"/>
<path d="M639.9 182.1 L642.5 183.8 L645.1 185.1 L648 187.4 L648.5 186.5 L645.2 183.8 L641.7 181.9Z" fill="#ffffff" stroke="#8c8c8c" stroke-width="0.45" stroke-linejoin="round"/>
<path d="M124.1 309.9 L126.7 309.9 L129.4 309.9 L132 309.9 L134.7 309.9 L137.3 309.9 L139.8 309.7 L142.2 309.6 L144.6 309.5 L147 309.3 L149.5 309.2 L152.2 308.7 L154.8 308.3 L157.6 307.8 L160.3 307.4 L161.9 306.1 L163.6 304.7 L166.5 304.3 L169.4 303.8 L172 303.7 L174.6 303.5 L177.1 303.3 L179.7 303.1 L182.3 302.9 L184.8 302.7 L187.3 302.4 L189.9 302.2 L192.4 301.9 L195 301.7 L198 301.9 L201 302.2 L204.1 302.4 L207.1 302.7 L210.1 302.9 L212.5 302.6 L215 302.2 L217.5 301.9 L220 301.5 L222.5 301.2 L225.4 300.3 L228.2 299.4 L232.1 299.8 L235.9 300.3 L238.7 300.3 L241.6 300.3 L244.4 300.3 L247.2 300.3 L250 300.3 L252.8 298.9 L255.6 297.6 L259.6 298.5 L263.6 299.4 L264.3 294.9 L264.9 291.4 L265.7 287.8 L268.8 286.1 L271.9 284.3 L276.1 283 L274 286.1 L270.5 288.7 L270.8 293.2 L276 298.5 L277.2 303.8 L281.8 307.4 L284.7 307.7 L287.6 308.1 L290.4 308.5 L293.3 308.8 L296.1 309.2 L298.9 309.3 L301.6 309.5 L304.4 309.7 L307.1 309.9 L309.8 310.1 L312.8 309.2 L315.8 308.3 L318.8 306.9 L321.8 305.6 L325 304.7 L328.3 303.8 L331.5 302.5 L334.7 301.2 L338.1 299.8 L341.5 298.5 L344.9 297.6 L348.4 296.7 L351.3 296.5 L354.2 296.4 L357 296.2 L359.9 296 L362.8 295.8 L365.7 295.7 L368.6 295.5 L371.5 295.3 L374.4 295.1 L377.3 294.9 L380.2 294.9 L383.1 294.9 L386 294.9 L388.9 294.9 L391.8 294.9 L394.7 294.8 L397.6 294.6 L400.6 294.4 L403.5 294.2 L406.4 294.1 L409.4 293.9 L412.3 293.7 L415.3 293.5 L418.3 293.3 L421.2 293.2 L424.3 292.5 L427.5 291.7 L430.6 291 L433.8 290.3 L437 289.6 L439.9 289.6 L442.9 289.6 L445.9 289.6 L448.8 289.6 L451.8 289.6 L454.6 290 L457.4 290.3 L460.3 290.7 L463.1 291 L465.8 291.4 L468.9 292.7 L471.9 294.1 L476.4 292.3 L481 290.5 L484.2 290.1 L487.3 289.8 L490.5 289.4 L493.6 289.1 L496.8 288.7 L499.9 288.5 L502.9 288.4 L506 288.2 L509.1 288 L512.2 287.8 L515.2 287.8 L518.2 287.8 L521.2 287.8 L524.2 287.8 L527.2 287.8 L530 288 L532.9 288.2 L535.7 288.4 L538.6 288.5 L541.5 288.7 L544.5 288.6 L547.6 288.5 L550.6 288.4 L553.7 288.3 L556.8 288.2 L559.6 288.4 L562.4 288.5 L565.3 288.7 L568.1 288.9 L570.9 289.1 L573.3 289.7 L575.7 290.4 L578.1 291 L580.4 291.6 L582.8 292.3 L585.2 292.7 L587.7 293.2 L590.1 293.7 L592.5 294.1 L594.9 294.6 L597.4 295.7 L599.7 296.7 L602.3 297.6 L604.7 298.5 L594.8 303.8 L584.2 308.3 L586.8 308.7 L589.4 309.2 L591.9 309.3 L594.3 309.5 L596.7 309.6 L599.1 309.7 L601.5 309.9 L594.4 313.6 L586.3 317.4 L576.7 321.2 L564.7 325 L546.7 328.7 L544.7 328.7 L542.6 328.7 L540.6 328.7 L538.5 328.7 L536.5 328.7 L534.4 328.7 L532.4 328.7 L530.4 328.7 L528.3 328.7 L526.3 328.7 L524.2 328.7 L522.2 328.7 L520.1 328.7 L518.1 328.7 L516 328.7 L514 328.7 L512 328.7 L509.9 328.7 L507.9 328.7 L505.8 328.7 L503.8 328.7 L501.7 328.7 L499.7 328.7 L497.7 328.7 L495.6 328.7 L493.6 328.7 L491.5 328.7 L489.5 328.7 L487.4 328.7 L485.4 328.7 L483.4 328.7 L481.3 328.7 L479.3 328.7 L477.2 328.7 L475.2 328.7 L473.1 328.7 L471.1 328.7 L469.1 328.7 L467 328.7 L465 328.7 L462.9 328.7 L460.9 328.7 L458.8 328.7 L456.8 328.7 L454.7 328.7 L452.7 328.7 L450.7 328.7 L448.6 328.7 L446.6 328.7 L444.5 328.7 L442.5 328.7 L440.4 328.7 L438.4 328.7 L436.4 328.7 L434.3 328.7 L432.3 328.7 L430.2 328.7 L428.2 328.7 L426.1 328.7 L424.1 328.7 L422.1 328.7 L420 328.7 L418 328.7 L415.9 328.7 L413.9 328.7 L411.8 328.7 L409.8 328.7 L407.8 328.7 L405.7 328.7 L403.7 328.7 L401.6 328.7 L399.6 328.7 L397.5 328.7 L395.5 328.7 L393.4 328.7 L391.4 328.7 L389.4 328.7 L387.3 328.7 L385.3 328.7 L383.2 328.7 L381.2 328.7 L379.1 328.7 L377.1 328.7 L375.1 328.7 L373 328.7 L371 328.7 L368.9 328.7 L366.9 328.7 L364.8 328.7 L362.8 328.7 L360.8 328.7 L358.7 328.7 L356.7 328.7 L354.6 328.7 L352.6 328.7 L350.5 328.7 L348.5 328.7 L346.5 328.7 L344.4 328.7 L342.4 328.7 L340.3 328.7 L338.3 328.7 L336.2 328.7 L334.2 328.7 L332.2 328.7 L330.1 328.7 L328.1 328.7 L326 328.7 L324 328.7 L321.9 328.7 L319.9 328.7 L317.8 328.7 L315.8 328.7 L313.8 328.7 L311.7 328.7 L309.7 328.7 L307.6 328.7 L305.6 328.7 L303.5 328.7 L301.5 328.7 L299.5 328.7 L297.4 328.7 L295.4 328.7 L293.3 328.7 L291.3 328.7 L289.2 328.7 L287.2 328.7 L285.2 328.7 L283.1 328.7 L281.1 328.7 L279 328.7 L277 328.7 L274.9 328.7 L272.9 328.7 L270.9 328.7 L268.8 328.7 L266.8 328.7 L264.7 328.7 L262.7 328.7 L260.6 328.7 L258.6 328.7 L256.5 328.7 L254.5 328.7 L252.5 328.7 L250.4 328.7 L248.4 328.7 L246.3 328.7 L244.3 328.7 L242.2 328.7 L240.2 328.7 L238.2 328.7 L236.1 328.7 L234.1 328.7 L232 328.7 L230 328.7 L227.9 328.7 L225.9 328.7 L223.9 328.7 L221.8 328.7 L219.8 328.7 L217.7 328.7 L215.7 328.7 L213.6 328.7 L211.6 328.7 L209.6 328.7 L207.5 328.7 L205.5 328.7 L203.4 328.7 L201.4 328.7 L199.3 328.7 L197.3 328.7 L195.2 328.7 L193.2 328.7 L191.2 328.7 L189.1 328.7 L187.1 328.7 L185 328.7 L183 328.7 L180.9 328.7 L178.9 328.7 L160.9 325 L148.9 321.2 L139.3 317.4 L131.2 313.6Z" fill="#ffffff" stroke="#8c8c8c" stroke-width="0.5" stroke-linejoin="round"/>
<path d="M161.1 83.4 L182.9 83.4 L207.1 83.4 L208 82.7 L210.5 84.1 L215.9 85.2 L218.5 84.6 L222.8 87.7 L223.8 88.4 L226.2 90 L225 94.1 L230.9 93.7 L235.5 91.9 L238.8 90.5 L244.1 90.5 L246.5 88.9 L248.9 86.2 L251.1 86.8 L250.5 89.4 L251.5 90.9" fill="none" stroke="#707070" stroke-width="0.45"/>
<path d="M157.9 46.8 L144.3 63.3 L147 63.8 L148.1 65.6 L152.9 64.4 L153.8 66.5 L155.1 70.9 L156.3 71.5" fill="none" stroke="#707070" stroke-width="0.45"/>
<path d="M211 87.5 L214.5 86.9 L219.2 87.8 L223.3 87.8 L223.1 85.5 L218.8 83.7 L215 85.2 L211 87.5" fill="none" stroke="#707070" stroke-width="0.45"/>
<path d="M215.6 95.8 L217.1 92.3 L219.6 89.1 L222.1 89.3 L219.3 91.6 L218.3 95.1 L215.6 95.8" fill="none" stroke="#707070" stroke-width="0.45"/>
<path d="M223.9 88.7 L227.3 90 L229.8 91.4 L226.6 93.7 L225 94.1 L223.9 88.7" fill="none" stroke="#707070" stroke-width="0.45"/>
<path d="M222.9 96.4 L227.2 95.3 L230.9 94.2 L229 94.8 L223.7 95.8 L222.9 96.4" fill="none" stroke="#707070" stroke-width="0.45"/>
<path d="M229.6 93.5 L235.9 92.3 L232.9 92.5 L229.6 93.5" fill="none" stroke="#707070" stroke-width="0.45"/>
<path d="M161.5 112.7 L165.5 112.7 L171.5 114.9 L176.3 114.9 L179.5 114 L182.1 117.7 L184.5 118.9 L187.5 117.5 L188.9 120.2 L190.3 123.2 L193.6 124.3" fill="none" stroke="#707070" stroke-width="0.45"/>
<path d="M222.3 168.4 L224.9 169.1 L228.5 170.5 L229 170.7" fill="none" stroke="#707070" stroke-width="0.45"/>
<path d="M229 170.7 L228.3 173.2 L225.9 174.9 L223.2 176.7 L220 176.5" fill="none" stroke="#707070" stroke-width="0.45"/>
<path d="M229 170.7 L232.1 172.6 L234.7 174.8 L238.3 178" fill="none" stroke="#707070" stroke-width="0.45"/>
<path d="M238.3 178 L239.2 172.3 L238.3 169.4 L239.7 168.4 L243.1 166.9" fill="none" stroke="#707070" stroke-width="0.45"/>
<path d="M238.3 178 L233.2 183.5 L232.4 186.5 L234.2 187.4 L237.9 190.1 L239.6 190.1" fill="none" stroke="#707070" stroke-width="0.45"/>
<path d="M239.6 190.1 L241.2 192.7 L240.9 197.2 L240.4 201.8" fill="none" stroke="#707070" stroke-width="0.45"/>
<path d="M239.6 190.1 L247 188.3 L247.7 191.8 L254.1 195.4 L256.6 199.5 L260.1 199.5 L260.9 205.7" fill="none" stroke="#707070" stroke-width="0.45"/>
<path d="M260.9 205.7 L257.3 204.8 L253.4 206.1 L252.8 209.6" fill="none" stroke="#707070" stroke-width="0.45"/>
<path d="M260.9 205.7 L261.6 209.8 L265.3 210.5 L265.8 213 L267.7 216" fill="none" stroke="#707070" stroke-width="0.45"/>
<path d="M242.6 207.8 L245.6 211.4 L243.5 216.7 L242.2 220.3 L241.8 227.4 L242.9 230.9 L242.1 236.3 L242.2 241.6 L243.2 248.7 L244.1 254.1 L244.5 258.5 L245.2 261.2 L249.7 262.9 L252.3 263.7" fill="none" stroke="#707070" stroke-width="0.45"/>
<path d="M262.8 230.9 L263 229.2 L262.8 225.6 L263.3 224.2" fill="none" stroke="#707070" stroke-width="0.45"/>
<path d="M359.4 108.1 L359.9 110.1 L360.7 112.7 L356.8 114.5 L354.2 117.2 L347.7 119.5" fill="none" stroke="#707070" stroke-width="0.45"/>
<path d="M377.3 104.9 L377 108.3 L375.7 110.9 L379.2 116.8" fill="none" stroke="#707070" stroke-width="0.45"/>
<path d="M379.2 116.8 L380.2 126.1 L382.9 127.5" fill="none" stroke="#707070" stroke-width="0.45"/>
<path d="M405.8 114.1 L406.6 131.4" fill="none" stroke="#707070" stroke-width="0.45"/>
<path d="M406.6 131.4 L427.4 131.4" fill="none" stroke="#707070" stroke-width="0.45"/>
<path d="M406.6 131.4 L406.7 134.9 L405 134.9 L405 135.8 L390.8 128.7" fill="none" stroke="#707070" stroke-width="0.45"/>
<path d="M390.8 128.7 L387.3 130.5 L383.8 128.7 L382.9 127.5 L380.3 126.9 L377.7 128.7 L373.3 135.8 L370.2 136.4" fill="none" stroke="#707070" stroke-width="0.45"/>
<path d="M370.2 136.4 L370.2 140.5 L369 143.1 L364.9 143.3" fill="none" stroke="#707070" stroke-width="0.45"/>
<path d="M369.2 149.7 L369.9 146.5 L376.6 146.9 L380.5 146.9 L384.4 147.2 L386.7 146.1" fill="none" stroke="#707070" stroke-width="0.45"/>
<path d="M386.7 146.1 L390.1 141.2 L390 134.1 L390.8 128.7" fill="none" stroke="#707070" stroke-width="0.45"/>
<path d="M405 135.8 L405.2 142.9 L402.6 145.6 L401.7 148.3 L402.7 150.9" fill="none" stroke="#707070" stroke-width="0.45"/>
<path d="M402.7 150.9 L400.1 153.6 L395.6 155.4 L391.2 157.2 L390.3 157.2" fill="none" stroke="#707070" stroke-width="0.45"/>
<path d="M390.3 157.2 L388.5 152.7 L388.5 148.3 L386.7 146.1" fill="none" stroke="#707070" stroke-width="0.45"/>
<path d="M404.5 154.5 L406.3 155 L410.7 153.6 L416 152.7 L419.5 149.2 L422.2 152.7 L423.1 153.6" fill="none" stroke="#707070" stroke-width="0.45"/>
<path d="M427.3 145.1 L426.9 147.4 L424.8 149.2 L423.1 151.8 L423.1 153.6" fill="none" stroke="#707070" stroke-width="0.45"/>
<path d="M404.5 154.5 L407.2 158.1 L411.7 161.6 L417 164.1 L422.4 163.7 L423.2 163 L426.6 162.3 L425 160.7 L423.1 153.6" fill="none" stroke="#707070" stroke-width="0.45"/>
<path d="M390.3 157.2 L389.5 161.6 L392.1 164.1 L395.7 164.1 L397.5 161.6 L402.8 163 L407.2 161.6 L411.7 161.6" fill="none" stroke="#707070" stroke-width="0.45"/>
<path d="M395.7 164.1 L393.9 170.5 L391.3 175.8 L388.6 178.5 L386.1 179 L384.5 179.4" fill="none" stroke="#707070" stroke-width="0.45"/>
<path d="M384.5 181.2 L391.2 181.2 L393.9 184.7 L396.5 184.7 L401 184.7 L401.8 187.4 L402.7 190.1 L404.4 190.1 L405.3 192.7 L409.7 191.5 L413.3 190.1 L414.1 194.3 L415 192.4 L413.4 185.6 L416.9 185.3" fill="none" stroke="#707070" stroke-width="0.45"/>
<path d="M416.9 185.3 L415.2 179.4 L414.4 174.9 L415.6 173 L417.1 168.4 L417.9 166.4 L417 164.1" fill="none" stroke="#707070" stroke-width="0.45"/>
<path d="M415.6 173 L417.9 172.3 L423.1 172.3 L429.5 175.8 L432.7 178.7" fill="none" stroke="#707070" stroke-width="0.45"/>
<path d="M434.4 189.2 L430.1 190.6 L424.8 190.9 L423.9 191.1" fill="none" stroke="#707070" stroke-width="0.45"/>
<path d="M416.9 185.3 L421.3 187.4 L423.9 191.1" fill="none" stroke="#707070" stroke-width="0.45"/>
<path d="M423.9 191.1 L424.7 195.4 L425.4 198.9 L421 200.7 L419.8 207.8 L417.9 211.4 L418.6 215.8 L419.8 218.3" fill="none" stroke="#707070" stroke-width="0.45"/>
<path d="M421 200.7 L416.6 198.9 L412.2 199.8 L407.2 202.1" fill="none" stroke="#707070" stroke-width="0.45"/>
<path d="M383.6 201.3 L387.5 201.4 L395.4 201.6 L399.8 202.5 L403.8 202.1 L407.2 202.1" fill="none" stroke="#707070" stroke-width="0.45"/>
<path d="M398 202.5 L397.8 209.6 L397.7 214.6 L397.5 221 L391.4 221.3" fill="none" stroke="#707070" stroke-width="0.45"/>
<path d="M397.7 214.6 L401.1 216.7 L406.3 216.4 L410 213.2 L414.3 210" fill="none" stroke="#707070" stroke-width="0.45"/>
<path d="M407.2 202.1 L408.5 204.3 L411.1 206.9 L414.3 210 L418 210.1" fill="none" stroke="#707070" stroke-width="0.45"/>
<path d="M409.5 223.1 L412.2 221.3 L413.7 222.9 L411.1 224.9 L409.5 223.1" fill="none" stroke="#707070" stroke-width="0.45"/>
<path d="M435.7 163.6 L438.4 163 L441.9 161.6 L447.1 156.3 L442.7 156.3 L439.6 153.6 L438.8 150.9" fill="none" stroke="#707070" stroke-width="0.45"/>
<path d="M426.6 162.3 L430.4 164.1 L433.9 163 L435.7 163.6" fill="none" stroke="#707070" stroke-width="0.45"/>
<path d="M435.7 163.6 L435.7 173.5" fill="none" stroke="#707070" stroke-width="0.45"/>
<path d="M333.7 141.7 L337.2 141 L341.2 144.4" fill="none" stroke="#707070" stroke-width="0.45"/>
<path d="M333.3 146.3 L336.3 146 L338.6 146.9 L338.5 148.1 L342.4 148.5" fill="none" stroke="#707070" stroke-width="0.45"/>
<path d="M347.7 150.4 L348.6 155.4 L349.5 162.7" fill="none" stroke="#707070" stroke-width="0.45"/>
<path d="M357.5 161.6 L357.8 153.6 L357.8 150.9" fill="none" stroke="#707070" stroke-width="0.45"/>
<path d="M363.7 159.8 L363.2 155.4 L362.8 150.9" fill="none" stroke="#707070" stroke-width="0.45"/>
<path d="M365.6 159.5 L364.9 153.6 L364.4 150.9" fill="none" stroke="#707070" stroke-width="0.45"/>
<path d="M367.6 159.3 L367.8 154.5 L369.2 149.7" fill="none" stroke="#707070" stroke-width="0.45"/>
<path d="M353 152 L357.8 150.9 L362.8 150.9 L366.3 148.3 L364.9 143.3 L361.9 143.7 L359.3 144.7 L354.8 148.3" fill="none" stroke="#707070" stroke-width="0.45"/>
<path d="M342.4 158.2 L344.2 155.4 L345.1 153.6 L339.4 155.4" fill="none" stroke="#707070" stroke-width="0.45"/>
<path d="M377.9 162.3 L378.8 158.9 L383.2 158.1 L386.7 152.7 L388.5 148.3" fill="none" stroke="#707070" stroke-width="0.45"/>
<path d="M380.2 166.6 L382.9 166.6 L391.3 166.9 L392.1 164.1" fill="none" stroke="#707070" stroke-width="0.45"/>
<path d="M382.9 166.6 L387.7 167.8 L388.6 174.1 L384.1 176.7 L383.8 177.6" fill="none" stroke="#707070" stroke-width="0.45"/>
<path d="M427.3 145.1 L429.1 145.1 L430.6 138.7 L428 138.7" fill="none" stroke="#707070" stroke-width="0.45"/>
<path d="M427.3 145.1 L430 147.4 L433.5 144.7 L437.8 147.6" fill="none" stroke="#707070" stroke-width="0.45"/>
<path d="M359.8 93.3 L362.8 94.6 L368.2 95.1" fill="none" stroke="#707070" stroke-width="0.45"/>
<path d="M347.9 96 L351.9 96 L351 100.3 L350.2 104.4" fill="none" stroke="#707070" stroke-width="0.45"/>
<path d="M366.9 79.7 L369.6 81.6 L372.6 82.5 L376.2 83.4 L375.1 86.1 L372.7 88.4 L374.4 89.1 L374.4 91.9 L375.3 92.6" fill="none" stroke="#707070" stroke-width="0.45"/>
<path d="M374 75.4 L374.1 78.1 L372.5 79.8 L372.6 82.5" fill="none" stroke="#707070" stroke-width="0.45"/>
<path d="M376.7 72.9 L378.6 73.1" fill="none" stroke="#707070" stroke-width="0.45"/>
<path d="M385.5 74.7 L386.3 77.2 L387.1 79.8 L386 79.8" fill="none" stroke="#707070" stroke-width="0.45"/>
<path d="M382.3 81.1 L385.4 83.7 L387.3 83.4 L390.5 84.1 L393.5 82.5 L392.1 81.6 L389.6 80.7 L387.1 79.8 L386 79.8 L382.3 81.1" fill="none" stroke="#707070" stroke-width="0.45"/>
<path d="M378.4 86.1 L384.2 86.1 L385.4 83.7" fill="none" stroke="#707070" stroke-width="0.45"/>
<path d="M390.5 84.1 L390.7 85.2 L390 87.3 L386.7 88 L383.4 87.5 L380.1 87.3 L378.4 86.1 L375.1 86.1" fill="none" stroke="#707070" stroke-width="0.45"/>
<path d="M374.4 89.1 L377.7 89.1 L380.1 87.3" fill="none" stroke="#707070" stroke-width="0.45"/>
<path d="M383.4 87.5 L385.5 89.3" fill="none" stroke="#707070" stroke-width="0.45"/>
<path d="M393.5 82.5 L399.7 83.2" fill="none" stroke="#707070" stroke-width="0.45"/>
<path d="M401 78.8 L400.4 74.7 L399.2 73.8" fill="none" stroke="#707070" stroke-width="0.45"/>
<path d="M390.5 84.1 L391.6 85.5 L394 85.2 L396.4 84.3 L399 84.5" fill="none" stroke="#707070" stroke-width="0.45"/>
<path d="M400.4 85.2 L397.5 88.2 L396.2 88.5 L393.9 88.9 L390.9 88.9 L390 87.3" fill="none" stroke="#707070" stroke-width="0.45"/>
<path d="M397.5 88.2 L398.5 90.9 L400.2 91.9 L404.5 92.8 L408.6 92.3 L410.4 91.7" fill="none" stroke="#707070" stroke-width="0.45"/>
<path d="M400.2 91.9 L400.5 95.3 L401.4 96.7 L406.4 96.7 L406.8 96.4" fill="none" stroke="#707070" stroke-width="0.45"/>
<path d="M392.7 47.8 L389.9 48.7 L387.8 49.6 L386.5 51.4 L384.5 53.2 L383.2 55.8 L381 57.6 L381.5 60.3 L382.1 62.1 L380.7 64.7 L380.3 65.6" fill="none" stroke="#707070" stroke-width="0.45"/>
<path d="M392.7 47.8 L397.4 49.6 L398.7 53.2 L399.5 53.5" fill="none" stroke="#707070" stroke-width="0.45"/>
<path d="M392.7 47.8 L396.5 48.4 L400.5 46.4 L404.2 46.4" fill="none" stroke="#707070" stroke-width="0.45"/>
<path d="M401 67.7 L402.9 68.3 L406.1 68.1" fill="none" stroke="#707070" stroke-width="0.45"/>
<path d="M396.1 70.8 L400.8 70.4 L404.9 71.5" fill="none" stroke="#707070" stroke-width="0.45"/>
<path d="M400.4 74.7 L402 74.5 L403.6 74 L404.9 71.5 L407.5 70.8" fill="none" stroke="#707070" stroke-width="0.45"/>
<path d="M482.2 128.5 L485.8 126.9 L486.1 121.6 L489.2 118.9 L491.1 114.5 L492.6 112.7 L489.4 109.2 L490.6 106.5" fill="none" stroke="#707070" stroke-width="0.45"/>
<path d="M434.5 104.2 L433.1 105.6 L433.4 108.3 L432.6 109.3 L429.4 111.1" fill="none" stroke="#707070" stroke-width="0.45"/>
<path d="M538.4 134.2 L540.3 135.8 L541.1 139.4 L543.3 138.5 L546 138.9 L549.1 142.9 L549.3 145.1" fill="none" stroke="#707070" stroke-width="0.45"/>
<path d="M543.9 130.1 L545.3 133.2 L546.5 135.8 L549.6 139.4 L552.5 142.1 L552.8 144.7 L551 150.9" fill="none" stroke="#707070" stroke-width="0.45"/>
<path d="M541 159.1 L542.8 160.2 L544.6 159.5" fill="none" stroke="#707070" stroke-width="0.45"/>
<path d="M439.9 95.8 L438.4 97.3 L435.9 97.6" fill="none" stroke="#707070" stroke-width="0.45"/>
<path d="M438.4 97.3 L441.3 100.3 L442.2 100.6" fill="none" stroke="#707070" stroke-width="0.45"/>
<path d="M432.2 142.9 L429.9 144.2" fill="none" stroke="#707070" stroke-width="0.45"/>
</g>
<path d="M546.7 12.3 L556.5 14.1 L563.9 15.8 L570.1 17.6 L575.5 19.4 L580.4 21.2 L584.8 22.9 L588.9 24.7 L592.7 26.5 L596.2 28.3 L599.6 30.1 L602.8 31.8 L605.8 33.6 L608.7 35.4 L611.4 37.2 L614 38.9 L616.5 40.7 L619 42.5 L621.3 44.3 L623.5 46.1 L625.7 47.8 L627.8 49.6 L629.8 51.4 L631.7 53.2 L633.6 54.9 L635.5 56.7 L637.2 58.5 L639 60.3 L640.6 62.1 L642.2 63.8 L643.8 65.6 L645.3 67.4 L646.8 69.2 L648.2 70.9 L649.6 72.7 L651 74.5 L652.3 76.3 L653.6 78.1 L654.8 79.8 L656 81.6 L657.2 83.4 L658.3 85.2 L659.4 86.9 L660.5 88.7 L661.6 90.5 L662.6 92.3 L663.5 94.1 L664.5 95.8 L665.4 97.6 L666.3 99.4 L667.2 101.2 L668 102.9 L668.8 104.7 L669.6 106.5 L670.4 108.3 L671.1 110.1 L671.8 111.8 L672.5 113.6 L673.2 115.4 L673.8 117.2 L674.5 118.9 L675.1 120.7 L675.6 122.5 L676.2 124.3 L676.7 126.1 L677.2 127.8 L677.7 129.6 L678.1 131.4 L678.6 133.2 L679 134.9 L679.4 136.7 L679.8 138.5 L680.1 140.3 L680.4 142.1 L680.8 143.8 L681.1 145.6 L681.3 147.4 L681.6 149.2 L681.8 150.9 L682 152.7 L682.2 154.5 L682.4 156.3 L682.5 158.1 L682.6 159.8 L682.8 161.6 L682.8 163.4 L682.9 165.2 L683 166.9 L683 168.7 L683 170.5 L683 172.3 L683 174.1 L682.9 175.8 L682.8 177.6 L682.8 179.4 L682.6 181.2 L682.5 182.9 L682.4 184.7 L682.2 186.5 L682 188.3 L681.8 190.1 L681.6 191.8 L681.3 193.6 L681.1 195.4 L680.8 197.2 L680.4 198.9 L680.1 200.7 L679.8 202.5 L679.4 204.3 L679 206.1 L678.6 207.8 L678.1 209.6 L677.7 211.4 L677.2 213.2 L676.7 214.9 L676.2 216.7 L675.6 218.5 L675.1 220.3 L674.5 222.1 L673.8 223.8 L673.2 225.6 L672.5 227.4 L671.8 229.2 L671.1 230.9 L670.4 232.7 L669.6 234.5 L668.8 236.3 L668 238.1 L667.2 239.8 L666.3 241.6 L665.4 243.4 L664.5 245.2 L663.5 246.9 L662.6 248.7 L661.6 250.5 L660.5 252.3 L659.4 254.1 L658.3 255.8 L657.2 257.6 L656 259.4 L654.8 261.2 L653.6 262.9 L652.3 264.7 L651 266.5 L649.6 268.3 L648.2 270.1 L646.8 271.8 L645.3 273.6 L643.8 275.4 L642.2 277.2 L640.6 278.9 L639 280.7 L637.2 282.5 L635.5 284.3 L633.6 286.1 L631.7 287.8 L629.8 289.6 L627.8 291.4 L625.7 293.2 L623.5 294.9 L621.3 296.7 L619 298.5 L616.5 300.3 L614 302.1 L611.4 303.8 L608.7 305.6 L605.8 307.4 L602.8 309.2 L599.6 310.9 L596.2 312.7 L592.7 314.5 L588.9 316.3 L584.8 318.1 L580.4 319.8 L575.5 321.6 L570.1 323.4 L563.9 325.2 L556.5 326.9 L546.7 328.7 L178.9 328.7 L169.1 326.9 L161.7 325.2 L155.5 323.4 L150.1 321.6 L145.2 319.8 L140.8 318.1 L136.7 316.3 L132.9 314.5 L129.4 312.7 L126 310.9 L122.8 309.2 L119.8 307.4 L116.9 305.6 L114.2 303.8 L111.6 302.1 L109.1 300.3 L106.6 298.5 L104.3 296.7 L102.1 294.9 L99.9 293.2 L97.8 291.4 L95.8 289.6 L93.9 287.8 L92 286.1 L90.1 284.3 L88.4 282.5 L86.6 280.7 L85 278.9 L83.4 277.2 L81.8 275.4 L80.3 273.6 L78.8 271.8 L77.4 270.1 L76 268.3 L74.6 266.5 L73.3 264.7 L72 262.9 L70.8 261.2 L69.6 259.4 L68.4 257.6 L67.3 255.8 L66.2 254.1 L65.1 252.3 L64 250.5 L63 248.7 L62.1 246.9 L61.1 245.2 L60.2 243.4 L59.3 241.6 L58.4 239.8 L57.6 238.1 L56.8 236.3 L56 234.5 L55.2 232.7 L54.5 230.9 L53.8 229.2 L53.1 227.4 L52.4 225.6 L51.8 223.8 L51.1 222.1 L50.5 220.3 L50 218.5 L49.4 216.7 L48.9 214.9 L48.4 213.2 L47.9 211.4 L47.5 209.6 L47 207.8 L46.6 206.1 L46.2 204.3 L45.8 202.5 L45.5 200.7 L45.2 198.9 L44.8 197.2 L44.5 195.4 L44.3 193.6 L44 191.8 L43.8 190.1 L43.6 188.3 L43.4 186.5 L43.2 184.7 L43.1 182.9 L43 181.2 L42.8 179.4 L42.8 177.6 L42.7 175.8 L42.6 174.1 L42.6 172.3 L42.6 170.5 L42.6 168.7 L42.6 166.9 L42.7 165.2 L42.8 163.4 L42.8 161.6 L43 159.8 L43.1 158.1 L43.2 156.3 L43.4 154.5 L43.6 152.7 L43.8 150.9 L44 149.2 L44.3 147.4 L44.5 145.6 L44.8 143.8 L45.2 142.1 L45.5 140.3 L45.8 138.5 L46.2 136.7 L46.6 134.9 L47 133.2 L47.5 131.4 L47.9 129.6 L48.4 127.8 L48.9 126.1 L49.4 124.3 L50 122.5 L50.5 120.7 L51.1 118.9 L51.8 117.2 L52.4 115.4 L53.1 113.6 L53.8 111.8 L54.5 110.1 L55.2 108.3 L56 106.5 L56.8 104.7 L57.6 102.9 L58.4 101.2 L59.3 99.4 L60.2 97.6 L61.1 95.8 L62.1 94.1 L63 92.3 L64 90.5 L65.1 88.7 L66.2 86.9 L67.3 85.2 L68.4 83.4 L69.6 81.6 L70.8 79.8 L72 78.1 L73.3 76.3 L74.6 74.5 L76 72.7 L77.4 70.9 L78.8 69.2 L80.3 67.4 L81.8 65.6 L83.4 63.8 L85 62.1 L86.6 60.3 L88.4 58.5 L90.1 56.7 L92 54.9 L93.9 53.2 L95.8 51.4 L97.8 49.6 L99.9 47.8 L102.1 46.1 L104.3 44.3 L106.6 42.5 L109.1 40.7 L111.6 38.9 L114.2 37.2 L116.9 35.4 L119.8 33.6 L122.8 31.8 L126 30.1 L129.4 28.3 L132.9 26.5 L136.7 24.7 L140.8 22.9 L145.2 21.2 L150.1 19.4 L155.5 17.6 L161.7 15.8 L169.1 14.1 L178.9 12.3Z" fill="none" stroke="#8a8a8a" stroke-width="0.8"/>
<line x1="379.3" y1="45" x2="379.6" y2="64.5" stroke="#6e6e6e" stroke-width="0.6"/>
<line x1="416.5" y1="20" x2="401.5" y2="63.6" stroke="#6e6e6e" stroke-width="0.6"/>
<line x1="372.8" y1="57.6" x2="371.8" y2="79" stroke="#6e6e6e" stroke-width="0.6"/>
<line x1="517.2" y1="107.3" x2="517.2" y2="122.6" stroke="#6e6e6e" stroke-width="0.6"/>
<line x1="401.6" y1="163" x2="389.5" y2="178.3" stroke="#6e6e6e" stroke-width="0.6"/>
<line x1="364.8" y1="134" x2="365.7" y2="143.9" stroke="#6e6e6e" stroke-width="0.6"/>
<line x1="376.5" y1="144.5" x2="375.5" y2="154.6" stroke="#6e6e6e" stroke-width="0.6"/>
<line x1="439.2" y1="137" x2="439.2" y2="143" stroke="#6e6e6e" stroke-width="0.6"/>
<line x1="409.5" y1="54.5" x2="398" y2="80" stroke="#6e6e6e" stroke-width="0.6"/>
<line x1="400.8" y1="62.9" x2="394.5" y2="82" stroke="#6e6e6e" stroke-width="0.6"/>
<line x1="390.5" y1="63.5" x2="392" y2="80" stroke="#6e6e6e" stroke-width="0.6"/>
<line x1="418" y1="126" x2="420" y2="140" stroke="#6e6e6e" stroke-width="0.6"/>
<line x1="385" y1="66" x2="396" y2="84" stroke="#6e6e6e" stroke-width="0.6"/>
<line x1="362.5" y1="73.7" x2="362.7" y2="79" stroke="#6e6e6e" stroke-width="0.6"/>
<line x1="380.4" y1="76.7" x2="386" y2="84" stroke="#6e6e6e" stroke-width="0.6"/>
<rect x="185.7" y="121.2" width="5.2" height="14.5" fill="#EBA12A"/>
<rect x="194.9" y="118.3" width="5.2" height="26.8" fill="#EBA12A"/>
<rect x="203.5" y="110.7" width="5.2" height="28.9" fill="#EBA12A"/>
<rect x="215.9" y="122.3" width="5.2" height="8.7" fill="#EBA12A"/>
<rect x="212" y="129.1" width="5.2" height="19.7" fill="#EBA12A"/>
<rect x="218.6" y="129.5" width="5.2" height="25" fill="#801A8A"/>
<rect x="219.7" y="155.8" width="5.2" height="15" fill="#EBA12A"/>
<rect x="228" y="120.1" width="5.2" height="41.8" fill="#EBA12A"/>
<rect x="236.8" y="127.1" width="5.2" height="10.3" fill="#EBA12A"/>
<rect x="241" y="135" width="5.2" height="18.2" fill="#801A8A"/>
<rect x="243.6" y="132" width="5.2" height="5.6" fill="#801A8A"/>
<rect x="251.4" y="113.9" width="5.2" height="29.2" fill="#EBA12A"/>
<rect x="254.3" y="140.9" width="5.2" height="6" fill="#801A8A"/>
<rect x="266.9" y="133.5" width="5.2" height="28.3" fill="#801A8A"/>
<rect x="238.3" y="73.1" width="5.2" height="16.7" fill="#801A8A"/>
<rect x="229.7" y="93.6" width="5.2" height="7.3" fill="#801A8A"/>
<rect x="223.4" y="182.2" width="5.2" height="9.6" fill="#EBA12A"/>
<rect x="245.2" y="177.1" width="5.2" height="26.7" fill="#EBA12A"/>
<rect x="275.1" y="174.2" width="5.2" height="24.2" fill="#EBA12A"/>
<rect x="259.6" y="205.7" width="5.2" height="9.5" fill="#EBA12A"/>
<rect x="238.7" y="203.8" width="5.2" height="26" fill="#801A8A"/>
<rect x="259.9" y="230.1" width="5.2" height="1.9" fill="#801A8A"/>
<rect x="268.5" y="223.1" width="5.2" height="8.9" fill="#801A8A"/>
<rect x="52.6" y="199.9" width="5.2" height="8" fill="#EBA12A"/>
<rect x="326.8" y="14.5" width="5.2" height="41.7" fill="#801A8A"/>
<rect x="376.5" y="3.6" width="5.2" height="41.4" fill="#801A8A"/>
<rect x="367.6" y="42.3" width="5.2" height="15.3" fill="#801A8A"/>
<rect x="387.9" y="39.3" width="5.2" height="24.2" fill="#801A8A"/>
<rect x="398.2" y="39.9" width="5.2" height="23" fill="#801A8A"/>
<rect x="407" y="30.1" width="5.2" height="24.4" fill="#801A8A"/>
<rect x="416" y="2.6" width="5.2" height="39.1" fill="#801A8A"/>
<rect x="349.9" y="57.9" width="5.2" height="17.6" fill="#801A8A"/>
<rect x="359.6" y="64.9" width="5.2" height="8.8" fill="#801A8A"/>
<rect x="368.9" y="70.1" width="5.2" height="4.9" fill="#801A8A"/>
<rect x="377.8" y="62.8" width="5.2" height="13.9" fill="#801A8A"/>
<rect x="382.6" y="64.1" width="5.2" height="23.8" fill="#EBA12A"/>
<rect x="390.9" y="61.9" width="5.2" height="19.4" fill="#EBA12A"/>
<rect x="386.6" y="74.1" width="5.2" height="15.9" fill="#801A8A"/>
<rect x="391.2" y="80" width="5.2" height="25.8" fill="#801A8A"/>
<rect x="395.2" y="80" width="5.2" height="4.6" fill="#801A8A"/>
<rect x="364" y="80.3" width="5.2" height="3.7" fill="#801A8A"/>
<rect x="367.6" y="80.3" width="5.2" height="16.4" fill="#801A8A"/>
<rect x="353.8" y="81.6" width="5.2" height="17.1" fill="#801A8A"/>
<rect x="364.8" y="97" width="5.2" height="4.8" fill="#EBA12A"/>
<rect x="399.5" y="85" width="5.2" height="4.5" fill="#EBA12A"/>
<rect x="400" y="91.9" width="5.2" height="28.8" fill="#801A8A"/>
<rect x="382.7" y="92.4" width="5.2" height="18.9" fill="#801A8A"/>
<rect x="382.7" y="110.2" width="5.2" height="1.6" fill="#EBA12A"/>
<rect x="374" y="98.8" width="5.2" height="19.9" fill="#801A8A"/>
<rect x="365" y="101.8" width="5.2" height="14" fill="#801A8A"/>
<rect x="363.5" y="116.3" width="5.2" height="17.5" fill="#EBA12A"/>
<rect x="344.1" y="97" width="5.2" height="4.4" fill="#801A8A"/>
<rect x="348" y="105.7" width="5.2" height="4" fill="#EBA12A"/>
<rect x="410.9" y="84" width="5.2" height="24.7" fill="#801A8A"/>
<rect x="418.1" y="84" width="5.2" height="15" fill="#EBA12A"/>
<rect x="419.8" y="94.9" width="5.2" height="18.3" fill="#801A8A"/>
<rect x="403.8" y="88.3" width="5.2" height="2.8" fill="#801A8A"/>
<rect x="419.4" y="59.6" width="5.2" height="11.3" fill="#801A8A"/>
<rect x="409.2" y="57.3" width="5.2" height="23.2" fill="#EBA12A"/>
<rect x="406.9" y="63.9" width="5.2" height="13.3" fill="#801A8A"/>
<rect x="401.1" y="59.3" width="5.2" height="14.9" fill="#EBA12A"/>
<rect x="435" y="68.6" width="5.2" height="15.2" fill="#EBA12A"/>
<rect x="443.8" y="72.3" width="5.2" height="13.5" fill="#EBA12A"/>
<rect x="435" y="91.1" width="5.2" height="7.6" fill="#EBA12A"/>
<rect x="447.6" y="87.1" width="5.2" height="19.6" fill="#EBA12A"/>
<rect x="458.8" y="96.4" width="5.2" height="6.4" fill="#EBA12A"/>
<rect x="467.8" y="100.1" width="5.2" height="1.7" fill="#EBA12A"/>
<rect x="437.8" y="119.6" width="5.2" height="17" fill="#EBA12A"/>
<rect x="449.9" y="124.4" width="5.2" height="1.4" fill="#801A8A"/>
<rect x="462" y="125.9" width="5.2" height="2.3" fill="#801A8A"/>
<rect x="484.9" y="92" width="5.2" height="2" fill="#EBA12A"/>
<rect x="475.6" y="49.3" width="5.2" height="29.2" fill="#EBA12A"/>
<rect x="476.5" y="96" width="5.2" height="12.8" fill="#EBA12A"/>
<rect x="485" y="105.7" width="5.2" height="4.8" fill="#EBA12A"/>
<rect x="493.4" y="118" width="5.2" height="1.5" fill="#EBA12A"/>
<rect x="517.7" y="123.4" width="5.2" height="4.8" fill="#EBA12A"/>
<rect x="515.4" y="78" width="5.2" height="29.3" fill="#EBA12A"/>
<rect x="535.5" y="46.9" width="5.2" height="37.9" fill="#EBA12A"/>
<rect x="555.9" y="79.3" width="5.2" height="19.8" fill="#801A8A"/>
<rect x="571.1" y="96" width="5.2" height="4.9" fill="#EBA12A"/>
<rect x="575.2" y="93" width="5.2" height="10.4" fill="#801A8A"/>
<rect x="598.2" y="95.3" width="5.2" height="11.3" fill="#801A8A"/>
<rect x="536.9" y="122.9" width="5.2" height="11.7" fill="#EBA12A"/>
<rect x="545.3" y="129.9" width="5.2" height="2.9" fill="#EBA12A"/>
<rect x="537.5" y="143.1" width="5.2" height="2.6" fill="#EBA12A"/>
<rect x="539.9" y="163" width="5.2" height="2" fill="#EBA12A"/>
<rect x="544.5" y="160" width="5.2" height="7.9" fill="#801A8A"/>
<rect x="564" y="148" width="5.2" height="13.7" fill="#801A8A"/>
<rect x="549.8" y="180.7" width="5.2" height="1" fill="#EBA12A"/>
<rect x="614.3" y="205.2" width="5.2" height="27.5" fill="#801A8A"/>
<rect x="653.1" y="214" width="5.2" height="29.8" fill="#801A8A"/>
<rect x="667.4" y="154" width="5.2" height="13.7" fill="#EBA12A"/>
<rect x="674" y="182.8" width="5.2" height="20.1" fill="#EBA12A"/>
<rect x="408.5" y="117.4" width="5.2" height="27.6" fill="#EBA12A"/>
<rect x="412.1" y="116.3" width="5.2" height="0.8" fill="#EBA12A"/>
<rect x="417.3" y="136" width="5.2" height="6.8" fill="#EBA12A"/>
<rect x="427.5" y="149" width="5.2" height="4.8" fill="#EBA12A"/>
<rect x="436" y="148" width="5.2" height="1.7" fill="#EBA12A"/>
<rect x="329" y="139.8" width="5.2" height="17.9" fill="#EBA12A"/>
<rect x="337.8" y="134.9" width="5.2" height="18.2" fill="#EBA12A"/>
<rect x="357" y="144.2" width="5.2" height="3.9" fill="#EBA12A"/>
<rect x="350.2" y="152.4" width="5.2" height="5.5" fill="#EBA12A"/>
<rect x="354.2" y="163.6" width="5.2" height="1.9" fill="#EBA12A"/>
<rect x="358.2" y="159.5" width="5.2" height="1" fill="#EBA12A"/>
<rect x="363" y="152" width="5.2" height="24.7" fill="#EBA12A"/>
<rect x="373" y="125.1" width="5.2" height="18.8" fill="#EBA12A"/>
<rect x="371.8" y="143.5" width="5.2" height="26.1" fill="#EBA12A"/>
<rect x="386.3" y="134.4" width="5.2" height="12.4" fill="#EBA12A"/>
<rect x="380.4" y="162.1" width="5.2" height="1.6" fill="#EBA12A"/>
<rect x="382.9" y="174.8" width="5.2" height="11" fill="#EBA12A"/>
<rect x="392.8" y="151.4" width="5.2" height="10.9" fill="#EBA12A"/>
<rect x="401.5" y="153.3" width="5.2" height="19.2" fill="#EBA12A"/>
<rect x="392.1" y="169.1" width="5.2" height="8.5" fill="#EBA12A"/>
<rect x="412" y="169.1" width="5.2" height="10.5" fill="#EBA12A"/>
<rect x="416.6" y="168.1" width="5.2" height="1.7" fill="#EBA12A"/>
<rect x="425" y="155.3" width="5.2" height="17.2" fill="#EBA12A"/>
<rect x="434.1" y="166.9" width="5.2" height="5.3" fill="#EBA12A"/>
<rect x="436.4" y="165.8" width="5.2" height="25.4" fill="#EBA12A"/>
<rect x="444.9" y="180.4" width="5.2" height="23.5" fill="#EBA12A"/>
<rect x="403.2" y="178" width="5.2" height="15.6" fill="#EBA12A"/>
<rect x="389.8" y="180.9" width="5.2" height="29.5" fill="#EBA12A"/>
<rect x="405" y="196.8" width="5.2" height="17.1" fill="#EBA12A"/>
<rect x="405" y="215.2" width="5.2" height="22.8" fill="#EBA12A"/>
<rect x="414.7" y="186.3" width="5.2" height="15.3" fill="#EBA12A"/>
<rect x="423.1" y="187.2" width="5.2" height="7.6" fill="#EBA12A"/>
<rect x="416.6" y="209.5" width="5.2" height="8.3" fill="#EBA12A"/>
<rect x="413.8" y="214.3" width="5.2" height="23.3" fill="#EBA12A"/>
<line x1="78.4" y1="63.8" x2="83.4" y2="63.8" stroke="#111" stroke-width="1.4"/>
<text x="77.2" y="68.1" font-size="10.5" text-anchor="end" fill="#111">60°N</text>
<line x1="46.8" y1="117.2" x2="51.8" y2="117.2" stroke="#111" stroke-width="1.4"/>
<text x="45.6" y="121.5" font-size="10.5" text-anchor="end" fill="#111">30°N</text>
<line x1="37.6" y1="170.5" x2="42.6" y2="170.5" stroke="#111" stroke-width="1.4"/>
<text x="36.4" y="174.8" font-size="10.5" text-anchor="end" fill="#111">0°</text>
<line x1="46.8" y1="223.8" x2="51.8" y2="223.8" stroke="#111" stroke-width="1.4"/>
<text x="45.6" y="228.1" font-size="10.5" text-anchor="end" fill="#111">30°S</text>
<line x1="78.4" y1="277.2" x2="83.4" y2="277.2" stroke="#111" stroke-width="1.4"/>
<text x="77.2" y="281.5" font-size="10.5" text-anchor="end" fill="#111">60°S</text>
<line x1="202.7" y1="330" x2="202.7" y2="334.6" stroke="#111" stroke-width="1.2"/>
<line x1="229.3" y1="330" x2="229.3" y2="334.6" stroke="#111" stroke-width="1.2"/>
<line x1="256" y1="330" x2="256" y2="334.6" stroke="#111" stroke-width="1.2"/>
<line x1="282.6" y1="330" x2="282.6" y2="334.6" stroke="#111" stroke-width="1.2"/>
<line x1="309.2" y1="330" x2="309.2" y2="334.6" stroke="#111" stroke-width="1.2"/>
<line x1="335.9" y1="330" x2="335.9" y2="334.6" stroke="#111" stroke-width="1.2"/>
<line x1="362.5" y1="330" x2="362.5" y2="334.6" stroke="#111" stroke-width="1.2"/>
<line x1="389.1" y1="330" x2="389.1" y2="334.6" stroke="#111" stroke-width="1.2"/>
<line x1="415.7" y1="330" x2="415.7" y2="334.6" stroke="#111" stroke-width="1.2"/>
<line x1="442.4" y1="330" x2="442.4" y2="334.6" stroke="#111" stroke-width="1.2"/>
<line x1="469" y1="330" x2="469" y2="334.6" stroke="#111" stroke-width="1.2"/>
<line x1="495.6" y1="330" x2="495.6" y2="334.6" stroke="#111" stroke-width="1.2"/>
<line x1="522.3" y1="330" x2="522.3" y2="334.6" stroke="#111" stroke-width="1.2"/>
<text x="229.3" y="344.9" font-size="10.5" text-anchor="middle" fill="#111">150°W</text>
<text x="282.6" y="344.9" font-size="10.5" text-anchor="middle" fill="#111">90°W</text>
<text x="335.9" y="344.9" font-size="10.5" text-anchor="middle" fill="#111">30°W</text>
<text x="362.5" y="344.9" font-size="10.5" text-anchor="middle" fill="#111">0°</text>
<text x="389.1" y="344.9" font-size="10.5" text-anchor="middle" fill="#111">30°E</text>
<text x="415.7" y="344.9" font-size="10.5" text-anchor="middle" fill="#111">60°E</text>
<text x="469" y="344.9" font-size="10.5" text-anchor="middle" fill="#111">120°E</text>
<text x="522.3" y="344.9" font-size="10.5" text-anchor="middle" fill="#111">180°</text>
<text x="121.5" y="145.5" font-size="9.95" text-anchor="middle" fill="#111">Green space ratio (%)</text>
<rect x="77.1" y="162.8" width="4.8" height="36.2" fill="#EBA12A"/>
<path d="M81.9 163.5 H88.5 M81.9 198.5 H88.5" stroke="#111" stroke-width="1.1"/>
<text x="98.3" y="169.2" font-size="10.2" fill="#111">0.88</text>
<text x="98.3" y="202.8" font-size="10.2" fill="#111">0.00</text>
<rect x="152" y="160" width="4.8" height="39" fill="#801A8A"/>
<path d="M156.8 159.8 H164 M156.8 198.8 H164" stroke="#111" stroke-width="1.1"/>
<text x="180" y="165.8" font-size="10.2" fill="#111">0.95</text>
<text x="180" y="202.3" font-size="10.2" fill="#111">0.00</text>
<text x="100.5" y="219.5" font-size="9.95" text-anchor="middle" fill="#111">Capital in low-</text>
<text x="100.5" y="231.1" font-size="9.95" text-anchor="middle" fill="#111">and middle-</text>
<text x="100.5" y="242.7" font-size="9.95" text-anchor="middle" fill="#111">income country</text>
<text x="175.2" y="231.1" font-size="9.95" text-anchor="middle" fill="#111">Capital in high-</text>
<text x="175.2" y="242.7" font-size="9.95" text-anchor="middle" fill="#111">income country</text>
<text x="34.7" y="28.7" font-size="15.2" fill="#111">a</text>
<text x="36.8" y="359.9" font-size="15.2" text-anchor="start" fill="#111" >b</text>
<polygon points="72,586.4 86.27,586.21 100.54,585.85 114.81,585.32 129.08,584.61 143.35,583.72 157.62,582.67 171.89,581.45 186.16,580.1 200.43,578.62 214.7,577.03 228.97,575.36 243.24,573.6 257.51,571.78 271.78,569.9 286.05,567.97 300.32,566 314.59,564 328.86,561.97 343.13,559.91 357.4,557.83 371.67,555.73 385.94,553.61 400.21,551.48 414.48,549.34 428.75,547.18 443.02,545.02 457.29,542.84 471.56,540.66 485.83,538.47 500.1,536.27 514.37,534.07 528.64,531.86 542.91,529.65 557.18,527.43 571.45,525.21 585.72,522.99 599.99,520.76 614.26,518.53 628.53,516.29 642.8,514.06 642.8,625.37 628.53,624.78 614.26,624.19 599.99,623.61 585.72,623.02 571.45,622.44 557.18,621.87 542.91,621.3 528.64,620.73 514.37,620.17 500.1,619.62 485.83,619.07 471.56,618.52 457.29,617.99 443.02,617.46 428.75,616.94 414.48,616.43 400.21,615.94 385.94,615.45 371.67,614.98 357.4,614.53 343.13,614.09 328.86,613.68 314.59,613.29 300.32,612.92 286.05,612.59 271.78,612.3 257.51,612.05 243.24,611.84 228.97,611.69 214.7,611.61 200.43,611.6 186.16,611.68 171.89,611.84 157.62,612.11 143.35,612.5 129.08,613 114.81,613.63 100.54,614.38 86.27,615.25 72,616.24" fill="#d9d9d9"/>
<circle cx="94" cy="397.9" r="3.9" fill="#E69F00" fill-opacity="0.8" stroke="#E69F00" stroke-opacity="0.8" stroke-width="1"/>
<circle cx="105.3" cy="462.8" r="3.9" fill="#E69F00" fill-opacity="0.8" stroke="#E69F00" stroke-opacity="0.8" stroke-width="1"/>
<circle cx="87" cy="471.6" r="3.9" fill="#E69F00" fill-opacity="0.8" stroke="#E69F00" stroke-opacity="0.8" stroke-width="1"/>
<circle cx="93.9" cy="471.2" r="3.9" fill="#E69F00" fill-opacity="0.8" stroke="#E69F00" stroke-opacity="0.8" stroke-width="1"/>
<circle cx="102.6" cy="473.4" r="3.9" fill="#E69F00" fill-opacity="0.8" stroke="#E69F00" stroke-opacity="0.8" stroke-width="1"/>
<circle cx="109.1" cy="474.8" r="3.9" fill="#E69F00" fill-opacity="0.8" stroke="#E69F00" stroke-opacity="0.8" stroke-width="1"/>
<circle cx="123.2" cy="471.9" r="3.9" fill="#E69F00" fill-opacity="0.8" stroke="#E69F00" stroke-opacity="0.8" stroke-width="1"/>
<circle cx="75.6" cy="483.9" r="3.9" fill="#E69F00" fill-opacity="0.8" stroke="#E69F00" stroke-opacity="0.8" stroke-width="1"/>
<circle cx="87.2" cy="487.2" r="3.9" fill="#E69F00" fill-opacity="0.8" stroke="#E69F00" stroke-opacity="0.8" stroke-width="1"/>
<circle cx="84.8" cy="489.7" r="3.9" fill="#E69F00" fill-opacity="0.8" stroke="#E69F00" stroke-opacity="0.8" stroke-width="1"/>
<circle cx="81.9" cy="496.4" r="3.9" fill="#E69F00" fill-opacity="0.8" stroke="#E69F00" stroke-opacity="0.8" stroke-width="1"/>
<circle cx="77.5" cy="503.7" r="3.9" fill="#E69F00" fill-opacity="0.8" stroke="#E69F00" stroke-opacity="0.8" stroke-width="1"/>
<circle cx="101" cy="505.5" r="3.9" fill="#E69F00" fill-opacity="0.8" stroke="#E69F00" stroke-opacity="0.8" stroke-width="1"/>
<circle cx="111.1" cy="508.7" r="3.9" fill="#E69F00" fill-opacity="0.8" stroke="#E69F00" stroke-opacity="0.8" stroke-width="1"/>
<circle cx="111.4" cy="512.5" r="3.9" fill="#E69F00" fill-opacity="0.8" stroke="#E69F00" stroke-opacity="0.8" stroke-width="1"/>
<circle cx="116.9" cy="517.4" r="3.9" fill="#E69F00" fill-opacity="0.8" stroke="#E69F00" stroke-opacity="0.8" stroke-width="1"/>
<circle cx="72.8" cy="516.4" r="3.9" fill="#E69F00" fill-opacity="0.8" stroke="#E69F00" stroke-opacity="0.8" stroke-width="1"/>
<circle cx="75" cy="521.5" r="3.9" fill="#E69F00" fill-opacity="0.8" stroke="#E69F00" stroke-opacity="0.8" stroke-width="1"/>
<circle cx="91.4" cy="519.1" r="3.9" fill="#E69F00" fill-opacity="0.8" stroke="#E69F00" stroke-opacity="0.8" stroke-width="1"/>
<circle cx="101.6" cy="519.8" r="3.9" fill="#E69F00" fill-opacity="0.8" stroke="#E69F00" stroke-opacity="0.8" stroke-width="1"/>
<circle cx="81.2" cy="548.8" r="3.9" fill="#E69F00" fill-opacity="0.8" stroke="#E69F00" stroke-opacity="0.8" stroke-width="1"/>
<circle cx="91.8" cy="546.1" r="3.9" fill="#E69F00" fill-opacity="0.8" stroke="#E69F00" stroke-opacity="0.8" stroke-width="1"/>
<circle cx="95.5" cy="547" r="3.9" fill="#E69F00" fill-opacity="0.8" stroke="#E69F00" stroke-opacity="0.8" stroke-width="1"/>
<circle cx="73.6" cy="552.8" r="3.9" fill="#E69F00" fill-opacity="0.8" stroke="#E69F00" stroke-opacity="0.8" stroke-width="1"/>
<circle cx="80.4" cy="557.8" r="3.9" fill="#E69F00" fill-opacity="0.8" stroke="#E69F00" stroke-opacity="0.8" stroke-width="1"/>
<circle cx="76.8" cy="557.5" r="3.9" fill="#E69F00" fill-opacity="0.8" stroke="#E69F00" stroke-opacity="0.8" stroke-width="1"/>
<circle cx="73.1" cy="563.4" r="3.9" fill="#E69F00" fill-opacity="0.8" stroke="#E69F00" stroke-opacity="0.8" stroke-width="1"/>
<circle cx="73.1" cy="568.5" r="3.9" fill="#E69F00" fill-opacity="0.8" stroke="#E69F00" stroke-opacity="0.8" stroke-width="1"/>
<circle cx="79.7" cy="567.7" r="3.9" fill="#E69F00" fill-opacity="0.8" stroke="#E69F00" stroke-opacity="0.8" stroke-width="1"/>
<circle cx="106" cy="566" r="3.9" fill="#E69F00" fill-opacity="0.8" stroke="#E69F00" stroke-opacity="0.8" stroke-width="1"/>
<circle cx="77.5" cy="578.7" r="3.9" fill="#E69F00" fill-opacity="0.8" stroke="#E69F00" stroke-opacity="0.8" stroke-width="1"/>
<circle cx="100.1" cy="586.4" r="3.9" fill="#E69F00" fill-opacity="0.8" stroke="#E69F00" stroke-opacity="0.8" stroke-width="1"/>
<circle cx="106.7" cy="585" r="3.9" fill="#E69F00" fill-opacity="0.8" stroke="#E69F00" stroke-opacity="0.8" stroke-width="1"/>
<circle cx="123.5" cy="587.9" r="3.9" fill="#E69F00" fill-opacity="0.8" stroke="#E69F00" stroke-opacity="0.8" stroke-width="1"/>
<circle cx="119.6" cy="591.4" r="3.9" fill="#E69F00" fill-opacity="0.8" stroke="#E69F00" stroke-opacity="0.8" stroke-width="1"/>
<circle cx="106.3" cy="595.2" r="3.9" fill="#E69F00" fill-opacity="0.8" stroke="#E69F00" stroke-opacity="0.8" stroke-width="1"/>
<circle cx="78.7" cy="596.2" r="3.9" fill="#E69F00" fill-opacity="0.8" stroke="#E69F00" stroke-opacity="0.8" stroke-width="1"/>
<circle cx="71.7" cy="601.3" r="3.9" fill="#E69F00" fill-opacity="0.8" stroke="#E69F00" stroke-opacity="0.8" stroke-width="1"/>
<circle cx="73.9" cy="606.4" r="3.9" fill="#E69F00" fill-opacity="0.8" stroke="#E69F00" stroke-opacity="0.8" stroke-width="1"/>
<circle cx="80.4" cy="609.8" r="3.9" fill="#E69F00" fill-opacity="0.8" stroke="#E69F00" stroke-opacity="0.8" stroke-width="1"/>
<circle cx="84.5" cy="615.6" r="3.9" fill="#E69F00" fill-opacity="0.8" stroke="#E69F00" stroke-opacity="0.8" stroke-width="1"/>
<circle cx="72.4" cy="617.4" r="3.9" fill="#E69F00" fill-opacity="0.8" stroke="#E69F00" stroke-opacity="0.8" stroke-width="1"/>
<circle cx="72.4" cy="619.8" r="3.9" fill="#E69F00" fill-opacity="0.8" stroke="#E69F00" stroke-opacity="0.8" stroke-width="1"/>
<circle cx="116.9" cy="623.9" r="3.9" fill="#E69F00" fill-opacity="0.8" stroke="#E69F00" stroke-opacity="0.8" stroke-width="1"/>
<circle cx="98.7" cy="628.3" r="3.9" fill="#E69F00" fill-opacity="0.8" stroke="#E69F00" stroke-opacity="0.8" stroke-width="1"/>
<circle cx="103.5" cy="627.6" r="3.9" fill="#E69F00" fill-opacity="0.8" stroke="#E69F00" stroke-opacity="0.8" stroke-width="1"/>
<circle cx="82.6" cy="635.2" r="3.9" fill="#E69F00" fill-opacity="0.8" stroke="#E69F00" stroke-opacity="0.8" stroke-width="1"/>
<circle cx="73.1" cy="639.1" r="3.9" fill="#E69F00" fill-opacity="0.8" stroke="#E69F00" stroke-opacity="0.8" stroke-width="1"/>
<circle cx="73.9" cy="643.9" r="3.9" fill="#E69F00" fill-opacity="0.8" stroke="#E69F00" stroke-opacity="0.8" stroke-width="1"/>
<circle cx="90.9" cy="640.7" r="3.9" fill="#E69F00" fill-opacity="0.8" stroke="#E69F00" stroke-opacity="0.8" stroke-width="1"/>
<circle cx="102.8" cy="641.7" r="3.9" fill="#E69F00" fill-opacity="0.8" stroke="#E69F00" stroke-opacity="0.8" stroke-width="1"/>
<circle cx="75.8" cy="653.1" r="3.9" fill="#E69F00" fill-opacity="0.8" stroke="#E69F00" stroke-opacity="0.8" stroke-width="1"/>
<circle cx="114.3" cy="650.9" r="3.9" fill="#E69F00" fill-opacity="0.8" stroke="#E69F00" stroke-opacity="0.8" stroke-width="1"/>
<circle cx="110.8" cy="655.1" r="3.9" fill="#E69F00" fill-opacity="0.8" stroke="#E69F00" stroke-opacity="0.8" stroke-width="1"/>
<circle cx="82.3" cy="659.2" r="3.9" fill="#E69F00" fill-opacity="0.8" stroke="#E69F00" stroke-opacity="0.8" stroke-width="1"/>
<circle cx="88.5" cy="659.2" r="3.9" fill="#E69F00" fill-opacity="0.8" stroke="#E69F00" stroke-opacity="0.8" stroke-width="1"/>
<circle cx="74.6" cy="661.4" r="3.9" fill="#E69F00" fill-opacity="0.8" stroke="#E69F00" stroke-opacity="0.8" stroke-width="1"/>
<circle cx="74.6" cy="664.3" r="3.9" fill="#E69F00" fill-opacity="0.8" stroke="#E69F00" stroke-opacity="0.8" stroke-width="1"/>
<circle cx="83.1" cy="668" r="3.9" fill="#E69F00" fill-opacity="0.8" stroke="#E69F00" stroke-opacity="0.8" stroke-width="1"/>
<circle cx="74.6" cy="670.9" r="3.9" fill="#E69F00" fill-opacity="0.8" stroke="#E69F00" stroke-opacity="0.8" stroke-width="1"/>
<circle cx="78.2" cy="669.4" r="3.9" fill="#E69F00" fill-opacity="0.8" stroke="#E69F00" stroke-opacity="0.8" stroke-width="1"/>
<circle cx="86.7" cy="673.1" r="3.9" fill="#E69F00" fill-opacity="0.8" stroke="#E69F00" stroke-opacity="0.8" stroke-width="1"/>
<circle cx="101.6" cy="672" r="3.9" fill="#E69F00" fill-opacity="0.8" stroke="#E69F00" stroke-opacity="0.8" stroke-width="1"/>
<circle cx="114.3" cy="669.7" r="3.9" fill="#E69F00" fill-opacity="0.8" stroke="#E69F00" stroke-opacity="0.8" stroke-width="1"/>
<circle cx="74.6" cy="686.2" r="3.9" fill="#E69F00" fill-opacity="0.8" stroke="#E69F00" stroke-opacity="0.8" stroke-width="1"/>
<circle cx="79" cy="687.7" r="3.9" fill="#E69F00" fill-opacity="0.8" stroke="#E69F00" stroke-opacity="0.8" stroke-width="1"/>
<circle cx="88.5" cy="683.3" r="3.9" fill="#E69F00" fill-opacity="0.8" stroke="#E69F00" stroke-opacity="0.8" stroke-width="1"/>
<circle cx="96.5" cy="685.2" r="3.9" fill="#E69F00" fill-opacity="0.8" stroke="#E69F00" stroke-opacity="0.8" stroke-width="1"/>
<circle cx="102.3" cy="681.8" r="3.9" fill="#E69F00" fill-opacity="0.8" stroke="#E69F00" stroke-opacity="0.8" stroke-width="1"/>
<circle cx="102.3" cy="686.9" r="3.9" fill="#E69F00" fill-opacity="0.8" stroke="#E69F00" stroke-opacity="0.8" stroke-width="1"/>
<circle cx="85.5" cy="691.3" r="3.9" fill="#E69F00" fill-opacity="0.8" stroke="#E69F00" stroke-opacity="0.8" stroke-width="1"/>
<circle cx="75.3" cy="692.8" r="3.9" fill="#E69F00" fill-opacity="0.8" stroke="#E69F00" stroke-opacity="0.8" stroke-width="1"/>
<circle cx="80.4" cy="694.2" r="3.9" fill="#E69F00" fill-opacity="0.8" stroke="#E69F00" stroke-opacity="0.8" stroke-width="1"/>
<circle cx="80.4" cy="700.8" r="3.9" fill="#E69F00" fill-opacity="0.8" stroke="#E69F00" stroke-opacity="0.8" stroke-width="1"/>
<circle cx="81.2" cy="705.6" r="3.9" fill="#E69F00" fill-opacity="0.8" stroke="#E69F00" stroke-opacity="0.8" stroke-width="1"/>
<circle cx="90.7" cy="703.7" r="3.9" fill="#E69F00" fill-opacity="0.8" stroke="#E69F00" stroke-opacity="0.8" stroke-width="1"/>
<circle cx="92.8" cy="702.6" r="3.9" fill="#E69F00" fill-opacity="0.8" stroke="#E69F00" stroke-opacity="0.8" stroke-width="1"/>
<circle cx="125.7" cy="693.1" r="3.9" fill="#E69F00" fill-opacity="0.8" stroke="#E69F00" stroke-opacity="0.8" stroke-width="1"/>
<circle cx="77.5" cy="690.5" r="3.9" fill="#E69F00" fill-opacity="0.8" stroke="#E69F00" stroke-opacity="0.8" stroke-width="1"/>
<circle cx="89.5" cy="682.5" r="3.9" fill="#E69F00" fill-opacity="0.8" stroke="#E69F00" stroke-opacity="0.8" stroke-width="1"/>
<circle cx="74.6" cy="663" r="3.9" fill="#E69F00" fill-opacity="0.8" stroke="#E69F00" stroke-opacity="0.8" stroke-width="1"/>
<circle cx="134.7" cy="477" r="3.9" fill="#76098F" fill-opacity="0.8" stroke="#76098F" stroke-opacity="0.8" stroke-width="1"/>
<circle cx="154.2" cy="482.6" r="3.9" fill="#76098F" fill-opacity="0.8" stroke="#76098F" stroke-opacity="0.8" stroke-width="1"/>
<circle cx="141" cy="497.4" r="3.9" fill="#76098F" fill-opacity="0.8" stroke="#76098F" stroke-opacity="0.8" stroke-width="1"/>
<circle cx="150.2" cy="507.4" r="3.9" fill="#76098F" fill-opacity="0.8" stroke="#76098F" stroke-opacity="0.8" stroke-width="1"/>
<circle cx="128.9" cy="547" r="3.9" fill="#76098F" fill-opacity="0.8" stroke="#76098F" stroke-opacity="0.8" stroke-width="1"/>
<circle cx="143.9" cy="559.7" r="3.9" fill="#76098F" fill-opacity="0.8" stroke="#76098F" stroke-opacity="0.8" stroke-width="1"/>
<circle cx="155.9" cy="589.6" r="3.9" fill="#76098F" fill-opacity="0.8" stroke="#76098F" stroke-opacity="0.8" stroke-width="1"/>
<circle cx="156.4" cy="596.9" r="3.9" fill="#76098F" fill-opacity="0.8" stroke="#76098F" stroke-opacity="0.8" stroke-width="1"/>
<circle cx="140.6" cy="612.6" r="3.9" fill="#76098F" fill-opacity="0.8" stroke="#76098F" stroke-opacity="0.8" stroke-width="1"/>
<circle cx="154.9" cy="656.3" r="3.9" fill="#76098F" fill-opacity="0.8" stroke="#76098F" stroke-opacity="0.8" stroke-width="1"/>
<circle cx="142.9" cy="681.8" r="3.9" fill="#76098F" fill-opacity="0.8" stroke="#76098F" stroke-opacity="0.8" stroke-width="1"/>
<circle cx="133" cy="693.5" r="3.9" fill="#76098F" fill-opacity="0.8" stroke="#76098F" stroke-opacity="0.8" stroke-width="1"/>
<circle cx="170.5" cy="391.9" r="3.9" fill="#76098F" fill-opacity="0.8" stroke="#76098F" stroke-opacity="0.8" stroke-width="1"/>
<circle cx="185.4" cy="510.7" r="3.9" fill="#76098F" fill-opacity="0.8" stroke="#76098F" stroke-opacity="0.8" stroke-width="1"/>
<circle cx="200.1" cy="509.6" r="3.9" fill="#76098F" fill-opacity="0.8" stroke="#76098F" stroke-opacity="0.8" stroke-width="1"/>
<circle cx="217.4" cy="509" r="3.9" fill="#76098F" fill-opacity="0.8" stroke="#76098F" stroke-opacity="0.8" stroke-width="1"/>
<circle cx="201.1" cy="544" r="3.9" fill="#76098F" fill-opacity="0.8" stroke="#76098F" stroke-opacity="0.8" stroke-width="1"/>
<circle cx="168" cy="559.1" r="3.9" fill="#76098F" fill-opacity="0.8" stroke="#76098F" stroke-opacity="0.8" stroke-width="1"/>
<circle cx="206.6" cy="572.2" r="3.9" fill="#76098F" fill-opacity="0.8" stroke="#76098F" stroke-opacity="0.8" stroke-width="1"/>
<circle cx="240.9" cy="598.7" r="3.9" fill="#76098F" fill-opacity="0.8" stroke="#76098F" stroke-opacity="0.8" stroke-width="1"/>
<circle cx="225.6" cy="614.2" r="3.9" fill="#76098F" fill-opacity="0.8" stroke="#76098F" stroke-opacity="0.8" stroke-width="1"/>
<circle cx="219.1" cy="620.2" r="3.9" fill="#76098F" fill-opacity="0.8" stroke="#76098F" stroke-opacity="0.8" stroke-width="1"/>
<circle cx="165.9" cy="629.6" r="3.9" fill="#76098F" fill-opacity="0.8" stroke="#76098F" stroke-opacity="0.8" stroke-width="1"/>
<circle cx="281.8" cy="634.7" r="3.9" fill="#76098F" fill-opacity="0.8" stroke="#76098F" stroke-opacity="0.8" stroke-width="1"/>
<circle cx="163.3" cy="658.2" r="3.9" fill="#76098F" fill-opacity="0.8" stroke="#76098F" stroke-opacity="0.8" stroke-width="1"/>
<circle cx="195.4" cy="660.9" r="3.9" fill="#76098F" fill-opacity="0.8" stroke="#76098F" stroke-opacity="0.8" stroke-width="1"/>
<circle cx="231.7" cy="659.9" r="3.9" fill="#76098F" fill-opacity="0.8" stroke="#76098F" stroke-opacity="0.8" stroke-width="1"/>
<circle cx="182.7" cy="671.9" r="3.9" fill="#76098F" fill-opacity="0.8" stroke="#76098F" stroke-opacity="0.8" stroke-width="1"/>
<circle cx="185.4" cy="685.8" r="3.9" fill="#76098F" fill-opacity="0.8" stroke="#76098F" stroke-opacity="0.8" stroke-width="1"/>
<circle cx="229.7" cy="681.3" r="3.9" fill="#76098F" fill-opacity="0.8" stroke="#76098F" stroke-opacity="0.8" stroke-width="1"/>
<circle cx="257.9" cy="679.7" r="3.9" fill="#76098F" fill-opacity="0.8" stroke="#76098F" stroke-opacity="0.8" stroke-width="1"/>
<circle cx="166.3" cy="706.9" r="3.9" fill="#76098F" fill-opacity="0.8" stroke="#76098F" stroke-opacity="0.8" stroke-width="1"/>
<circle cx="209.9" cy="705.3" r="3.9" fill="#76098F" fill-opacity="0.8" stroke="#76098F" stroke-opacity="0.8" stroke-width="1"/>
<circle cx="292.4" cy="467.8" r="3.9" fill="#76098F" fill-opacity="0.8" stroke="#76098F" stroke-opacity="0.8" stroke-width="1"/>
<circle cx="368.7" cy="484.1" r="3.9" fill="#76098F" fill-opacity="0.8" stroke="#76098F" stroke-opacity="0.8" stroke-width="1"/>
<circle cx="303.5" cy="517.4" r="3.9" fill="#76098F" fill-opacity="0.8" stroke="#76098F" stroke-opacity="0.8" stroke-width="1"/>
<circle cx="328.8" cy="514.4" r="3.9" fill="#76098F" fill-opacity="0.8" stroke="#76098F" stroke-opacity="0.8" stroke-width="1"/>
<circle cx="322" cy="559.8" r="3.9" fill="#76098F" fill-opacity="0.8" stroke="#76098F" stroke-opacity="0.8" stroke-width="1"/>
<circle cx="322" cy="573.1" r="3.9" fill="#76098F" fill-opacity="0.8" stroke="#76098F" stroke-opacity="0.8" stroke-width="1"/>
<circle cx="331.9" cy="574.8" r="3.9" fill="#76098F" fill-opacity="0.8" stroke="#76098F" stroke-opacity="0.8" stroke-width="1"/>
<circle cx="293.5" cy="591.8" r="3.9" fill="#76098F" fill-opacity="0.8" stroke="#76098F" stroke-opacity="0.8" stroke-width="1"/>
<circle cx="309" cy="618.5" r="3.9" fill="#76098F" fill-opacity="0.8" stroke="#76098F" stroke-opacity="0.8" stroke-width="1"/>
<circle cx="420.2" cy="646.1" r="3.9" fill="#76098F" fill-opacity="0.8" stroke="#76098F" stroke-opacity="0.8" stroke-width="1"/>
<circle cx="546.8" cy="562.6" r="3.9" fill="#76098F" fill-opacity="0.8" stroke="#76098F" stroke-opacity="0.8" stroke-width="1"/>
<circle cx="642.8" cy="583.1" r="3.9" fill="#76098F" fill-opacity="0.8" stroke="#76098F" stroke-opacity="0.8" stroke-width="1"/>
<circle cx="450.1" cy="643.3" r="3.9" fill="#76098F" fill-opacity="0.8" stroke="#76098F" stroke-opacity="0.8" stroke-width="1"/>
<circle cx="472" cy="699.1" r="3.9" fill="#76098F" fill-opacity="0.8" stroke="#76098F" stroke-opacity="0.8" stroke-width="1"/>
<line x1="72" y1="602.01" x2="642.8" y2="575.56" stroke="#000" stroke-width="3" stroke-linecap="butt"/>
<rect x="43.5" y="376.5" width="628.5" height="345.9" fill="none" stroke="#262626" stroke-width="1.2"/>
<line x1="39.3" y1="707.6" x2="43.5" y2="707.6" stroke="#262626" stroke-width="1.1"/>
<text x="34.73" y="712.16" font-size="13.25" text-anchor="end" fill="#1a1a1a" textLength="7.95" lengthAdjust="spacingAndGlyphs">0</text>
<line x1="39.3" y1="637.22" x2="43.5" y2="637.22" stroke="#262626" stroke-width="1.1"/>
<text x="34.74" y="641.78" font-size="13.25" text-anchor="end" fill="#1a1a1a" textLength="15.91" lengthAdjust="spacingAndGlyphs">20</text>
<line x1="39.3" y1="566.84" x2="43.5" y2="566.84" stroke="#262626" stroke-width="1.1"/>
<text x="34.74" y="571.4" font-size="13.25" text-anchor="end" fill="#1a1a1a" textLength="15.91" lengthAdjust="spacingAndGlyphs">40</text>
<line x1="39.3" y1="496.46" x2="43.5" y2="496.46" stroke="#262626" stroke-width="1.1"/>
<text x="34.74" y="501.02" font-size="13.25" text-anchor="end" fill="#1a1a1a" textLength="15.91" lengthAdjust="spacingAndGlyphs">60</text>
<line x1="39.3" y1="426.08" x2="43.5" y2="426.08" stroke="#262626" stroke-width="1.1"/>
<text x="34.74" y="430.64" font-size="13.25" text-anchor="end" fill="#1a1a1a" textLength="15.91" lengthAdjust="spacingAndGlyphs">80</text>
<line x1="70.6" y1="722.4" x2="70.6" y2="726.6" stroke="#262626" stroke-width="1.1"/>
<text x="70.61" y="741.9" font-size="13.25" text-anchor="middle" fill="#1a1a1a" textLength="7.95" lengthAdjust="spacingAndGlyphs">0</text>
<line x1="162.2" y1="722.4" x2="162.2" y2="726.6" stroke="#262626" stroke-width="1.1"/>
<text x="162.15" y="741.9" font-size="13.25" text-anchor="middle" fill="#1a1a1a" textLength="15.91" lengthAdjust="spacingAndGlyphs">20</text>
<line x1="253.8" y1="722.4" x2="253.8" y2="726.6" stroke="#262626" stroke-width="1.1"/>
<text x="253.91" y="741.9" font-size="13.25" text-anchor="middle" fill="#1a1a1a" textLength="15.91" lengthAdjust="spacingAndGlyphs">40</text>
<line x1="345.4" y1="722.4" x2="345.4" y2="726.6" stroke="#262626" stroke-width="1.1"/>
<text x="345.38" y="741.9" font-size="13.25" text-anchor="middle" fill="#1a1a1a" textLength="15.91" lengthAdjust="spacingAndGlyphs">60</text>
<line x1="437" y1="722.4" x2="437" y2="726.6" stroke="#262626" stroke-width="1.1"/>
<text x="437.02" y="741.9" font-size="13.25" text-anchor="middle" fill="#1a1a1a" textLength="15.91" lengthAdjust="spacingAndGlyphs">80</text>
<line x1="528.6" y1="722.4" x2="528.6" y2="726.6" stroke="#262626" stroke-width="1.1"/>
<text x="528.31" y="741.9" font-size="13.25" text-anchor="middle" fill="#1a1a1a" textLength="23.86" lengthAdjust="spacingAndGlyphs">100</text>
<line x1="620.2" y1="722.4" x2="620.2" y2="726.6" stroke="#262626" stroke-width="1.1"/>
<text x="619.91" y="741.9" font-size="13.25" text-anchor="middle" fill="#1a1a1a" textLength="23.86" lengthAdjust="spacingAndGlyphs">120</text>
<text x="357.4" y="758.5" font-size="13.3" text-anchor="middle" fill="#1a1a1a" textLength="152.28" lengthAdjust="spacingAndGlyphs">Economic level (1000 $)</text>
<text x="11.8" y="550" font-size="13.3" text-anchor="middle" fill="#1a1a1a" textLength="137.45" lengthAdjust="spacingAndGlyphs" transform="rotate(-90 11.8 550)">Green space ratio (%)</text>
<text x="639.42" y="403.8" font-size="13.25" text-anchor="end" fill="#1a1a1a" textLength="147.07" lengthAdjust="spacingAndGlyphs">y = 0.0603x + 29.9878</text>
<text x="639.71" y="417.5" font-size="13.25" text-anchor="end" fill="#1a1a1a" textLength="75.86" lengthAdjust="spacingAndGlyphs">R² = 0.0037</text>
<text x="639.51" y="431.2" font-size="13.25" text-anchor="end" fill="#1a1a1a" textLength="70.09" lengthAdjust="spacingAndGlyphs">p = 0.4809</text>
<text x="31.4" y="780.2" font-size="15.2" text-anchor="start" fill="#111" >c</text>
<polygon points="58.8,986.31 66.84,987.53 74.87,988.72 82.91,989.9 90.95,991.04 98.98,992.15 107.02,993.21 115.06,994.23 123.1,995.19 131.13,996.08 139.17,995.98 147.21,996.73 155.24,997.4 163.28,997.99 171.32,998.53 179.35,999.01 187.39,999.44 195.43,999.85 203.47,1000.22 211.5,1000.57 219.54,1000.9 219.54,1014.84 211.5,1013.64 203.47,1012.45 195.43,1011.28 187.39,1010.14 179.35,1009.02 171.32,1007.93 163.28,1006.88 155.24,1005.88 147.21,1004.93 139.17,1004.03 131.13,1003.5 123.1,1002.73 115.06,1002.03 107.02,1001.38 98.98,1000.79 90.95,1000.24 82.91,999.72 74.87,999.23 66.84,998.76 58.8,998.32" fill="#d9d9d9"/>
<circle cx="79.3" cy="925.5" r="3.9" fill="#E69F00" fill-opacity="0.8" stroke="#E69F00" stroke-opacity="0.8" stroke-width="1"/>
<circle cx="107.2" cy="948.1" r="3.9" fill="#E69F00" fill-opacity="0.8" stroke="#E69F00" stroke-opacity="0.8" stroke-width="1"/>
<circle cx="89.3" cy="956.2" r="3.9" fill="#E69F00" fill-opacity="0.8" stroke="#E69F00" stroke-opacity="0.8" stroke-width="1"/>
<circle cx="62.2" cy="961.9" r="3.9" fill="#E69F00" fill-opacity="0.8" stroke="#E69F00" stroke-opacity="0.8" stroke-width="1"/>
<circle cx="70.4" cy="961" r="3.9" fill="#E69F00" fill-opacity="0.8" stroke="#E69F00" stroke-opacity="0.8" stroke-width="1"/>
<circle cx="68.8" cy="970.4" r="3.9" fill="#E69F00" fill-opacity="0.8" stroke="#E69F00" stroke-opacity="0.8" stroke-width="1"/>
<circle cx="64.9" cy="974.6" r="3.9" fill="#E69F00" fill-opacity="0.8" stroke="#E69F00" stroke-opacity="0.8" stroke-width="1"/>
<circle cx="84.8" cy="971.5" r="3.9" fill="#E69F00" fill-opacity="0.8" stroke="#E69F00" stroke-opacity="0.8" stroke-width="1"/>
<circle cx="126.5" cy="965.8" r="3.9" fill="#E69F00" fill-opacity="0.8" stroke="#E69F00" stroke-opacity="0.8" stroke-width="1"/>
<circle cx="60.5" cy="982.9" r="3.9" fill="#E69F00" fill-opacity="0.8" stroke="#E69F00" stroke-opacity="0.8" stroke-width="1"/>
<circle cx="69.1" cy="991" r="3.9" fill="#E69F00" fill-opacity="0.8" stroke="#E69F00" stroke-opacity="0.8" stroke-width="1"/>
<circle cx="77" cy="991" r="3.9" fill="#E69F00" fill-opacity="0.8" stroke="#E69F00" stroke-opacity="0.8" stroke-width="1"/>
<circle cx="101.3" cy="992.7" r="3.9" fill="#E69F00" fill-opacity="0.8" stroke="#E69F00" stroke-opacity="0.8" stroke-width="1"/>
<circle cx="109.8" cy="994.4" r="3.9" fill="#E69F00" fill-opacity="0.8" stroke="#E69F00" stroke-opacity="0.8" stroke-width="1"/>
<circle cx="101.9" cy="996.7" r="3.9" fill="#E69F00" fill-opacity="0.8" stroke="#E69F00" stroke-opacity="0.8" stroke-width="1"/>
<circle cx="120.3" cy="998" r="3.9" fill="#E69F00" fill-opacity="0.8" stroke="#E69F00" stroke-opacity="0.8" stroke-width="1"/>
<circle cx="66.5" cy="1001" r="3.9" fill="#E69F00" fill-opacity="0.8" stroke="#E69F00" stroke-opacity="0.8" stroke-width="1"/>
<circle cx="66.5" cy="1006.5" r="3.9" fill="#E69F00" fill-opacity="0.8" stroke="#E69F00" stroke-opacity="0.8" stroke-width="1"/>
<circle cx="75.4" cy="1004.7" r="3.9" fill="#E69F00" fill-opacity="0.8" stroke="#E69F00" stroke-opacity="0.8" stroke-width="1"/>
<circle cx="90.8" cy="1000.6" r="3.9" fill="#E69F00" fill-opacity="0.8" stroke="#E69F00" stroke-opacity="0.8" stroke-width="1"/>
<circle cx="90.8" cy="1002.6" r="3.9" fill="#E69F00" fill-opacity="0.8" stroke="#E69F00" stroke-opacity="0.8" stroke-width="1"/>
<circle cx="84.2" cy="1007.8" r="3.9" fill="#E69F00" fill-opacity="0.8" stroke="#E69F00" stroke-opacity="0.8" stroke-width="1"/>
<circle cx="81.6" cy="1013.1" r="3.9" fill="#E69F00" fill-opacity="0.8" stroke="#E69F00" stroke-opacity="0.8" stroke-width="1"/>
<circle cx="112.4" cy="1005.9" r="3.9" fill="#E69F00" fill-opacity="0.8" stroke="#E69F00" stroke-opacity="0.8" stroke-width="1"/>
<circle cx="118.4" cy="1009.4" r="3.9" fill="#E69F00" fill-opacity="0.8" stroke="#E69F00" stroke-opacity="0.8" stroke-width="1"/>
<circle cx="60.5" cy="1015.1" r="3.9" fill="#E69F00" fill-opacity="0.8" stroke="#E69F00" stroke-opacity="0.8" stroke-width="1"/>
<circle cx="59.9" cy="1019.4" r="3.9" fill="#E69F00" fill-opacity="0.8" stroke="#E69F00" stroke-opacity="0.8" stroke-width="1"/>
<circle cx="67.8" cy="1014.4" r="3.9" fill="#E69F00" fill-opacity="0.8" stroke="#E69F00" stroke-opacity="0.8" stroke-width="1"/>
<circle cx="69.7" cy="1013.8" r="3.9" fill="#E69F00" fill-opacity="0.8" stroke="#E69F00" stroke-opacity="0.8" stroke-width="1"/>
<circle cx="67.8" cy="1017.7" r="3.9" fill="#E69F00" fill-opacity="0.8" stroke="#E69F00" stroke-opacity="0.8" stroke-width="1"/>
<circle cx="117" cy="1016.8" r="3.9" fill="#E69F00" fill-opacity="0.8" stroke="#E69F00" stroke-opacity="0.8" stroke-width="1"/>
<circle cx="136.5" cy="1021.4" r="3.9" fill="#E69F00" fill-opacity="0.8" stroke="#E69F00" stroke-opacity="0.8" stroke-width="1"/>
<circle cx="148.2" cy="974.2" r="3.9" fill="#E69F00" fill-opacity="0.8" stroke="#E69F00" stroke-opacity="0.8" stroke-width="1"/>
<circle cx="149.5" cy="979.6" r="3.9" fill="#E69F00" fill-opacity="0.8" stroke="#E69F00" stroke-opacity="0.8" stroke-width="1"/>
<circle cx="176.4" cy="999.7" r="3.9" fill="#E69F00" fill-opacity="0.8" stroke="#E69F00" stroke-opacity="0.8" stroke-width="1"/>
<circle cx="171.9" cy="1009" r="3.9" fill="#E69F00" fill-opacity="0.8" stroke="#E69F00" stroke-opacity="0.8" stroke-width="1"/>
<circle cx="69.1" cy="961.6" r="3.9" fill="#76098F" fill-opacity="0.8" stroke="#76098F" stroke-opacity="0.8" stroke-width="1"/>
<circle cx="58.8" cy="971.5" r="3.9" fill="#76098F" fill-opacity="0.8" stroke="#76098F" stroke-opacity="0.8" stroke-width="1"/>
<circle cx="123.6" cy="979.2" r="3.9" fill="#76098F" fill-opacity="0.8" stroke="#76098F" stroke-opacity="0.8" stroke-width="1"/>
<circle cx="75.7" cy="985.5" r="3.9" fill="#76098F" fill-opacity="0.8" stroke="#76098F" stroke-opacity="0.8" stroke-width="1"/>
<circle cx="80.9" cy="988.4" r="3.9" fill="#76098F" fill-opacity="0.8" stroke="#76098F" stroke-opacity="0.8" stroke-width="1"/>
<circle cx="111.8" cy="984.6" r="3.9" fill="#76098F" fill-opacity="0.8" stroke="#76098F" stroke-opacity="0.8" stroke-width="1"/>
<circle cx="71.1" cy="998.7" r="3.9" fill="#76098F" fill-opacity="0.8" stroke="#76098F" stroke-opacity="0.8" stroke-width="1"/>
<circle cx="62.5" cy="1007.6" r="3.9" fill="#76098F" fill-opacity="0.8" stroke="#76098F" stroke-opacity="0.8" stroke-width="1"/>
<circle cx="104.6" cy="1003" r="3.9" fill="#76098F" fill-opacity="0.8" stroke="#76098F" stroke-opacity="0.8" stroke-width="1"/>
<circle cx="123.6" cy="996" r="3.9" fill="#76098F" fill-opacity="0.8" stroke="#76098F" stroke-opacity="0.8" stroke-width="1"/>
<circle cx="115.1" cy="1010.5" r="3.9" fill="#76098F" fill-opacity="0.8" stroke="#76098F" stroke-opacity="0.8" stroke-width="1"/>
<circle cx="130.2" cy="1003.6" r="3.9" fill="#76098F" fill-opacity="0.8" stroke="#76098F" stroke-opacity="0.8" stroke-width="1"/>
<circle cx="128.2" cy="1008.9" r="3.9" fill="#76098F" fill-opacity="0.8" stroke="#76098F" stroke-opacity="0.8" stroke-width="1"/>
<circle cx="130.2" cy="1010.5" r="3.9" fill="#76098F" fill-opacity="0.8" stroke="#76098F" stroke-opacity="0.8" stroke-width="1"/>
<circle cx="137.5" cy="1007.8" r="3.9" fill="#76098F" fill-opacity="0.8" stroke="#76098F" stroke-opacity="0.8" stroke-width="1"/>
<circle cx="129.5" cy="1019" r="3.9" fill="#76098F" fill-opacity="0.8" stroke="#76098F" stroke-opacity="0.8" stroke-width="1"/>
<circle cx="151.6" cy="994.3" r="3.9" fill="#76098F" fill-opacity="0.8" stroke="#76098F" stroke-opacity="0.8" stroke-width="1"/>
<circle cx="154" cy="996.3" r="3.9" fill="#76098F" fill-opacity="0.8" stroke="#76098F" stroke-opacity="0.8" stroke-width="1"/>
<circle cx="154" cy="1001.1" r="3.9" fill="#76098F" fill-opacity="0.8" stroke="#76098F" stroke-opacity="0.8" stroke-width="1"/>
<circle cx="150.2" cy="1018.5" r="3.9" fill="#76098F" fill-opacity="0.8" stroke="#76098F" stroke-opacity="0.8" stroke-width="1"/>
<circle cx="210.5" cy="1003.3" r="3.9" fill="#76098F" fill-opacity="0.8" stroke="#76098F" stroke-opacity="0.8" stroke-width="1"/>
<circle cx="219.4" cy="1014" r="3.9" fill="#76098F" fill-opacity="0.8" stroke="#76098F" stroke-opacity="0.8" stroke-width="1"/>
<circle cx="219.4" cy="1021" r="3.9" fill="#76098F" fill-opacity="0.8" stroke="#76098F" stroke-opacity="0.8" stroke-width="1"/>
<line x1="58.8" y1="992.31" x2="219.54" y2="1008.93" stroke="#000" stroke-width="3" stroke-linecap="butt"/>
<rect x="51.3" y="800.2" width="176.5" height="235.9" fill="none" stroke="#262626" stroke-width="1.2"/>
<line x1="47.1" y1="1028.4" x2="51.3" y2="1028.4" stroke="#262626" stroke-width="1.1"/>
<text x="42.21" y="1032.88" font-size="13.04" text-anchor="end" fill="#1a1a1a" textLength="7.83" lengthAdjust="spacingAndGlyphs">0</text>
<line x1="47.1" y1="990.39" x2="51.3" y2="990.39" stroke="#262626" stroke-width="1.1"/>
<text x="42.46" y="994.87" font-size="13.04" text-anchor="end" fill="#1a1a1a" textLength="7.83" lengthAdjust="spacingAndGlyphs">5</text>
<line x1="47.1" y1="952.37" x2="51.3" y2="952.37" stroke="#262626" stroke-width="1.1"/>
<text x="42.23" y="956.85" font-size="13.04" text-anchor="end" fill="#1a1a1a" textLength="15.65" lengthAdjust="spacingAndGlyphs">10</text>
<line x1="47.1" y1="914.36" x2="51.3" y2="914.36" stroke="#262626" stroke-width="1.1"/>
<text x="42.48" y="918.84" font-size="13.04" text-anchor="end" fill="#1a1a1a" textLength="15.65" lengthAdjust="spacingAndGlyphs">15</text>
<line x1="47.1" y1="876.34" x2="51.3" y2="876.34" stroke="#262626" stroke-width="1.1"/>
<text x="42.23" y="880.82" font-size="13.04" text-anchor="end" fill="#1a1a1a" textLength="15.65" lengthAdjust="spacingAndGlyphs">20</text>
<line x1="47.1" y1="838.33" x2="51.3" y2="838.33" stroke="#262626" stroke-width="1.1"/>
<text x="42.48" y="842.81" font-size="13.04" text-anchor="end" fill="#1a1a1a" textLength="15.65" lengthAdjust="spacingAndGlyphs">25</text>
<line x1="47.1" y1="800.31" x2="51.3" y2="800.31" stroke="#262626" stroke-width="1.1"/>
<text x="42.23" y="804.79" font-size="13.04" text-anchor="end" fill="#1a1a1a" textLength="15.65" lengthAdjust="spacingAndGlyphs">30</text>
<line x1="58.8" y1="1036.1" x2="58.8" y2="1040.3" stroke="#262626" stroke-width="1.1"/>
<text x="58.81" y="1054.7" font-size="13.04" text-anchor="middle" fill="#1a1a1a" textLength="7.83" lengthAdjust="spacingAndGlyphs">0</text>
<line x1="143.4" y1="1036.1" x2="143.4" y2="1040.3" stroke="#262626" stroke-width="1.1"/>
<text x="143.35" y="1054.7" font-size="13.04" text-anchor="middle" fill="#1a1a1a" textLength="15.65" lengthAdjust="spacingAndGlyphs">50</text>
<text x="138.95" y="1070.5" font-size="13.04" text-anchor="middle" fill="#1a1a1a" textLength="134.71" lengthAdjust="spacingAndGlyphs">Green space ratio (%)</text>
<text x="20.12" y="918.15" font-size="13.04" text-anchor="middle" fill="#1a1a1a" textLength="123.39" lengthAdjust="spacingAndGlyphs" transform="rotate(-90 20.12 918.15)">Inundation ratio (%)</text>
<text x="219.53" y="821.7" font-size="13.04" text-anchor="end" fill="#1a1a1a" textLength="141.33" lengthAdjust="spacingAndGlyphs">y = -0.0230x + 4.7462</text>
<text x="219.14" y="835.3" font-size="13.04" text-anchor="end" fill="#1a1a1a" textLength="74.64" lengthAdjust="spacingAndGlyphs">R² = 0.0538</text>
<text x="219.44" y="848.8" font-size="13.04" text-anchor="end" fill="#1a1a1a" textLength="68.97" lengthAdjust="spacingAndGlyphs">p = 0.0261</text>
<text x="256.2" y="780.2" font-size="15.2" text-anchor="start" fill="#111" >d</text>
<polygon points="285.2,957.5 292.54,958.93 299.89,960.32 307.23,961.68 314.58,962.99 321.92,964.26 329.26,965.48 336.61,966.64 343.95,967.74 351.3,968.78 358.64,969.75 365.98,970.65 373.33,971.48 380.67,972.25 388.02,972.97 395.36,973.63 402.7,974.25 410.05,974.82 417.39,975.37 424.74,975.88 432.08,976.37 439.42,976.83 446.77,977.28 446.77,999.05 439.42,997.56 432.08,996.09 424.74,994.64 417.39,993.22 410.05,991.82 402.7,990.47 395.36,989.15 388.02,987.88 380.67,986.66 373.33,985.5 365.98,984.4 358.64,983.36 351.3,982.4 343.95,981.5 336.61,980.66 329.26,979.89 321.92,979.18 314.58,978.51 307.23,977.9 299.89,977.32 292.54,976.78 285.2,976.26" fill="#d9d9d9"/>
<circle cx="304.9" cy="926.7" r="3.9" fill="#E69F00" fill-opacity="0.8" stroke="#E69F00" stroke-opacity="0.8" stroke-width="1"/>
<circle cx="307.6" cy="925.4" r="3.9" fill="#E69F00" fill-opacity="0.8" stroke="#E69F00" stroke-opacity="0.8" stroke-width="1"/>
<circle cx="320.4" cy="942.8" r="3.9" fill="#E69F00" fill-opacity="0.8" stroke="#E69F00" stroke-opacity="0.8" stroke-width="1"/>
<circle cx="309.9" cy="944.7" r="3.9" fill="#E69F00" fill-opacity="0.8" stroke="#E69F00" stroke-opacity="0.8" stroke-width="1"/>
<circle cx="307.6" cy="949.9" r="3.9" fill="#E69F00" fill-opacity="0.8" stroke="#E69F00" stroke-opacity="0.8" stroke-width="1"/>
<circle cx="304.3" cy="953.9" r="3.9" fill="#E69F00" fill-opacity="0.8" stroke="#E69F00" stroke-opacity="0.8" stroke-width="1"/>
<circle cx="308.9" cy="956.9" r="3.9" fill="#E69F00" fill-opacity="0.8" stroke="#E69F00" stroke-opacity="0.8" stroke-width="1"/>
<circle cx="314.1" cy="957.3" r="3.9" fill="#E69F00" fill-opacity="0.8" stroke="#E69F00" stroke-opacity="0.8" stroke-width="1"/>
<circle cx="318.1" cy="956.2" r="3.9" fill="#E69F00" fill-opacity="0.8" stroke="#E69F00" stroke-opacity="0.8" stroke-width="1"/>
<circle cx="322.7" cy="956.9" r="3.9" fill="#E69F00" fill-opacity="0.8" stroke="#E69F00" stroke-opacity="0.8" stroke-width="1"/>
<circle cx="326.6" cy="957.8" r="3.9" fill="#E69F00" fill-opacity="0.8" stroke="#E69F00" stroke-opacity="0.8" stroke-width="1"/>
<circle cx="337.8" cy="947.7" r="3.9" fill="#E69F00" fill-opacity="0.8" stroke="#E69F00" stroke-opacity="0.8" stroke-width="1"/>
<circle cx="335.8" cy="951.2" r="3.9" fill="#E69F00" fill-opacity="0.8" stroke="#E69F00" stroke-opacity="0.8" stroke-width="1"/>
<circle cx="356.8" cy="942.7" r="3.9" fill="#E69F00" fill-opacity="0.8" stroke="#E69F00" stroke-opacity="0.8" stroke-width="1"/>
<circle cx="365.4" cy="945.7" r="3.9" fill="#E69F00" fill-opacity="0.8" stroke="#E69F00" stroke-opacity="0.8" stroke-width="1"/>
<circle cx="288.8" cy="961.8" r="3.9" fill="#E69F00" fill-opacity="0.8" stroke="#E69F00" stroke-opacity="0.8" stroke-width="1"/>
<circle cx="293.1" cy="964.4" r="3.9" fill="#E69F00" fill-opacity="0.8" stroke="#E69F00" stroke-opacity="0.8" stroke-width="1"/>
<circle cx="358.6" cy="965.6" r="3.9" fill="#E69F00" fill-opacity="0.8" stroke="#E69F00" stroke-opacity="0.8" stroke-width="1"/>
<circle cx="292.2" cy="979.6" r="3.9" fill="#E69F00" fill-opacity="0.8" stroke="#E69F00" stroke-opacity="0.8" stroke-width="1"/>
<circle cx="303.9" cy="978.8" r="3.9" fill="#E69F00" fill-opacity="0.8" stroke="#E69F00" stroke-opacity="0.8" stroke-width="1"/>
<circle cx="326.6" cy="978.6" r="3.9" fill="#E69F00" fill-opacity="0.8" stroke="#E69F00" stroke-opacity="0.8" stroke-width="1"/>
<circle cx="357.5" cy="979.2" r="3.9" fill="#E69F00" fill-opacity="0.8" stroke="#E69F00" stroke-opacity="0.8" stroke-width="1"/>
<circle cx="363.1" cy="982.5" r="3.9" fill="#E69F00" fill-opacity="0.8" stroke="#E69F00" stroke-opacity="0.8" stroke-width="1"/>
<circle cx="295.7" cy="991.7" r="3.9" fill="#E69F00" fill-opacity="0.8" stroke="#E69F00" stroke-opacity="0.8" stroke-width="1"/>
<circle cx="304.3" cy="991.7" r="3.9" fill="#E69F00" fill-opacity="0.8" stroke="#E69F00" stroke-opacity="0.8" stroke-width="1"/>
<circle cx="331.2" cy="992.8" r="3.9" fill="#E69F00" fill-opacity="0.8" stroke="#E69F00" stroke-opacity="0.8" stroke-width="1"/>
<circle cx="332.5" cy="996.7" r="3.9" fill="#E69F00" fill-opacity="0.8" stroke="#E69F00" stroke-opacity="0.8" stroke-width="1"/>
<circle cx="351.3" cy="998.4" r="3.9" fill="#E69F00" fill-opacity="0.8" stroke="#E69F00" stroke-opacity="0.8" stroke-width="1"/>
<circle cx="319.8" cy="1001.9" r="3.9" fill="#E69F00" fill-opacity="0.8" stroke="#E69F00" stroke-opacity="0.8" stroke-width="1"/>
<circle cx="303" cy="1005" r="3.9" fill="#E69F00" fill-opacity="0.8" stroke="#E69F00" stroke-opacity="0.8" stroke-width="1"/>
<circle cx="345.4" cy="1021.2" r="3.9" fill="#E69F00" fill-opacity="0.8" stroke="#E69F00" stroke-opacity="0.8" stroke-width="1"/>
<circle cx="366.9" cy="994.7" r="3.9" fill="#E69F00" fill-opacity="0.8" stroke="#E69F00" stroke-opacity="0.8" stroke-width="1"/>
<circle cx="384.3" cy="947.8" r="3.9" fill="#E69F00" fill-opacity="0.8" stroke="#E69F00" stroke-opacity="0.8" stroke-width="1"/>
<circle cx="387" cy="948.2" r="3.9" fill="#E69F00" fill-opacity="0.8" stroke="#E69F00" stroke-opacity="0.8" stroke-width="1"/>
<circle cx="401.6" cy="951.6" r="3.9" fill="#E69F00" fill-opacity="0.8" stroke="#E69F00" stroke-opacity="0.8" stroke-width="1"/>
<circle cx="406.5" cy="969.7" r="3.9" fill="#E69F00" fill-opacity="0.8" stroke="#E69F00" stroke-opacity="0.8" stroke-width="1"/>
<circle cx="382.2" cy="974.5" r="3.9" fill="#E69F00" fill-opacity="0.8" stroke="#E69F00" stroke-opacity="0.8" stroke-width="1"/>
<circle cx="407.8" cy="979.4" r="3.9" fill="#E69F00" fill-opacity="0.8" stroke="#E69F00" stroke-opacity="0.8" stroke-width="1"/>
<circle cx="408.3" cy="990.5" r="3.9" fill="#E69F00" fill-opacity="0.8" stroke="#E69F00" stroke-opacity="0.8" stroke-width="1"/>
<circle cx="412.7" cy="999.9" r="3.9" fill="#E69F00" fill-opacity="0.8" stroke="#E69F00" stroke-opacity="0.8" stroke-width="1"/>
<circle cx="446.7" cy="992.6" r="3.9" fill="#E69F00" fill-opacity="0.8" stroke="#E69F00" stroke-opacity="0.8" stroke-width="1"/>
<circle cx="325.6" cy="913.1" r="3.9" fill="#76098F" fill-opacity="0.8" stroke="#76098F" stroke-opacity="0.8" stroke-width="1"/>
<circle cx="311.5" cy="932.6" r="3.9" fill="#76098F" fill-opacity="0.8" stroke="#76098F" stroke-opacity="0.8" stroke-width="1"/>
<circle cx="298.4" cy="937.8" r="3.9" fill="#76098F" fill-opacity="0.8" stroke="#76098F" stroke-opacity="0.8" stroke-width="1"/>
<circle cx="296.4" cy="961.5" r="3.9" fill="#76098F" fill-opacity="0.8" stroke="#76098F" stroke-opacity="0.8" stroke-width="1"/>
<circle cx="286" cy="985.1" r="3.9" fill="#76098F" fill-opacity="0.8" stroke="#76098F" stroke-opacity="0.8" stroke-width="1"/>
<circle cx="303" cy="985.4" r="3.9" fill="#76098F" fill-opacity="0.8" stroke="#76098F" stroke-opacity="0.8" stroke-width="1"/>
<circle cx="308.9" cy="988.4" r="3.9" fill="#76098F" fill-opacity="0.8" stroke="#76098F" stroke-opacity="0.8" stroke-width="1"/>
<circle cx="342.4" cy="984.5" r="3.9" fill="#76098F" fill-opacity="0.8" stroke="#76098F" stroke-opacity="0.8" stroke-width="1"/>
<circle cx="298" cy="998.6" r="3.9" fill="#76098F" fill-opacity="0.8" stroke="#76098F" stroke-opacity="0.8" stroke-width="1"/>
<circle cx="354.9" cy="996.7" r="3.9" fill="#76098F" fill-opacity="0.8" stroke="#76098F" stroke-opacity="0.8" stroke-width="1"/>
<circle cx="292.2" cy="1010.9" r="3.9" fill="#76098F" fill-opacity="0.8" stroke="#76098F" stroke-opacity="0.8" stroke-width="1"/>
<circle cx="346.1" cy="1010.5" r="3.9" fill="#76098F" fill-opacity="0.8" stroke="#76098F" stroke-opacity="0.8" stroke-width="1"/>
<circle cx="362.3" cy="1003.9" r="3.9" fill="#76098F" fill-opacity="0.8" stroke="#76098F" stroke-opacity="0.8" stroke-width="1"/>
<circle cx="362.2" cy="1010.4" r="3.9" fill="#76098F" fill-opacity="0.8" stroke="#76098F" stroke-opacity="0.8" stroke-width="1"/>
<circle cx="361.9" cy="1019" r="3.9" fill="#76098F" fill-opacity="0.8" stroke="#76098F" stroke-opacity="0.8" stroke-width="1"/>
<circle cx="368" cy="993.4" r="3.9" fill="#76098F" fill-opacity="0.8" stroke="#76098F" stroke-opacity="0.8" stroke-width="1"/>
<circle cx="388.7" cy="971.8" r="3.9" fill="#76098F" fill-opacity="0.8" stroke="#76098F" stroke-opacity="0.8" stroke-width="1"/>
<circle cx="394.7" cy="977.7" r="3.9" fill="#76098F" fill-opacity="0.8" stroke="#76098F" stroke-opacity="0.8" stroke-width="1"/>
<circle cx="410.2" cy="980.1" r="3.9" fill="#76098F" fill-opacity="0.8" stroke="#76098F" stroke-opacity="0.8" stroke-width="1"/>
<circle cx="401.3" cy="992.3" r="3.9" fill="#76098F" fill-opacity="0.8" stroke="#76098F" stroke-opacity="0.8" stroke-width="1"/>
<circle cx="387.7" cy="996.4" r="3.9" fill="#76098F" fill-opacity="0.8" stroke="#76098F" stroke-opacity="0.8" stroke-width="1"/>
<circle cx="405.1" cy="1004.3" r="3.9" fill="#76098F" fill-opacity="0.8" stroke="#76098F" stroke-opacity="0.8" stroke-width="1"/>
<circle cx="370.4" cy="1008.1" r="3.9" fill="#76098F" fill-opacity="0.8" stroke="#76098F" stroke-opacity="0.8" stroke-width="1"/>
<line x1="285.2" y1="966.88" x2="446.77" y2="988.16" stroke="#000" stroke-width="3" stroke-linecap="butt"/>
<rect x="278.3" y="800.1" width="176.5" height="235.9" fill="none" stroke="#262626" stroke-width="1.2"/>
<line x1="274.1" y1="1028.4" x2="278.3" y2="1028.4" stroke="#262626" stroke-width="1.1"/>
<text x="269.21" y="1032.88" font-size="13.04" text-anchor="end" fill="#1a1a1a" textLength="7.83" lengthAdjust="spacingAndGlyphs">0</text>
<line x1="274.1" y1="990.39" x2="278.3" y2="990.39" stroke="#262626" stroke-width="1.1"/>
<text x="269.46" y="994.87" font-size="13.04" text-anchor="end" fill="#1a1a1a" textLength="7.83" lengthAdjust="spacingAndGlyphs">5</text>
<line x1="274.1" y1="952.37" x2="278.3" y2="952.37" stroke="#262626" stroke-width="1.1"/>
<text x="269.23" y="956.85" font-size="13.04" text-anchor="end" fill="#1a1a1a" textLength="15.65" lengthAdjust="spacingAndGlyphs">10</text>
<line x1="274.1" y1="914.36" x2="278.3" y2="914.36" stroke="#262626" stroke-width="1.1"/>
<text x="269.48" y="918.84" font-size="13.04" text-anchor="end" fill="#1a1a1a" textLength="15.65" lengthAdjust="spacingAndGlyphs">15</text>
<line x1="274.1" y1="876.34" x2="278.3" y2="876.34" stroke="#262626" stroke-width="1.1"/>
<text x="269.23" y="880.82" font-size="13.04" text-anchor="end" fill="#1a1a1a" textLength="15.65" lengthAdjust="spacingAndGlyphs">20</text>
<line x1="274.1" y1="838.33" x2="278.3" y2="838.33" stroke="#262626" stroke-width="1.1"/>
<text x="269.48" y="842.81" font-size="13.04" text-anchor="end" fill="#1a1a1a" textLength="15.65" lengthAdjust="spacingAndGlyphs">25</text>
<line x1="274.1" y1="800.31" x2="278.3" y2="800.31" stroke="#262626" stroke-width="1.1"/>
<text x="269.23" y="804.79" font-size="13.04" text-anchor="end" fill="#1a1a1a" textLength="15.65" lengthAdjust="spacingAndGlyphs">30</text>
<line x1="285.2" y1="1036" x2="285.2" y2="1040.2" stroke="#262626" stroke-width="1.1"/>
<text x="285.21" y="1054.6" font-size="13.04" text-anchor="middle" fill="#1a1a1a" textLength="7.83" lengthAdjust="spacingAndGlyphs">0</text>
<line x1="331.1" y1="1036" x2="331.1" y2="1040.2" stroke="#262626" stroke-width="1.1"/>
<text x="331.18" y="1054.6" font-size="13.04" text-anchor="middle" fill="#1a1a1a" textLength="15.65" lengthAdjust="spacingAndGlyphs">25</text>
<line x1="377" y1="1036" x2="377" y2="1040.2" stroke="#262626" stroke-width="1.1"/>
<text x="376.95" y="1054.6" font-size="13.04" text-anchor="middle" fill="#1a1a1a" textLength="15.65" lengthAdjust="spacingAndGlyphs">50</text>
<line x1="422.9" y1="1036" x2="422.9" y2="1040.2" stroke="#262626" stroke-width="1.1"/>
<text x="422.95" y="1054.6" font-size="13.04" text-anchor="middle" fill="#1a1a1a" textLength="15.65" lengthAdjust="spacingAndGlyphs">75</text>
<text x="365.95" y="1070.4" font-size="13.04" text-anchor="middle" fill="#1a1a1a" textLength="134.71" lengthAdjust="spacingAndGlyphs">Green space ratio (%)</text>
<text x="247.12" y="918.05" font-size="13.04" text-anchor="middle" fill="#1a1a1a" textLength="123.39" lengthAdjust="spacingAndGlyphs" transform="rotate(-90 247.12 918.05)">Inundation ratio (%)</text>
<text x="446.1" y="821.6" font-size="13.04" text-anchor="end" fill="#1a1a1a" textLength="141.33" lengthAdjust="spacingAndGlyphs">y = -0.0318x + 8.0910</text>
<text x="446.57" y="835.2" font-size="13.04" text-anchor="end" fill="#1a1a1a" textLength="74.64" lengthAdjust="spacingAndGlyphs">R² = 0.0492</text>
<text x="446.56" y="848.7" font-size="13.04" text-anchor="end" fill="#1a1a1a" textLength="68.97" lengthAdjust="spacingAndGlyphs">p = 0.0452</text>
<text x="481.9" y="780.2" font-size="15.2" text-anchor="start" fill="#111" >e</text>
<polygon points="509.8,823.1 517,829 525.6,835.3 534,843.3 543.1,851.8 551.5,860.8 560.6,870.4 569,879.8 578.1,889.6 585,898.3 592.2,907.2 599,915.3 606.2,922.9 611,927.5 616.7,931.7 625,933.7 634.2,935.2 645,937 655.2,938.7 663,940 670.3,941.1 670.3,1034.5 665.7,1029.8 660.5,1022.8 655.2,1015.8 648,1006.5 641.2,998.3 631,988.5 620.2,977.2 610,966.2 599.2,956.2 589,948.3 578.1,942.2 565,938.3 550.1,935.2 530,932.6 509.8,930.6" fill="#d9d9d9"/>
<circle cx="520.4" cy="874.5" r="3.9" fill="#E69F00" fill-opacity="0.8" stroke="#E69F00" stroke-opacity="0.8" stroke-width="1"/>
<circle cx="583.4" cy="902.2" r="3.9" fill="#E69F00" fill-opacity="0.8" stroke="#E69F00" stroke-opacity="0.8" stroke-width="1"/>
<circle cx="566.1" cy="912.6" r="3.9" fill="#E69F00" fill-opacity="0.8" stroke="#E69F00" stroke-opacity="0.8" stroke-width="1"/>
<circle cx="528" cy="925.3" r="3.9" fill="#E69F00" fill-opacity="0.8" stroke="#E69F00" stroke-opacity="0.8" stroke-width="1"/>
<circle cx="551.7" cy="931.2" r="3.9" fill="#E69F00" fill-opacity="0.8" stroke="#E69F00" stroke-opacity="0.8" stroke-width="1"/>
<circle cx="570.3" cy="937.5" r="3.9" fill="#E69F00" fill-opacity="0.8" stroke="#E69F00" stroke-opacity="0.8" stroke-width="1"/>
<circle cx="580.8" cy="932.7" r="3.9" fill="#E69F00" fill-opacity="0.8" stroke="#E69F00" stroke-opacity="0.8" stroke-width="1"/>
<circle cx="580.2" cy="941.5" r="3.9" fill="#E69F00" fill-opacity="0.8" stroke="#E69F00" stroke-opacity="0.8" stroke-width="1"/>
<circle cx="590.5" cy="928.5" r="3.9" fill="#E69F00" fill-opacity="0.8" stroke="#E69F00" stroke-opacity="0.8" stroke-width="1"/>
<circle cx="588.7" cy="944.5" r="3.9" fill="#E69F00" fill-opacity="0.8" stroke="#E69F00" stroke-opacity="0.8" stroke-width="1"/>
<circle cx="543.2" cy="942.5" r="3.9" fill="#E69F00" fill-opacity="0.8" stroke="#E69F00" stroke-opacity="0.8" stroke-width="1"/>
<circle cx="527" cy="952.5" r="3.9" fill="#E69F00" fill-opacity="0.8" stroke="#E69F00" stroke-opacity="0.8" stroke-width="1"/>
<circle cx="531.6" cy="955.8" r="3.9" fill="#E69F00" fill-opacity="0.8" stroke="#E69F00" stroke-opacity="0.8" stroke-width="1"/>
<circle cx="537.2" cy="956" r="3.9" fill="#E69F00" fill-opacity="0.8" stroke="#E69F00" stroke-opacity="0.8" stroke-width="1"/>
<circle cx="549.3" cy="956.4" r="3.9" fill="#E69F00" fill-opacity="0.8" stroke="#E69F00" stroke-opacity="0.8" stroke-width="1"/>
<circle cx="558.9" cy="950.2" r="3.9" fill="#E69F00" fill-opacity="0.8" stroke="#E69F00" stroke-opacity="0.8" stroke-width="1"/>
<circle cx="515.8" cy="963.7" r="3.9" fill="#E69F00" fill-opacity="0.8" stroke="#E69F00" stroke-opacity="0.8" stroke-width="1"/>
<circle cx="549.6" cy="977.4" r="3.9" fill="#E69F00" fill-opacity="0.8" stroke="#E69F00" stroke-opacity="0.8" stroke-width="1"/>
<circle cx="580.8" cy="977.8" r="3.9" fill="#E69F00" fill-opacity="0.8" stroke="#E69F00" stroke-opacity="0.8" stroke-width="1"/>
<circle cx="586.5" cy="981.1" r="3.9" fill="#E69F00" fill-opacity="0.8" stroke="#E69F00" stroke-opacity="0.8" stroke-width="1"/>
<circle cx="568.7" cy="1019.9" r="3.9" fill="#E69F00" fill-opacity="0.8" stroke="#E69F00" stroke-opacity="0.8" stroke-width="1"/>
<circle cx="623.6" cy="876.9" r="3.9" fill="#E69F00" fill-opacity="0.8" stroke="#E69F00" stroke-opacity="0.8" stroke-width="1"/>
<circle cx="612.3" cy="898.4" r="3.9" fill="#E69F00" fill-opacity="0.8" stroke="#E69F00" stroke-opacity="0.8" stroke-width="1"/>
<circle cx="630.8" cy="932.7" r="3.9" fill="#E69F00" fill-opacity="0.8" stroke="#E69F00" stroke-opacity="0.8" stroke-width="1"/>
<circle cx="608.3" cy="946" r="3.9" fill="#E69F00" fill-opacity="0.8" stroke="#E69F00" stroke-opacity="0.8" stroke-width="1"/>
<circle cx="619" cy="952.8" r="3.9" fill="#E69F00" fill-opacity="0.8" stroke="#E69F00" stroke-opacity="0.8" stroke-width="1"/>
<circle cx="614.8" cy="955.6" r="3.9" fill="#E69F00" fill-opacity="0.8" stroke="#E69F00" stroke-opacity="0.8" stroke-width="1"/>
<circle cx="630.1" cy="968.9" r="3.9" fill="#E69F00" fill-opacity="0.8" stroke="#E69F00" stroke-opacity="0.8" stroke-width="1"/>
<circle cx="606.5" cy="974.4" r="3.9" fill="#E69F00" fill-opacity="0.8" stroke="#E69F00" stroke-opacity="0.8" stroke-width="1"/>
<circle cx="631.9" cy="979" r="3.9" fill="#E69F00" fill-opacity="0.8" stroke="#E69F00" stroke-opacity="0.8" stroke-width="1"/>
<circle cx="670.7" cy="991.7" r="3.9" fill="#E69F00" fill-opacity="0.8" stroke="#E69F00" stroke-opacity="0.8" stroke-width="1"/>
<circle cx="622" cy="1016.1" r="3.9" fill="#E69F00" fill-opacity="0.8" stroke="#E69F00" stroke-opacity="0.8" stroke-width="1"/>
<circle cx="607.7" cy="828.4" r="3.9" fill="#E69F00" fill-opacity="0.8" stroke="#E69F00" stroke-opacity="0.8" stroke-width="1"/>
<circle cx="548.6" cy="912.2" r="3.9" fill="#76098F" fill-opacity="0.8" stroke="#76098F" stroke-opacity="0.8" stroke-width="1"/>
<circle cx="553.2" cy="918.7" r="3.9" fill="#76098F" fill-opacity="0.8" stroke="#76098F" stroke-opacity="0.8" stroke-width="1"/>
<circle cx="556.9" cy="916.8" r="3.9" fill="#76098F" fill-opacity="0.8" stroke="#76098F" stroke-opacity="0.8" stroke-width="1"/>
<circle cx="564.8" cy="918.5" r="3.9" fill="#76098F" fill-opacity="0.8" stroke="#76098F" stroke-opacity="0.8" stroke-width="1"/>
<circle cx="532.6" cy="923.7" r="3.9" fill="#76098F" fill-opacity="0.8" stroke="#76098F" stroke-opacity="0.8" stroke-width="1"/>
<circle cx="521.4" cy="936.9" r="3.9" fill="#76098F" fill-opacity="0.8" stroke="#76098F" stroke-opacity="0.8" stroke-width="1"/>
<circle cx="533.4" cy="948.3" r="3.9" fill="#76098F" fill-opacity="0.8" stroke="#76098F" stroke-opacity="0.8" stroke-width="1"/>
<circle cx="541.4" cy="958.1" r="3.9" fill="#76098F" fill-opacity="0.8" stroke="#76098F" stroke-opacity="0.8" stroke-width="1"/>
<circle cx="514.9" cy="1009.6" r="3.9" fill="#76098F" fill-opacity="0.8" stroke="#76098F" stroke-opacity="0.8" stroke-width="1"/>
<circle cx="625.9" cy="919" r="3.9" fill="#76098F" fill-opacity="0.8" stroke="#76098F" stroke-opacity="0.8" stroke-width="1"/>
<circle cx="612" cy="970.4" r="3.9" fill="#76098F" fill-opacity="0.8" stroke="#76098F" stroke-opacity="0.8" stroke-width="1"/>
<circle cx="618" cy="976.6" r="3.9" fill="#76098F" fill-opacity="0.8" stroke="#76098F" stroke-opacity="0.8" stroke-width="1"/>
<circle cx="592.2" cy="992.2" r="3.9" fill="#76098F" fill-opacity="0.8" stroke="#76098F" stroke-opacity="0.8" stroke-width="1"/>
<circle cx="628.7" cy="1003" r="3.9" fill="#76098F" fill-opacity="0.8" stroke="#76098F" stroke-opacity="0.8" stroke-width="1"/>
<circle cx="613" cy="1018.1" r="3.9" fill="#76098F" fill-opacity="0.8" stroke="#76098F" stroke-opacity="0.8" stroke-width="1"/>
<line x1="510.17" y1="882.69" x2="669.34" y2="989.03" stroke="#000" stroke-width="3" stroke-linecap="butt"/>
<rect x="502.5" y="799" width="176.4" height="235.9" fill="none" stroke="#262626" stroke-width="1.2"/>
<line x1="498.3" y1="1027.2" x2="502.5" y2="1027.2" stroke="#262626" stroke-width="1.1"/>
<text x="493.41" y="1031.68" font-size="13.04" text-anchor="end" fill="#1a1a1a" textLength="7.83" lengthAdjust="spacingAndGlyphs">0</text>
<line x1="498.3" y1="989.19" x2="502.5" y2="989.19" stroke="#262626" stroke-width="1.1"/>
<text x="493.66" y="993.67" font-size="13.04" text-anchor="end" fill="#1a1a1a" textLength="7.83" lengthAdjust="spacingAndGlyphs">5</text>
<line x1="498.3" y1="951.17" x2="502.5" y2="951.17" stroke="#262626" stroke-width="1.1"/>
<text x="493.43" y="955.65" font-size="13.04" text-anchor="end" fill="#1a1a1a" textLength="15.65" lengthAdjust="spacingAndGlyphs">10</text>
<line x1="498.3" y1="913.16" x2="502.5" y2="913.16" stroke="#262626" stroke-width="1.1"/>
<text x="493.68" y="917.64" font-size="13.04" text-anchor="end" fill="#1a1a1a" textLength="15.65" lengthAdjust="spacingAndGlyphs">15</text>
<line x1="498.3" y1="875.14" x2="502.5" y2="875.14" stroke="#262626" stroke-width="1.1"/>
<text x="493.43" y="879.62" font-size="13.04" text-anchor="end" fill="#1a1a1a" textLength="15.65" lengthAdjust="spacingAndGlyphs">20</text>
<line x1="498.3" y1="837.12" x2="502.5" y2="837.12" stroke="#262626" stroke-width="1.1"/>
<text x="493.68" y="841.61" font-size="13.04" text-anchor="end" fill="#1a1a1a" textLength="15.65" lengthAdjust="spacingAndGlyphs">25</text>
<line x1="498.3" y1="799.11" x2="502.5" y2="799.11" stroke="#262626" stroke-width="1.1"/>
<text x="493.43" y="803.59" font-size="13.04" text-anchor="end" fill="#1a1a1a" textLength="15.65" lengthAdjust="spacingAndGlyphs">30</text>
<line x1="507.6" y1="1034.9" x2="507.6" y2="1039.1" stroke="#262626" stroke-width="1.1"/>
<text x="507.61" y="1053.5" font-size="13.04" text-anchor="middle" fill="#1a1a1a" textLength="7.83" lengthAdjust="spacingAndGlyphs">0</text>
<line x1="553.55" y1="1034.9" x2="553.55" y2="1039.1" stroke="#262626" stroke-width="1.1"/>
<text x="553.63" y="1053.5" font-size="13.04" text-anchor="middle" fill="#1a1a1a" textLength="15.65" lengthAdjust="spacingAndGlyphs">25</text>
<line x1="599.5" y1="1034.9" x2="599.5" y2="1039.1" stroke="#262626" stroke-width="1.1"/>
<text x="599.45" y="1053.5" font-size="13.04" text-anchor="middle" fill="#1a1a1a" textLength="15.65" lengthAdjust="spacingAndGlyphs">50</text>
<line x1="645.45" y1="1034.9" x2="645.45" y2="1039.1" stroke="#262626" stroke-width="1.1"/>
<text x="645.5" y="1053.5" font-size="13.04" text-anchor="middle" fill="#1a1a1a" textLength="15.65" lengthAdjust="spacingAndGlyphs">75</text>
<text x="590.1" y="1069.3" font-size="13.04" text-anchor="middle" fill="#1a1a1a" textLength="134.71" lengthAdjust="spacingAndGlyphs">Green space ratio (%)</text>
<text x="471.32" y="916.95" font-size="13.04" text-anchor="middle" fill="#1a1a1a" textLength="123.39" lengthAdjust="spacingAndGlyphs" transform="rotate(-90 471.32 916.95)">Inundation ratio (%)</text>
<text x="670.46" y="820.5" font-size="13.04" text-anchor="end" fill="#1a1a1a" textLength="149.15" lengthAdjust="spacingAndGlyphs">y = -0.1615x + 19.2327</text>
<text x="670.12" y="834.1" font-size="13.04" text-anchor="end" fill="#1a1a1a" textLength="74.64" lengthAdjust="spacingAndGlyphs">R² = 0.1094</text>
<text x="670.48" y="847.6" font-size="13.04" text-anchor="end" fill="#1a1a1a" textLength="68.97" lengthAdjust="spacingAndGlyphs">p = 0.0045</text>
</svg>
</body></html>
